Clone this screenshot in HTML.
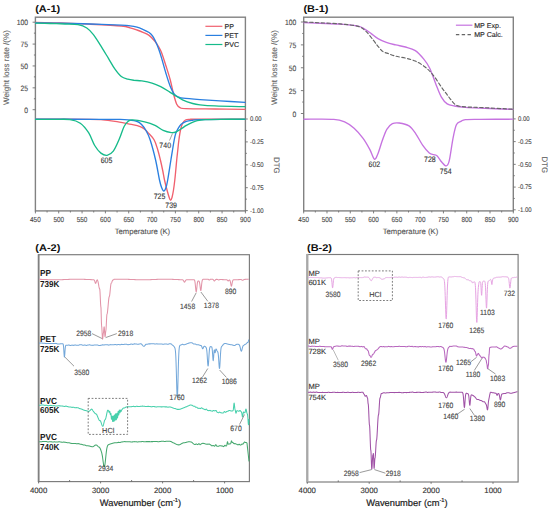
<!DOCTYPE html>
<html><head><meta charset="utf-8"><style>
html,body{margin:0;padding:0;background:#fff;width:550px;height:510px;overflow:hidden}
svg{display:block}
text{font-family:"Liberation Sans",sans-serif;text-rendering:geometricPrecision}
</style></head><body>
<svg width="550" height="510" viewBox="0 0 550 510">
<rect width="550" height="510" fill="#fff"/>
<text x="0" y="0" font-size="9.73" fill="#111" text-anchor="start" font-weight="bold"  transform="translate(35.2 12.2) scale(1.13 1)">(A-1)</text>
<rect x="35.4" y="17.2" width="210" height="193.7" fill="none" stroke="#828282" stroke-width="1.4"/>
<line x1="35.4" y1="210.9" x2="35.4" y2="213.4" stroke="#707070" stroke-width="0.9"/>
<text x="0" y="0" font-size="7.27" fill="#4a4a4a" text-anchor="middle" font-weight="normal" stroke="#4a4a4a" stroke-width="0.12"  transform="translate(35.4 221.6) scale(0.88 1)">450</text>
<line x1="47.07" y1="210.9" x2="47.07" y2="212.5" stroke="#707070" stroke-width="0.9"/>
<line x1="58.73" y1="210.9" x2="58.73" y2="213.4" stroke="#707070" stroke-width="0.9"/>
<text x="0" y="0" font-size="7.27" fill="#4a4a4a" text-anchor="middle" font-weight="normal" stroke="#4a4a4a" stroke-width="0.12"  transform="translate(58.73 221.6) scale(0.88 1)">500</text>
<line x1="70.4" y1="210.9" x2="70.4" y2="212.5" stroke="#707070" stroke-width="0.9"/>
<line x1="82.07" y1="210.9" x2="82.07" y2="213.4" stroke="#707070" stroke-width="0.9"/>
<text x="0" y="0" font-size="7.27" fill="#4a4a4a" text-anchor="middle" font-weight="normal" stroke="#4a4a4a" stroke-width="0.12"  transform="translate(82.07 221.6) scale(0.88 1)">550</text>
<line x1="93.73" y1="210.9" x2="93.73" y2="212.5" stroke="#707070" stroke-width="0.9"/>
<line x1="105.4" y1="210.9" x2="105.4" y2="213.4" stroke="#707070" stroke-width="0.9"/>
<text x="0" y="0" font-size="7.27" fill="#4a4a4a" text-anchor="middle" font-weight="normal" stroke="#4a4a4a" stroke-width="0.12"  transform="translate(105.4 221.6) scale(0.88 1)">600</text>
<line x1="117.07" y1="210.9" x2="117.07" y2="212.5" stroke="#707070" stroke-width="0.9"/>
<line x1="128.73" y1="210.9" x2="128.73" y2="213.4" stroke="#707070" stroke-width="0.9"/>
<text x="0" y="0" font-size="7.27" fill="#4a4a4a" text-anchor="middle" font-weight="normal" stroke="#4a4a4a" stroke-width="0.12"  transform="translate(128.73 221.6) scale(0.88 1)">650</text>
<line x1="140.4" y1="210.9" x2="140.4" y2="212.5" stroke="#707070" stroke-width="0.9"/>
<line x1="152.07" y1="210.9" x2="152.07" y2="213.4" stroke="#707070" stroke-width="0.9"/>
<text x="0" y="0" font-size="7.27" fill="#4a4a4a" text-anchor="middle" font-weight="normal" stroke="#4a4a4a" stroke-width="0.12"  transform="translate(152.07 221.6) scale(0.88 1)">700</text>
<line x1="163.73" y1="210.9" x2="163.73" y2="212.5" stroke="#707070" stroke-width="0.9"/>
<line x1="175.4" y1="210.9" x2="175.4" y2="213.4" stroke="#707070" stroke-width="0.9"/>
<text x="0" y="0" font-size="7.27" fill="#4a4a4a" text-anchor="middle" font-weight="normal" stroke="#4a4a4a" stroke-width="0.12"  transform="translate(175.4 221.6) scale(0.88 1)">750</text>
<line x1="187.07" y1="210.9" x2="187.07" y2="212.5" stroke="#707070" stroke-width="0.9"/>
<line x1="198.73" y1="210.9" x2="198.73" y2="213.4" stroke="#707070" stroke-width="0.9"/>
<text x="0" y="0" font-size="7.27" fill="#4a4a4a" text-anchor="middle" font-weight="normal" stroke="#4a4a4a" stroke-width="0.12"  transform="translate(198.73 221.6) scale(0.88 1)">800</text>
<line x1="210.4" y1="210.9" x2="210.4" y2="212.5" stroke="#707070" stroke-width="0.9"/>
<line x1="222.07" y1="210.9" x2="222.07" y2="213.4" stroke="#707070" stroke-width="0.9"/>
<text x="0" y="0" font-size="7.27" fill="#4a4a4a" text-anchor="middle" font-weight="normal" stroke="#4a4a4a" stroke-width="0.12"  transform="translate(222.07 221.6) scale(0.88 1)">850</text>
<line x1="233.73" y1="210.9" x2="233.73" y2="212.5" stroke="#707070" stroke-width="0.9"/>
<line x1="245.4" y1="210.9" x2="245.4" y2="213.4" stroke="#707070" stroke-width="0.9"/>
<text x="0" y="0" font-size="7.27" fill="#4a4a4a" text-anchor="middle" font-weight="normal" stroke="#4a4a4a" stroke-width="0.12"  transform="translate(245.4 221.6) scale(0.88 1)">900</text>
<line x1="32.6" y1="22.2" x2="35.4" y2="22.2" stroke="#707070" stroke-width="0.9"/>
<text x="0" y="0" font-size="7.73" fill="#4a4a4a" text-anchor="end" font-weight="normal" stroke="#4a4a4a" stroke-width="0.12"  transform="translate(28.1 25.3) scale(0.88 1)">100</text>
<line x1="33.9" y1="33.14" x2="35.4" y2="33.14" stroke="#707070" stroke-width="0.9"/>
<line x1="32.6" y1="44.08" x2="35.4" y2="44.08" stroke="#707070" stroke-width="0.9"/>
<text x="0" y="0" font-size="7.73" fill="#4a4a4a" text-anchor="end" font-weight="normal" stroke="#4a4a4a" stroke-width="0.12"  transform="translate(28.1 47.18) scale(0.88 1)">75</text>
<line x1="33.9" y1="55.01" x2="35.4" y2="55.01" stroke="#707070" stroke-width="0.9"/>
<line x1="32.6" y1="65.95" x2="35.4" y2="65.95" stroke="#707070" stroke-width="0.9"/>
<text x="0" y="0" font-size="7.73" fill="#4a4a4a" text-anchor="end" font-weight="normal" stroke="#4a4a4a" stroke-width="0.12"  transform="translate(28.1 69.05) scale(0.88 1)">50</text>
<line x1="33.9" y1="76.89" x2="35.4" y2="76.89" stroke="#707070" stroke-width="0.9"/>
<line x1="32.6" y1="87.83" x2="35.4" y2="87.83" stroke="#707070" stroke-width="0.9"/>
<text x="0" y="0" font-size="7.73" fill="#4a4a4a" text-anchor="end" font-weight="normal" stroke="#4a4a4a" stroke-width="0.12"  transform="translate(28.1 90.92) scale(0.88 1)">25</text>
<line x1="33.9" y1="98.76" x2="35.4" y2="98.76" stroke="#707070" stroke-width="0.9"/>
<line x1="32.6" y1="109.7" x2="35.4" y2="109.7" stroke="#707070" stroke-width="0.9"/>
<text x="0" y="0" font-size="7.73" fill="#4a4a4a" text-anchor="end" font-weight="normal" stroke="#4a4a4a" stroke-width="0.12"  transform="translate(28.1 112.8) scale(0.88 1)">0</text>
<line x1="245.4" y1="119" x2="247.8" y2="119" stroke="#707070" stroke-width="0.9"/>
<text x="0" y="0" font-size="6.67" fill="#4a4a4a" text-anchor="start" font-weight="normal" stroke="#4a4a4a" stroke-width="0.12"  transform="translate(250 121.3) scale(0.9 1)">0.00</text>
<line x1="245.4" y1="130.45" x2="246.9" y2="130.45" stroke="#707070" stroke-width="0.9"/>
<line x1="245.4" y1="141.9" x2="247.8" y2="141.9" stroke="#707070" stroke-width="0.9"/>
<text x="0" y="0" font-size="6.67" fill="#4a4a4a" text-anchor="start" font-weight="normal" stroke="#4a4a4a" stroke-width="0.12"  transform="translate(250 144.2) scale(0.9 1)">-0.25</text>
<line x1="245.4" y1="153.35" x2="246.9" y2="153.35" stroke="#707070" stroke-width="0.9"/>
<line x1="245.4" y1="164.8" x2="247.8" y2="164.8" stroke="#707070" stroke-width="0.9"/>
<text x="0" y="0" font-size="6.67" fill="#4a4a4a" text-anchor="start" font-weight="normal" stroke="#4a4a4a" stroke-width="0.12"  transform="translate(250 167.1) scale(0.9 1)">-0.50</text>
<line x1="245.4" y1="176.25" x2="246.9" y2="176.25" stroke="#707070" stroke-width="0.9"/>
<line x1="245.4" y1="187.7" x2="247.8" y2="187.7" stroke="#707070" stroke-width="0.9"/>
<text x="0" y="0" font-size="6.67" fill="#4a4a4a" text-anchor="start" font-weight="normal" stroke="#4a4a4a" stroke-width="0.12"  transform="translate(250 190) scale(0.9 1)">-0.75</text>
<line x1="245.4" y1="199.15" x2="246.9" y2="199.15" stroke="#707070" stroke-width="0.9"/>
<line x1="245.4" y1="210.6" x2="247.8" y2="210.6" stroke="#707070" stroke-width="0.9"/>
<text x="0" y="0" font-size="6.67" fill="#4a4a4a" text-anchor="start" font-weight="normal" stroke="#4a4a4a" stroke-width="0.12"  transform="translate(250 212.9) scale(0.9 1)">-1.00</text>
<text x="142.4" y="233.6" font-size="7.7" fill="#555" text-anchor="middle" font-weight="normal" stroke="#555" stroke-width="0.12" >Temperature (K)</text>
<text x="0" y="0" font-size="8.1" fill="#666" text-anchor="middle" font-weight="normal" stroke="#666" stroke-width="0.1" transform="translate(8.5 67.6) rotate(-90)">Weight loss rate /(%)</text>
<text x="0" y="0" font-size="7.9" fill="#666" text-anchor="middle" font-weight="normal" stroke="#666" stroke-width="0.12" transform="translate(273.9 165.3) rotate(90)">DTG</text>
<path d="M35.6 22.4 C39.67 22.5 50.93 22.7 60 23 C69.07 23.3 79.78 23.7 90 24.2 C100.22 24.7 114.63 25.4 121.3 26 C127.97 26.6 127.38 27.13 130 27.8 C132.62 28.47 134.83 29.25 137 30 C139.17 30.75 140.98 31.4 143 32.3 C145.02 33.2 147.12 33.92 149.1 35.4 C151.08 36.88 153.33 39.35 154.9 41.2 C156.47 43.05 157.38 44.58 158.5 46.5 C159.62 48.42 160.37 49.5 161.6 52.7 C162.83 55.9 164.47 61.2 165.9 65.7 C167.33 70.2 168.95 75.07 170.2 79.7 C171.45 84.33 172.32 89.42 173.4 93.5 C174.48 97.58 175.6 101.85 176.7 104.2 C177.8 106.55 178.45 106.87 180 107.6 C181.55 108.33 180.17 108.37 186 108.6 C191.83 108.83 205.17 108.88 215 109 C224.83 109.12 240 109.25 245 109.3" fill="none" stroke="#f0606e" stroke-width="1.35" stroke-linejoin="round" stroke-linecap="round" />
<path d="M35.6 22.9 C39.67 22.95 50.93 23.02 60 23.2 C69.07 23.38 79.78 23.68 90 24 C100.22 24.32 114.63 24.8 121.3 25.1 C127.97 25.4 127.38 25.45 130 25.8 C132.62 26.15 134.83 26.58 137 27.2 C139.17 27.82 140.98 28.62 143 29.5 C145.02 30.38 147.52 31.45 149.1 32.5 C150.68 33.55 151.48 34.42 152.5 35.8 C153.52 37.18 154.2 38.68 155.2 40.8 C156.2 42.92 157.43 45.62 158.5 48.5 C159.57 51.38 160.37 53.98 161.6 58.1 C162.83 62.22 164.47 68.52 165.9 73.2 C167.33 77.88 168.77 82.65 170.2 86.2 C171.63 89.75 173.03 92.67 174.5 94.5 C175.97 96.33 177.57 96.58 179 97.2 C180.43 97.82 179.6 97.8 183.1 98.2 C186.6 98.6 193.85 99.15 200 99.6 C206.15 100.05 212.5 100.43 220 100.9 C227.5 101.37 240.83 102.15 245 102.4" fill="none" stroke="#2a7fe0" stroke-width="1.35" stroke-linejoin="round" stroke-linecap="round" />
<path d="M35.6 23.2 C38 23.25 45.1 23.37 50 23.5 C54.9 23.63 60.32 23.8 65 24 C69.68 24.2 74.47 24.03 78.1 24.7 C81.73 25.37 84.28 26.38 86.8 28 C89.32 29.62 91.05 31.72 93.2 34.4 C95.35 37.08 97.18 40.15 99.7 44.1 C102.22 48.05 105.78 53.97 108.3 58.1 C110.82 62.23 112.63 65.83 114.8 68.9 C116.97 71.97 119.13 74.78 121.3 76.5 C123.47 78.22 125.68 78.57 127.8 79.2 C129.92 79.83 131.67 80.02 134 80.3 C136.33 80.58 138.8 80.43 141.8 80.9 C144.8 81.37 148.85 82.13 152 83.1 C155.15 84.07 157.78 85.25 160.7 86.7 C163.62 88.15 167.07 90.33 169.5 91.8 C171.93 93.27 173.13 94.17 175.3 95.5 C177.47 96.83 179.6 98.47 182.5 99.8 C185.4 101.13 189.78 102.67 192.7 103.5 C195.62 104.33 196.28 104.4 200 104.8 C203.72 105.2 207.5 105.58 215 105.9 C222.5 106.22 240 106.57 245 106.7" fill="none" stroke="#16bb8a" stroke-width="1.35" stroke-linejoin="round" stroke-linecap="round" />
<path d="M35.6 119.2 C44.67 119.22 78.77 119.2 90 119.3 C101.23 119.4 98.83 119.45 103 119.8 C107.17 120.15 110.8 120.73 115 121.4 C119.2 122.07 124.48 123.1 128.2 123.8 C131.92 124.5 134.73 124.83 137.3 125.6 C139.87 126.37 141.78 127.18 143.6 128.4 C145.42 129.62 146.43 130.97 148.2 132.9 C149.97 134.83 152.6 137.15 154.2 140 C155.8 142.85 156.77 146.67 157.8 150 C158.83 153.33 159.6 156.67 160.4 160 C161.2 163.33 161.92 166.67 162.6 170 C163.28 173.33 163.77 176.67 164.5 180 C165.23 183.33 166.22 187.08 167 190 C167.78 192.92 168.6 195.78 169.2 197.5 C169.8 199.22 170.13 200.3 170.6 200.3 C171.07 200.3 171.52 199.22 172 197.5 C172.48 195.78 173.03 192.92 173.5 190 C173.97 187.08 174.42 183.33 174.8 180 C175.18 176.67 175.48 173.33 175.8 170 C176.12 166.67 176.37 163.33 176.7 160 C177.03 156.67 177.43 153.33 177.8 150 C178.17 146.67 178.45 143.33 178.9 140 C179.35 136.67 179.9 132.75 180.5 130 C181.1 127.25 181.67 125.17 182.5 123.5 C183.33 121.83 184.25 120.7 185.5 120 C186.75 119.3 187.58 119.43 190 119.3 C192.42 119.17 190.83 119.22 200 119.2 C209.17 119.18 237.5 119.2 245 119.2" fill="none" stroke="#f0606e" stroke-width="1.35" stroke-linejoin="round" stroke-linecap="round" />
<path d="M35.6 119.2 C46.33 119.22 85.93 119.27 100 119.3 C114.07 119.33 115.3 119.3 120 119.4 C124.7 119.5 125.32 119.55 128.2 119.9 C131.08 120.25 135.03 120.7 137.3 121.5 C139.57 122.3 140.35 123.2 141.8 124.7 C143.25 126.2 144.6 127.95 146 130.5 C147.4 133.05 148.6 135.08 150.2 140 C151.8 144.92 154.05 153.33 155.6 160 C157.15 166.67 158.5 175.42 159.5 180 C160.5 184.58 160.88 185.67 161.6 187.5 C162.32 189.33 163.07 191 163.8 191 C164.53 191 165.35 189.33 166 187.5 C166.65 185.67 166.88 184.58 167.7 180 C168.52 175.42 169.82 166.67 170.9 160 C171.98 153.33 173.4 144.4 174.2 140 C175 135.6 175.03 135.53 175.7 133.6 C176.37 131.67 177.33 129.92 178.2 128.4 C179.07 126.88 180 125.47 180.9 124.5 C181.8 123.53 182.68 123.13 183.6 122.6 C184.52 122.07 185.03 121.67 186.4 121.3 C187.77 120.93 189.53 120.68 191.8 120.4 C194.07 120.12 191.13 119.78 200 119.6 C208.87 119.42 237.5 119.35 245 119.3" fill="none" stroke="#2a7fe0" stroke-width="1.35" stroke-linejoin="round" stroke-linecap="round" />
<path d="M35.6 119.3 C38.83 119.32 49.27 119.35 55 119.4 C60.73 119.45 65.78 118.97 70 119.6 C74.22 120.23 77.2 121.02 80.3 123.2 C83.4 125.38 86.2 128.98 88.6 132.7 C91 136.42 92.65 142.1 94.7 145.5 C96.75 148.9 98.83 151.47 100.9 153.1 C102.97 154.73 105.03 155.62 107.1 155.3 C109.17 154.98 111.25 153.95 113.3 151.2 C115.35 148.45 117.6 142.92 119.4 138.8 C121.2 134.68 122.63 129.42 124.1 126.5 C125.57 123.58 126.83 122.4 128.2 121.3 C129.57 120.2 129.55 119.8 132.3 119.9 C135.05 120 140.92 120.98 144.7 121.9 C148.48 122.82 151.92 123.98 155 125.4 C158.08 126.82 160.47 129.2 163.2 130.4 C165.93 131.6 169.27 132.33 171.4 132.6 C173.53 132.87 174.42 132.6 176 132 C177.58 131.4 179.17 130.1 180.9 129 C182.63 127.9 184.58 126.47 186.4 125.4 C188.22 124.33 189.98 123.38 191.8 122.6 C193.62 121.82 195.1 121.18 197.3 120.7 C199.5 120.22 201.22 119.93 205 119.7 C208.78 119.47 213.33 119.38 220 119.3 C226.67 119.22 240.83 119.22 245 119.2" fill="none" stroke="#16bb8a" stroke-width="1.35" stroke-linejoin="round" stroke-linecap="round" />
<line x1="205.4" y1="26.3" x2="222.4" y2="26.3" stroke="#f0606e" stroke-width="1.2"/>
<text x="224.6" y="28.8" font-size="7.1" fill="#222" text-anchor="start" font-weight="normal" stroke="#222" stroke-width="0.12" >PP</text>
<line x1="205.4" y1="35.4" x2="222.4" y2="35.4" stroke="#2a7fe0" stroke-width="1.2"/>
<text x="224.6" y="37.9" font-size="7.1" fill="#222" text-anchor="start" font-weight="normal" stroke="#222" stroke-width="0.12" >PET</text>
<line x1="205.4" y1="44.5" x2="222.4" y2="44.5" stroke="#16bb8a" stroke-width="1.2"/>
<text x="224.6" y="47" font-size="7.1" fill="#222" text-anchor="start" font-weight="normal" stroke="#222" stroke-width="0.12" >PVC</text>
<text x="0" y="0" font-size="7.95" fill="#333" text-anchor="middle" font-weight="normal" stroke="#333" stroke-width="0.12"  transform="translate(106.5 162.5) scale(0.88 1)">605</text>
<text x="0" y="0" font-size="7.95" fill="#333" text-anchor="middle" font-weight="normal" stroke="#333" stroke-width="0.12"  transform="translate(165.2 147.6) scale(0.88 1)">740</text>
<line x1="169.5" y1="140.5" x2="172.5" y2="133.5" stroke="#666" stroke-width="0.6"/>
<text x="0" y="0" font-size="7.95" fill="#333" text-anchor="middle" font-weight="normal" stroke="#333" stroke-width="0.12"  transform="translate(159.5 198.6) scale(0.88 1)">725</text>
<text x="0" y="0" font-size="7.95" fill="#333" text-anchor="middle" font-weight="normal" stroke="#333" stroke-width="0.12"  transform="translate(171.1 207.6) scale(0.88 1)">739</text>
<text x="0" y="0" font-size="9.73" fill="#111" text-anchor="start" font-weight="bold"  transform="translate(303.4 12.2) scale(1.13 1)">(B-1)</text>
<rect x="303.7" y="17.2" width="209.6" height="193.7" fill="none" stroke="#828282" stroke-width="1.4"/>
<line x1="303.7" y1="210.9" x2="303.7" y2="213.4" stroke="#707070" stroke-width="0.9"/>
<text x="0" y="0" font-size="7.27" fill="#4a4a4a" text-anchor="middle" font-weight="normal" stroke="#4a4a4a" stroke-width="0.12"  transform="translate(303.7 221.6) scale(0.88 1)">450</text>
<line x1="315.34" y1="210.9" x2="315.34" y2="212.5" stroke="#707070" stroke-width="0.9"/>
<line x1="326.99" y1="210.9" x2="326.99" y2="213.4" stroke="#707070" stroke-width="0.9"/>
<text x="0" y="0" font-size="7.27" fill="#4a4a4a" text-anchor="middle" font-weight="normal" stroke="#4a4a4a" stroke-width="0.12"  transform="translate(326.99 221.6) scale(0.88 1)">500</text>
<line x1="338.63" y1="210.9" x2="338.63" y2="212.5" stroke="#707070" stroke-width="0.9"/>
<line x1="350.28" y1="210.9" x2="350.28" y2="213.4" stroke="#707070" stroke-width="0.9"/>
<text x="0" y="0" font-size="7.27" fill="#4a4a4a" text-anchor="middle" font-weight="normal" stroke="#4a4a4a" stroke-width="0.12"  transform="translate(350.28 221.6) scale(0.88 1)">550</text>
<line x1="361.92" y1="210.9" x2="361.92" y2="212.5" stroke="#707070" stroke-width="0.9"/>
<line x1="373.57" y1="210.9" x2="373.57" y2="213.4" stroke="#707070" stroke-width="0.9"/>
<text x="0" y="0" font-size="7.27" fill="#4a4a4a" text-anchor="middle" font-weight="normal" stroke="#4a4a4a" stroke-width="0.12"  transform="translate(373.57 221.6) scale(0.88 1)">600</text>
<line x1="385.21" y1="210.9" x2="385.21" y2="212.5" stroke="#707070" stroke-width="0.9"/>
<line x1="396.86" y1="210.9" x2="396.86" y2="213.4" stroke="#707070" stroke-width="0.9"/>
<text x="0" y="0" font-size="7.27" fill="#4a4a4a" text-anchor="middle" font-weight="normal" stroke="#4a4a4a" stroke-width="0.12"  transform="translate(396.86 221.6) scale(0.88 1)">650</text>
<line x1="408.5" y1="210.9" x2="408.5" y2="212.5" stroke="#707070" stroke-width="0.9"/>
<line x1="420.14" y1="210.9" x2="420.14" y2="213.4" stroke="#707070" stroke-width="0.9"/>
<text x="0" y="0" font-size="7.27" fill="#4a4a4a" text-anchor="middle" font-weight="normal" stroke="#4a4a4a" stroke-width="0.12"  transform="translate(420.14 221.6) scale(0.88 1)">700</text>
<line x1="431.79" y1="210.9" x2="431.79" y2="212.5" stroke="#707070" stroke-width="0.9"/>
<line x1="443.43" y1="210.9" x2="443.43" y2="213.4" stroke="#707070" stroke-width="0.9"/>
<text x="0" y="0" font-size="7.27" fill="#4a4a4a" text-anchor="middle" font-weight="normal" stroke="#4a4a4a" stroke-width="0.12"  transform="translate(443.43 221.6) scale(0.88 1)">750</text>
<line x1="455.08" y1="210.9" x2="455.08" y2="212.5" stroke="#707070" stroke-width="0.9"/>
<line x1="466.72" y1="210.9" x2="466.72" y2="213.4" stroke="#707070" stroke-width="0.9"/>
<text x="0" y="0" font-size="7.27" fill="#4a4a4a" text-anchor="middle" font-weight="normal" stroke="#4a4a4a" stroke-width="0.12"  transform="translate(466.72 221.6) scale(0.88 1)">800</text>
<line x1="478.37" y1="210.9" x2="478.37" y2="212.5" stroke="#707070" stroke-width="0.9"/>
<line x1="490.01" y1="210.9" x2="490.01" y2="213.4" stroke="#707070" stroke-width="0.9"/>
<text x="0" y="0" font-size="7.27" fill="#4a4a4a" text-anchor="middle" font-weight="normal" stroke="#4a4a4a" stroke-width="0.12"  transform="translate(490.01 221.6) scale(0.88 1)">850</text>
<line x1="501.66" y1="210.9" x2="501.66" y2="212.5" stroke="#707070" stroke-width="0.9"/>
<line x1="513.3" y1="210.9" x2="513.3" y2="213.4" stroke="#707070" stroke-width="0.9"/>
<text x="0" y="0" font-size="7.27" fill="#4a4a4a" text-anchor="middle" font-weight="normal" stroke="#4a4a4a" stroke-width="0.12"  transform="translate(513.3 221.6) scale(0.88 1)">900</text>
<line x1="300.9" y1="22" x2="303.7" y2="22" stroke="#707070" stroke-width="0.9"/>
<text x="0" y="0" font-size="7.73" fill="#4a4a4a" text-anchor="end" font-weight="normal" stroke="#4a4a4a" stroke-width="0.12"  transform="translate(296.4 25.1) scale(0.88 1)">100</text>
<line x1="302.2" y1="33.44" x2="303.7" y2="33.44" stroke="#707070" stroke-width="0.9"/>
<line x1="300.9" y1="44.88" x2="303.7" y2="44.88" stroke="#707070" stroke-width="0.9"/>
<text x="0" y="0" font-size="7.73" fill="#4a4a4a" text-anchor="end" font-weight="normal" stroke="#4a4a4a" stroke-width="0.12"  transform="translate(296.4 47.98) scale(0.88 1)">75</text>
<line x1="302.2" y1="56.31" x2="303.7" y2="56.31" stroke="#707070" stroke-width="0.9"/>
<line x1="300.9" y1="67.75" x2="303.7" y2="67.75" stroke="#707070" stroke-width="0.9"/>
<text x="0" y="0" font-size="7.73" fill="#4a4a4a" text-anchor="end" font-weight="normal" stroke="#4a4a4a" stroke-width="0.12"  transform="translate(296.4 70.85) scale(0.88 1)">50</text>
<line x1="302.2" y1="79.19" x2="303.7" y2="79.19" stroke="#707070" stroke-width="0.9"/>
<line x1="300.9" y1="90.62" x2="303.7" y2="90.62" stroke="#707070" stroke-width="0.9"/>
<text x="0" y="0" font-size="7.73" fill="#4a4a4a" text-anchor="end" font-weight="normal" stroke="#4a4a4a" stroke-width="0.12"  transform="translate(296.4 93.72) scale(0.88 1)">25</text>
<line x1="302.2" y1="102.06" x2="303.7" y2="102.06" stroke="#707070" stroke-width="0.9"/>
<line x1="300.9" y1="113.5" x2="303.7" y2="113.5" stroke="#707070" stroke-width="0.9"/>
<text x="0" y="0" font-size="7.73" fill="#4a4a4a" text-anchor="end" font-weight="normal" stroke="#4a4a4a" stroke-width="0.12"  transform="translate(296.4 116.6) scale(0.88 1)">0</text>
<line x1="513.3" y1="118.9" x2="515.7" y2="118.9" stroke="#707070" stroke-width="0.9"/>
<text x="0" y="0" font-size="6.67" fill="#4a4a4a" text-anchor="start" font-weight="normal" stroke="#4a4a4a" stroke-width="0.12"  transform="translate(517.9 121.2) scale(0.9 1)">0.00</text>
<line x1="513.3" y1="130.26" x2="514.8" y2="130.26" stroke="#707070" stroke-width="0.9"/>
<line x1="513.3" y1="141.62" x2="515.7" y2="141.62" stroke="#707070" stroke-width="0.9"/>
<text x="0" y="0" font-size="6.67" fill="#4a4a4a" text-anchor="start" font-weight="normal" stroke="#4a4a4a" stroke-width="0.12"  transform="translate(517.9 143.93) scale(0.9 1)">-0.25</text>
<line x1="513.3" y1="152.99" x2="514.8" y2="152.99" stroke="#707070" stroke-width="0.9"/>
<line x1="513.3" y1="164.35" x2="515.7" y2="164.35" stroke="#707070" stroke-width="0.9"/>
<text x="0" y="0" font-size="6.67" fill="#4a4a4a" text-anchor="start" font-weight="normal" stroke="#4a4a4a" stroke-width="0.12"  transform="translate(517.9 166.65) scale(0.9 1)">-0.50</text>
<line x1="513.3" y1="175.71" x2="514.8" y2="175.71" stroke="#707070" stroke-width="0.9"/>
<line x1="513.3" y1="187.08" x2="515.7" y2="187.08" stroke="#707070" stroke-width="0.9"/>
<text x="0" y="0" font-size="6.67" fill="#4a4a4a" text-anchor="start" font-weight="normal" stroke="#4a4a4a" stroke-width="0.12"  transform="translate(517.9 189.38) scale(0.9 1)">-0.75</text>
<line x1="513.3" y1="198.44" x2="514.8" y2="198.44" stroke="#707070" stroke-width="0.9"/>
<line x1="513.3" y1="209.8" x2="515.7" y2="209.8" stroke="#707070" stroke-width="0.9"/>
<text x="0" y="0" font-size="6.67" fill="#4a4a4a" text-anchor="start" font-weight="normal" stroke="#4a4a4a" stroke-width="0.12"  transform="translate(517.9 212.1) scale(0.9 1)">-1.00</text>
<text x="410.5" y="233.6" font-size="7.7" fill="#555" text-anchor="middle" font-weight="normal" stroke="#555" stroke-width="0.12" >Temperature (K)</text>
<text x="0" y="0" font-size="8.1" fill="#666" text-anchor="middle" font-weight="normal" stroke="#666" stroke-width="0.1" transform="translate(276.8 67.6) rotate(-90)">Weight loss rate /(%)</text>
<text x="0" y="0" font-size="7.9" fill="#666" text-anchor="middle" font-weight="normal" stroke="#666" stroke-width="0.12" transform="translate(541.8 164.85) rotate(90)">DTG</text>
<path d="M303.9 22.6 C306.58 22.72 313.98 23.03 320 23.3 C326.02 23.57 333.63 23.72 340 24.2 C346.37 24.68 354.03 25.33 358.2 26.2 C362.37 27.07 362.83 28.17 365 29.4 C367.17 30.63 369.03 32.07 371.2 33.6 C373.37 35.13 375.48 37.13 378 38.6 C380.52 40.07 383.35 41.35 386.3 42.4 C389.25 43.45 392.5 44.13 395.7 44.9 C398.9 45.67 402.23 46.05 405.5 47 C408.77 47.95 412.28 48.62 415.3 50.6 C418.32 52.58 421.22 56 423.6 58.9 C425.98 61.8 427.6 63.92 429.6 68 C431.6 72.08 433.63 78.53 435.6 83.4 C437.57 88.27 439.47 93.78 441.4 97.2 C443.33 100.62 445.02 102.43 447.2 103.9 C449.38 105.37 451.47 105.43 454.5 106 C457.53 106.57 461.15 106.95 465.4 107.3 C469.65 107.65 472.1 107.75 480 108.1 C487.9 108.45 507.33 109.18 512.8 109.4" fill="none" stroke="#c673e0" stroke-width="1.35" stroke-linejoin="round" stroke-linecap="round" />
<path d="M303.9 21.9 C306.58 22.05 313.98 22.47 320 22.8 C326.02 23.13 333.63 23.3 340 23.9 C346.37 24.5 353.87 25.15 358.2 26.4 C362.53 27.65 363.48 29.1 366 31.4 C368.52 33.7 371.3 37.7 373.3 40.2 C375.3 42.7 376.38 44.5 378 46.4 C379.62 48.3 381.37 50.43 383 51.6 C384.63 52.77 385.68 52.63 387.8 53.4 C389.92 54.17 392.75 55.42 395.7 56.2 C398.65 56.98 402.23 57.28 405.5 58.1 C408.77 58.92 412.03 59.62 415.3 61.1 C418.57 62.58 422.17 64.72 425.1 67 C428.03 69.28 430.13 71.38 432.9 74.8 C435.67 78.22 439.52 84.43 441.7 87.5 C443.88 90.57 444.62 91.35 446 93.2 C447.38 95.05 448.5 96.73 450 98.6 C451.5 100.47 453.33 103.12 455 104.4 C456.67 105.68 458 105.87 460 106.3 C462 106.73 463.67 106.8 467 107 C470.33 107.2 472.37 107.13 480 107.5 C487.63 107.87 507.33 108.92 512.8 109.2" fill="none" stroke="#666" stroke-width="1.15" stroke-linejoin="round" stroke-linecap="round" stroke-dasharray="3.4 2.4"/>
<path d="M303.9 119.2 C308.88 119.22 326.93 118.82 333.8 119.3 C340.67 119.78 341.72 120.62 345.1 122.1 C348.48 123.58 351.1 125.5 354.1 128.2 C357.1 130.9 360.47 134.73 363.1 138.3 C365.73 141.87 368.02 146.13 369.9 149.6 C371.78 153.07 373.08 158.35 374.4 159.1 C375.72 159.85 376.48 157.18 377.8 154.1 C379.12 151.02 380.8 144.73 382.3 140.6 C383.8 136.47 385.12 132.12 386.8 129.3 C388.48 126.48 390.33 124.75 392.4 123.7 C394.47 122.65 396.43 122.63 399.2 123 C401.97 123.37 406.23 124.1 409 125.9 C411.77 127.7 413.53 130.6 415.8 133.8 C418.07 137 420.35 141.9 422.6 145.1 C424.85 148.3 427.43 151.42 429.3 153 C431.17 154.58 432.48 154.12 433.8 154.6 C435.12 155.08 435.88 154.67 437.2 155.9 C438.52 157.13 440.2 160.33 441.7 162 C443.2 163.67 444.95 166.08 446.2 165.9 C447.45 165.72 448.07 165.5 449.2 160.9 C450.33 156.3 451.8 144.32 453 138.3 C454.2 132.28 455.08 127.62 456.4 124.8 C457.72 121.98 459.4 122.27 460.9 121.4 C462.4 120.53 462.22 119.95 465.4 119.6 C468.58 119.25 472.1 119.37 480 119.3 C487.9 119.23 507.33 119.22 512.8 119.2" fill="none" stroke="#c673e0" stroke-width="1.35" stroke-linejoin="round" stroke-linecap="round" />
<line x1="455.9" y1="25.2" x2="472.4" y2="25.2" stroke="#c673e0" stroke-width="1.2"/>
<text x="474.2" y="27.7" font-size="7.1" fill="#222" text-anchor="start" font-weight="normal" stroke="#222" stroke-width="0.12" >MP Exp.</text>
<line x1="455.9" y1="34.6" x2="472.4" y2="34.6" stroke="#666" stroke-width="1.15" stroke-dasharray="3.4 2.4"/>
<text x="474.2" y="37.1" font-size="7.1" fill="#222" text-anchor="start" font-weight="normal" stroke="#222" stroke-width="0.12" >MP Calc.</text>
<text x="0" y="0" font-size="7.95" fill="#333" text-anchor="middle" font-weight="normal" stroke="#333" stroke-width="0.12"  transform="translate(374.4 167.2) scale(0.88 1)">602</text>
<text x="0" y="0" font-size="7.95" fill="#333" text-anchor="middle" font-weight="normal" stroke="#333" stroke-width="0.12"  transform="translate(429.9 162.3) scale(0.88 1)">728</text>
<text x="0" y="0" font-size="7.95" fill="#333" text-anchor="middle" font-weight="normal" stroke="#333" stroke-width="0.12"  transform="translate(445.7 173.5) scale(0.88 1)">754</text>

<text x="0" y="0" font-size="9.73" fill="#111" text-anchor="start" font-weight="bold"  transform="translate(35.3 251) scale(1.13 1)">(A-2)</text>
<rect x="38.6" y="254.7" width="210.8" height="226.9" fill="none" stroke="#7a7a7a" stroke-width="1.15"/>
<line x1="38.6" y1="254.2" x2="38.6" y2="482.1" stroke="#808080" stroke-width="1.75"/>
<line x1="38.6" y1="481.6" x2="38.6" y2="483.4" stroke="#6a6a6a" stroke-width="0.9"/>
<text x="38.6" y="492.8" font-size="7.8" fill="#333" text-anchor="middle" font-weight="normal" stroke="#333" stroke-width="0.12" >4000</text>
<line x1="69.6" y1="481.6" x2="69.6" y2="480" stroke="#6a6a6a" stroke-width="0.9"/>
<line x1="100.6" y1="481.6" x2="100.6" y2="483.4" stroke="#6a6a6a" stroke-width="0.9"/>
<text x="100.6" y="492.8" font-size="7.8" fill="#333" text-anchor="middle" font-weight="normal" stroke="#333" stroke-width="0.12" >3000</text>
<line x1="131.6" y1="481.6" x2="131.6" y2="480" stroke="#6a6a6a" stroke-width="0.9"/>
<line x1="162.6" y1="481.6" x2="162.6" y2="483.4" stroke="#6a6a6a" stroke-width="0.9"/>
<text x="162.6" y="492.8" font-size="7.8" fill="#333" text-anchor="middle" font-weight="normal" stroke="#333" stroke-width="0.12" >2000</text>
<line x1="193.6" y1="481.6" x2="193.6" y2="480" stroke="#6a6a6a" stroke-width="0.9"/>
<line x1="224.6" y1="481.6" x2="224.6" y2="483.4" stroke="#6a6a6a" stroke-width="0.9"/>
<text x="224.6" y="492.8" font-size="7.8" fill="#333" text-anchor="middle" font-weight="normal" stroke="#333" stroke-width="0.12" >1000</text>
<text x="140.5" y="505.8" font-size="9.3" fill="#222" stroke="#222" stroke-width="0.2" text-anchor="middle">Wavenumber (cm<tspan font-size="5.8" dy="-3.4">-1</tspan><tspan dy="3.4">)</tspan></text>
<path d="M39.2 279.31 L39.4 279.32 L39.6 279.32 L39.8 279.33 L40 279.34 L40.2 279.35 L40.4 279.35 L40.6 279.36 L40.8 279.37 L41 279.38 L41.2 279.38 L41.4 279.39 L41.6 279.4 L41.8 279.41 L42 279.42 L42.2 279.42 L42.4 279.43 L42.6 279.44 L42.8 279.45 L43 279.46 L43.2 279.47 L43.4 279.48 L43.6 279.48 L43.8 279.49 L44 279.5 L44.2 279.51 L44.4 279.52 L44.6 279.53 L44.8 279.53 L45 279.54 L45.2 279.55 L45.4 279.56 L45.6 279.57 L45.8 279.58 L46 279.59 L46.2 279.59 L46.4 279.6 L46.6 279.61 L46.8 279.62 L47 279.63 L47.2 279.63 L47.4 279.64 L47.6 279.65 L47.8 279.66 L48 279.66 L48.2 279.67 L48.4 279.68 L48.6 279.68 L48.8 279.69 L49 279.7 L49.2 279.7 L49.4 279.71 L49.6 279.72 L49.8 279.72 L50 279.73 L50.2 279.73 L50.4 279.74 L50.6 279.74 L50.8 279.75 L51 279.75 L51.2 279.76 L51.4 279.76 L51.6 279.77 L51.8 279.77 L52 279.77 L52.2 279.78 L52.4 279.78 L52.6 279.78 L52.8 279.79 L53 279.79 L53.2 279.79 L53.4 279.79 L53.6 279.79 L53.8 279.8 L54 279.8 L54.2 279.8 L54.4 279.8 L54.6 279.8 L54.8 279.8 L55 279.8 L55.2 279.8 L55.4 279.8 L55.6 279.8 L55.8 279.8 L56 279.8 L56.2 279.8 L56.4 279.79 L56.6 279.79 L56.8 279.79 L57 279.79 L57.2 279.79 L57.4 279.78 L57.6 279.78 L57.8 279.78 L58 279.77 L58.2 279.77 L58.4 279.76 L58.6 279.76 L58.8 279.76 L59 279.75 L59.2 279.75 L59.4 279.74 L59.6 279.74 L59.8 279.73 L60 279.73 L60.2 279.72 L60.4 279.71 L60.6 279.71 L60.8 279.7 L61 279.7 L61.2 279.69 L61.4 279.68 L61.6 279.68 L61.8 279.67 L62 279.66 L62.2 279.65 L62.4 279.65 L62.6 279.64 L62.8 279.63 L63 279.62 L63.2 279.62 L63.4 279.61 L63.6 279.6 L63.8 279.59 L64 279.58 L64.2 279.58 L64.4 279.57 L64.6 279.56 L64.8 279.55 L65 279.54 L65.2 279.53 L65.4 279.52 L65.6 279.52 L65.8 279.51 L66 279.5 L66.2 279.49 L66.4 279.48 L66.6 279.47 L66.8 279.46 L67 279.46 L67.2 279.45 L67.4 279.44 L67.6 279.43 L67.8 279.42 L68 279.41 L68.2 279.41 L68.4 279.4 L68.6 279.39 L68.8 279.38 L69 279.37 L69.2 279.37 L69.4 279.36 L69.6 279.35 L69.8 279.34 L70 279.34 L70.2 279.33 L70.4 279.32 L70.6 279.32 L70.8 279.31 L71 279.3 L71.2 279.3 L71.4 279.29 L71.6 279.28 L71.8 279.28 L72 279.27 L72.2 279.27 L72.4 279.26 L72.6 279.26 L72.8 279.25 L73 279.25 L73.2 279.24 L73.4 279.24 L73.6 279.23 L73.8 279.23 L74 279.23 L74.2 279.22 L74.4 279.22 L74.6 279.22 L74.8 279.21 L75 279.21 L75.2 279.21 L75.4 279.21 L75.6 279.21 L75.8 279.2 L76 279.2 L76.2 279.2 L76.4 279.2 L76.6 279.2 L76.8 279.2 L77 279.2 L77.2 279.2 L77.4 279.2 L77.6 279.2 L77.8 279.2 L78 279.2 L78.2 279.2 L78.4 279.21 L78.6 279.21 L78.8 279.21 L79 279.21 L79.2 279.22 L79.4 279.22 L79.6 279.22 L79.8 279.22 L80 279.23 L80.2 279.23 L80.4 279.24 L80.6 279.24 L80.8 279.24 L81 279.25 L81.2 279.25 L81.4 279.26 L81.6 279.26 L81.8 279.27 L82 279.27 L82.2 279.28 L82.4 279.29 L82.6 279.29 L82.8 279.3 L83 279.3 L83.2 279.31 L83.4 279.32 L83.6 279.32 L83.8 279.33 L84 279.34 L84.2 279.35 L84.4 279.35 L84.6 279.36 L84.8 279.37 L85 279.38 L85.2 279.38 L85.4 279.39 L85.6 279.4 L85.8 279.41 L86 279.42 L86.2 279.43 L86.4 279.43 L86.6 279.44 L86.8 279.45 L87 279.46 L87.2 279.47 L87.4 279.48 L87.6 279.48 L87.8 279.49 L88 279.5 L88.2 279.51 L88.4 279.52 L88.6 279.53 L88.8 279.54 L89 279.54 L89.2 279.55 L89.4 279.56 L89.6 279.57 L89.8 279.58 L90 279.59 L90.2 279.59 L90.4 279.6 L90.6 279.61 L90.8 279.62 L91 279.63 L91.2 279.63 L91.4 279.64 L91.6 279.65 L91.8 279.66 L92 279.66 L92.2 279.67 L92.4 279.68 L92.6 279.68 L92.8 279.69 L93 279.7 L93.2 279.71 L93.4 279.72 L93.6 279.74 L93.8 279.79 L94 279.88 L94.2 280.05 L94.4 280.35 L94.6 280.79 L94.8 281.38 L95 282.06 L95.2 282.71 L95.4 283.19 L95.6 283.37 L95.8 283.2 L96 282.73 L96.2 282.09 L96.4 281.41 L96.6 280.83 L96.8 280.39 L97 280.11 L97.2 279.94 L97.4 279.86 L97.6 280.45 L97.8 280.84 L98 281.53 L98.2 282.46 L98.4 283.54 L98.6 284.7 L98.8 285.86 L99 286.94 L99.2 287.87 L99.4 288.56 L99.6 288.95 L99.8 289.35 L100 291.78 L100.2 295.7 L100.4 300.1 L100.6 304.02 L100.8 306.45 L101 307.86 L101.2 314.32 L101.4 322.11 L101.6 325.9 L101.8 327.27 L102 330.55 L102.2 334.45 L102.4 337.73 L102.6 339.1 L102.8 338.15 L103 336.05 L103.2 333.95 L103.4 333 L103.6 331.73 L103.8 329.12 L104 326.95 L104.2 326.89 L104.4 328.82 L104.6 331.75 L104.8 334.68 L105 336.61 L105.2 336.57 L105.4 334.58 L105.6 332.17 L105.8 331 L106 329.74 L106.2 326.59 L106.4 322.5 L106.6 318.41 L106.8 315.26 L107 314 L107.2 313.63 L107.4 312.6 L107.6 311.05 L107.8 309.12 L108 306.95 L108.2 304.68 L108.4 302.44 L108.6 300.38 L108.8 298.62 L109 297.32 L109.2 296.6 L109.4 296.39 L109.6 295.61 L109.8 294.22 L110 292.41 L110.2 290.37 L110.4 288.29 L110.6 286.34 L110.8 284.72 L111 283.61 L111.2 283.2 L111.4 283.08 L111.6 282.75 L111.8 282.29 L112 281.74 L112.2 281.18 L112.4 280.67 L112.6 280.26 L112.8 280.03 L113 279.99 L113.2 279.93 L113.4 279.83 L113.6 279.72 L113.8 279.63 L114 279.34 L114.2 279.33 L114.4 279.32 L114.6 279.32 L114.8 279.31 L115 279.3 L115.2 279.3 L115.4 279.29 L115.6 279.28 L115.8 279.28 L116 279.27 L116.2 279.27 L116.4 279.26 L116.6 279.26 L116.8 279.25 L117 279.25 L117.2 279.24 L117.4 279.24 L117.6 279.23 L117.8 279.23 L118 279.23 L118.2 279.22 L118.4 279.22 L118.6 279.22 L118.8 279.21 L119 279.21 L119.2 279.21 L119.4 279.21 L119.6 279.21 L119.8 279.2 L120 279.2 L120.2 279.2 L120.4 279.2 L120.6 279.2 L120.8 279.2 L121 279.2 L121.2 279.2 L121.4 279.2 L121.6 279.2 L121.8 279.2 L122 279.2 L122.2 279.2 L122.4 279.21 L122.6 279.21 L122.8 279.21 L123 279.21 L123.2 279.22 L123.4 279.22 L123.6 279.22 L123.8 279.22 L124 279.23 L124.2 279.23 L124.4 279.24 L124.6 279.24 L124.8 279.24 L125 279.25 L125.2 279.25 L125.4 279.26 L125.6 279.26 L125.8 279.27 L126 279.27 L126.2 279.28 L126.4 279.29 L126.6 279.29 L126.8 279.3 L127 279.31 L127.2 279.31 L127.4 279.32 L127.6 279.33 L127.8 279.33 L128 279.34 L128.2 279.35 L128.4 279.35 L128.6 279.36 L128.8 279.37 L129 279.38 L129.2 279.39 L129.4 279.39 L129.6 279.4 L129.8 279.41 L130 279.42 L130.2 279.43 L130.4 279.43 L130.6 279.44 L130.8 279.45 L131 279.46 L131.2 279.47 L131.4 279.48 L131.6 279.49 L131.8 279.49 L132 279.5 L132.2 279.51 L132.4 279.52 L132.6 279.53 L132.8 279.54 L133 279.54 L133.2 279.55 L133.4 279.56 L133.6 279.57 L133.8 279.58 L134 279.59 L134.2 279.59 L134.4 279.6 L134.6 279.61 L134.8 279.62 L135 279.63 L135.2 279.63 L135.4 279.64 L135.6 279.65 L135.8 279.66 L136 279.66 L136.2 279.67 L136.4 279.68 L136.6 279.69 L136.8 279.69 L137 279.7 L137.2 279.7 L137.4 279.71 L137.6 279.72 L137.8 279.72 L138 279.73 L138.2 279.73 L138.4 279.74 L138.6 279.74 L138.8 279.75 L139 279.75 L139.2 279.76 L139.4 279.76 L139.6 279.77 L139.8 279.77 L140 279.77 L140.2 279.78 L140.4 279.78 L140.6 279.78 L140.8 279.79 L141 279.79 L141.2 279.79 L141.4 279.79 L141.6 279.79 L141.8 279.8 L142 279.8 L142.2 279.8 L142.4 279.8 L142.6 279.8 L142.8 279.8 L143 279.8 L143.2 279.8 L143.4 279.8 L143.6 279.8 L143.8 279.8 L144 279.8 L144.2 279.8 L144.4 279.79 L144.6 279.79 L144.8 279.79 L145 279.79 L145.2 279.78 L145.4 279.78 L145.6 279.78 L145.8 279.78 L146 279.77 L146.2 279.77 L146.4 279.76 L146.6 279.76 L146.8 279.76 L147 279.75 L147.2 279.75 L147.4 279.74 L147.6 279.74 L147.8 279.73 L148 279.73 L148.2 279.72 L148.4 279.71 L148.6 279.71 L148.8 279.7 L149 279.69 L149.2 279.69 L149.4 279.68 L149.6 279.67 L149.8 279.67 L150 279.66 L150.2 279.65 L150.4 279.65 L150.6 279.64 L150.8 279.63 L151 279.62 L151.2 279.61 L151.4 279.61 L151.6 279.6 L151.8 279.59 L152 279.58 L152.2 279.57 L152.4 279.57 L152.6 279.56 L152.8 279.55 L153 279.54 L153.2 279.53 L153.4 279.52 L153.6 279.51 L153.8 279.51 L154 279.5 L154.2 279.49 L154.4 279.48 L154.6 279.47 L154.8 279.46 L155 279.45 L155.2 279.45 L155.4 279.44 L155.6 279.43 L155.8 279.42 L156 279.41 L156.2 279.4 L156.4 279.4 L156.6 279.39 L156.8 279.38 L157 279.37 L157.2 279.37 L157.4 279.36 L157.6 279.35 L157.8 279.34 L158 279.34 L158.2 279.33 L158.4 279.32 L158.6 279.31 L158.8 279.31 L159 279.3 L159.2 279.3 L159.4 279.29 L159.6 279.28 L159.8 279.28 L160 279.27 L160.2 279.27 L160.4 279.26 L160.6 279.26 L160.8 279.25 L161 279.25 L161.2 279.24 L161.4 279.24 L161.6 279.23 L161.8 279.23 L162 279.23 L162.2 279.22 L162.4 279.22 L162.6 279.22 L162.8 279.21 L163 279.21 L163.2 279.21 L163.4 279.21 L163.6 279.21 L163.8 279.2 L164 279.2 L164.2 279.2 L164.4 279.2 L164.6 279.2 L164.8 279.2 L165 279.2 L165.2 279.2 L165.4 279.2 L165.6 279.2 L165.8 279.2 L166 279.2 L166.2 279.2 L166.4 279.21 L166.6 279.21 L166.8 279.21 L167 279.21 L167.2 279.22 L167.4 279.22 L167.6 279.22 L167.8 279.22 L168 279.23 L168.2 279.23 L168.4 279.24 L168.6 279.24 L168.8 279.24 L169 279.25 L169.2 279.25 L169.4 279.26 L169.6 279.26 L169.8 279.27 L170 279.28 L170.2 279.28 L170.4 279.29 L170.6 279.29 L170.8 279.3 L171 279.31 L171.2 279.31 L171.4 279.32 L171.6 279.33 L171.8 279.33 L172 279.34 L172.2 279.35 L172.4 279.36 L172.6 279.36 L172.8 279.37 L173 279.38 L173.2 279.39 L173.4 279.39 L173.6 279.4 L173.8 279.41 L174 279.42 L174.2 279.43 L174.4 279.43 L174.6 279.44 L174.8 279.45 L175 279.46 L175.2 279.47 L175.4 279.48 L175.6 279.49 L175.8 279.49 L176 279.5 L176.2 279.51 L176.4 279.52 L176.6 279.53 L176.8 279.54 L177 279.55 L177.2 279.55 L177.4 279.56 L177.6 279.57 L177.8 279.58 L178 279.59 L178.2 279.6 L178.4 279.6 L178.6 279.61 L178.8 279.62 L179 279.63 L179.2 279.64 L179.4 279.64 L179.6 279.65 L179.8 279.66 L180 279.66 L180.2 279.67 L180.4 279.68 L180.6 279.69 L180.8 279.69 L181 279.7 L181.2 279.71 L181.4 279.71 L181.6 279.72 L181.8 279.72 L182 279.73 L182.2 279.75 L182.4 279.77 L182.6 279.81 L182.8 279.88 L183 280.01 L183.2 280.2 L183.4 280.48 L183.6 280.83 L183.8 281.24 L184 281.64 L184.2 281.97 L184.4 282.16 L184.6 282.16 L184.8 281.98 L185 281.66 L185.2 281.26 L185.4 280.86 L185.6 280.51 L185.8 280.24 L186 280.05 L186.2 279.93 L186.4 279.86 L186.6 279.83 L186.8 279.81 L187 279.8 L187.2 279.8 L187.4 279.8 L187.6 279.8 L187.8 279.8 L188 279.8 L188.2 279.8 L188.4 279.79 L188.6 279.79 L188.8 279.79 L189 279.79 L189.2 279.78 L189.4 279.78 L189.6 279.78 L189.8 279.78 L190 279.77 L190.2 279.77 L190.4 279.76 L190.6 279.76 L190.8 279.76 L191 279.75 L191.2 279.75 L191.4 279.74 L191.6 279.74 L191.8 279.73 L192 279.72 L192.2 279.72 L192.4 279.71 L192.6 279.71 L192.8 279.7 L193 279.69 L193.2 279.69 L193.4 279.68 L193.6 279.68 L193.8 279.69 L194 279.72 L194.2 279.8 L194.4 279.99 L194.6 280.36 L194.8 281.02 L195 282.1 L195.2 283.63 L195.4 285.59 L195.6 287.77 L195.8 289.8 L196 291.27 L196.2 291.85 L196.4 291.4 L196.6 290.05 L196.8 288.15 L197 286.11 L197.2 284.28 L197.4 282.87 L197.6 281.93 L197.8 281.38 L198 281.11 L198.2 281.01 L198.4 280.99 L198.6 281.03 L198.8 281.1 L199 281.23 L199.2 281.51 L199.4 282.02 L199.6 282.86 L199.8 284.09 L200 285.67 L200.2 287.44 L200.4 289.06 L200.6 290.2 L200.8 290.53 L201 289.96 L201.2 288.6 L201.4 286.75 L201.6 284.78 L201.8 283 L202 281.6 L202.2 280.62 L202.4 280 L202.6 279.65 L202.8 279.46 L203 279.37 L203.2 279.32 L203.4 279.3 L203.6 279.29 L203.8 279.28 L204 279.27 L204.2 279.27 L204.4 279.26 L204.6 279.26 L204.8 279.25 L205 279.25 L205.2 279.24 L205.4 279.24 L205.6 279.23 L205.8 279.23 L206 279.23 L206.2 279.22 L206.4 279.22 L206.6 279.22 L206.8 279.21 L207 279.21 L207.2 279.21 L207.4 279.21 L207.6 279.21 L207.8 279.23 L208 279.26 L208.2 279.32 L208.4 279.43 L208.6 279.57 L208.8 279.74 L209 279.9 L209.2 279.99 L209.4 279.99 L209.6 279.9 L209.8 279.74 L210 279.58 L210.2 279.43 L210.4 279.33 L210.6 279.27 L210.8 279.23 L211 279.22 L211.2 279.22 L211.4 279.22 L211.6 279.22 L211.8 279.23 L212 279.23 L212.2 279.24 L212.4 279.25 L212.6 279.27 L212.8 279.32 L213 279.41 L213.2 279.56 L213.4 279.78 L213.6 280.08 L213.8 280.42 L214 280.75 L214.2 280.99 L214.4 281.09 L214.6 281.01 L214.8 280.78 L215 280.46 L215.2 280.13 L215.4 279.84 L215.6 279.63 L215.8 279.49 L216 279.42 L216.2 279.38 L216.4 279.37 L216.6 279.37 L216.8 279.37 L217 279.38 L217.2 279.39 L217.4 279.41 L217.6 279.45 L217.8 279.53 L218 279.64 L218.2 279.79 L218.4 279.94 L218.6 280.03 L218.8 280.04 L219 279.96 L219.2 279.83 L219.4 279.7 L219.6 279.6 L219.8 279.55 L220 279.52 L220.2 279.52 L220.4 279.52 L220.6 279.53 L220.8 279.54 L221 279.55 L221.2 279.55 L221.4 279.56 L221.6 279.57 L221.8 279.58 L222 279.59 L222.2 279.6 L222.4 279.6 L222.6 279.61 L222.8 279.62 L223 279.63 L223.2 279.64 L223.4 279.64 L223.6 279.65 L223.8 279.66 L224 279.67 L224.2 279.67 L224.4 279.68 L224.6 279.69 L224.8 279.69 L225 279.7 L225.2 279.71 L225.4 279.71 L225.6 279.72 L225.8 279.72 L226 279.73 L226.2 279.74 L226.4 279.75 L226.6 279.77 L226.8 279.81 L227 279.88 L227.2 280.01 L227.4 280.2 L227.6 280.45 L227.8 280.71 L228 280.9 L228.2 280.98 L228.4 280.91 L228.6 280.72 L228.8 280.47 L229 280.24 L229.2 280.07 L229.4 279.99 L229.6 280.02 L229.8 280.19 L230 280.52 L230.2 281.08 L230.4 281.88 L230.6 282.9 L230.8 284.03 L231 285.08 L231.2 285.83 L231.4 286.1 L231.6 285.83 L231.8 285.07 L232 284.02 L232.2 282.89 L232.4 281.87 L232.6 281.07 L232.8 280.51 L233 280.16 L233.2 279.96 L233.4 279.86 L233.6 279.81 L233.8 279.79 L234 279.77 L234.2 279.77 L234.4 279.76 L234.6 279.76 L234.8 279.75 L235 279.75 L235.2 279.75 L235.4 279.74 L235.6 279.74 L235.8 279.73 L236 279.72 L236.2 279.72 L236.4 279.71 L236.6 279.71 L236.8 279.7 L237 279.69 L237.2 279.69 L237.4 279.68 L237.6 279.67 L237.8 279.67 L238 279.66 L238.2 279.65 L238.4 279.64 L238.6 279.64 L238.8 279.63 L239 279.62 L239.2 279.61 L239.4 279.61 L239.6 279.6 L239.8 279.59 L240 279.58 L240.2 279.57 L240.4 279.57 L240.6 279.57 L240.8 279.57 L241 279.58 L241.2 279.61 L241.4 279.67 L241.6 279.75 L241.8 279.86 L242 279.99 L242.2 280.11 L242.4 280.21 L242.6 280.26 L242.8 280.25 L243 280.18 L243.2 280.07 L243.4 279.93 L243.6 279.78 L243.8 279.66 L244 279.56 L244.2 279.49 L244.4 279.44 L244.6 279.41 L244.8 279.39 L245 279.38 L245.2 279.37 L245.4 279.36 L245.6 279.35 L245.8 279.34 L246 279.33 L246.2 279.33 L246.4 279.32 L246.6 279.31 L246.8 279.31 L247 279.3 L247.2 279.29 L247.4 279.29 L247.6 279.28 L247.8 279.28 L248 279.27 L248.2 279.27 L248.4 279.26 L248.6 279.25 L248.8 279.25" fill="none" stroke="#e294a8" stroke-width="1.05" stroke-linejoin="round" />
<text x="0" y="0" font-size="8.92" fill="#1a1a1a" text-anchor="start" font-weight="bold"  transform="translate(40 276.4) scale(0.93 1)">PP</text>
<text x="0" y="0" font-size="8.71" fill="#1a1a1a" text-anchor="start" font-weight="bold"  transform="translate(40 286.5) scale(0.93 1)">739K</text>
<text x="0" y="0" font-size="7.73" fill="#444" text-anchor="middle" font-weight="normal" stroke="#444" stroke-width="0.12"  transform="translate(83.7 335.8) scale(0.88 1)">2958</text>
<line x1="92" y1="333.6" x2="102.2" y2="338.6" stroke="#555" stroke-width="0.6"/>
<text x="0" y="0" font-size="7.73" fill="#444" text-anchor="middle" font-weight="normal" stroke="#444" stroke-width="0.12"  transform="translate(125.6 335.8) scale(0.88 1)">2918</text>
<line x1="105.6" y1="337.6" x2="116.8" y2="333.6" stroke="#555" stroke-width="0.6"/>
<text x="0" y="0" font-size="7.73" fill="#444" text-anchor="middle" font-weight="normal" stroke="#444" stroke-width="0.12"  transform="translate(187.6 309) scale(0.88 1)">1458</text>
<line x1="196.2" y1="292.8" x2="191.6" y2="301.5" stroke="#555" stroke-width="0.6"/>
<text x="0" y="0" font-size="7.73" fill="#444" text-anchor="middle" font-weight="normal" stroke="#444" stroke-width="0.12"  transform="translate(211.4 308.2) scale(0.88 1)">1378</text>
<line x1="200.9" y1="292" x2="207.8" y2="301.3" stroke="#555" stroke-width="0.6"/>
<text x="0" y="0" font-size="7.73" fill="#444" text-anchor="middle" font-weight="normal" stroke="#444" stroke-width="0.12"  transform="translate(230.6 293.6) scale(0.88 1)">890</text>
<path d="M39.2 343.1 L39.4 343.11 L39.6 343.11 L39.8 343.12 L40 343.12 L40.2 343.11 L40.4 343.1 L40.6 343.08 L40.8 343.05 L41 343.02 L41.2 343 L41.4 342.98 L41.6 342.98 L41.8 342.99 L42 343.03 L42.2 343.08 L42.4 343.14 L42.6 343.2 L42.8 343.25 L43 343.28 L43.2 343.3 L43.4 343.3 L43.6 343.3 L43.8 343.3 L44 343.3 L44.2 343.3 L44.4 343.3 L44.6 343.3 L44.8 343.3 L45 343.32 L45.2 343.35 L45.4 343.4 L45.6 343.45 L45.8 343.51 L46 343.56 L46.2 343.59 L46.4 343.61 L46.6 343.6 L46.8 343.58 L47 343.54 L47.2 343.51 L47.4 343.47 L47.6 343.43 L47.8 343.41 L48 343.41 L48.2 343.41 L48.4 343.43 L48.6 343.44 L48.8 343.46 L49 343.48 L49.2 343.5 L49.4 343.51 L49.6 343.52 L49.8 343.52 L50 343.51 L50.2 343.5 L50.4 343.49 L50.6 343.47 L50.8 343.46 L51 343.45 L51.2 343.45 L51.4 343.46 L51.6 343.48 L51.8 343.5 L52 343.52 L52.2 343.55 L52.4 343.57 L52.6 343.59 L52.8 343.6 L53 343.59 L53.2 343.58 L53.4 343.56 L53.6 343.54 L53.8 343.52 L54 343.5 L54.2 343.48 L54.4 343.48 L54.6 343.48 L54.8 343.47 L55 343.45 L55.2 343.43 L55.4 343.41 L55.6 343.4 L55.8 343.38 L56 343.38 L56.2 343.41 L56.4 343.47 L56.6 343.55 L56.8 343.65 L57 343.74 L57.2 343.82 L57.4 343.88 L57.6 343.91 L57.8 343.91 L58 343.91 L58.2 343.92 L58.4 343.92 L58.6 343.92 L58.8 343.92 L59 343.92 L59.2 343.93 L59.4 343.92 L59.6 343.91 L59.8 343.9 L60 343.88 L60.2 343.86 L60.4 343.85 L60.6 343.83 L60.8 343.83 L61 343.83 L61.2 343.82 L61.4 343.8 L61.6 343.79 L61.8 343.77 L62 343.76 L62.2 343.75 L62.4 343.75 L62.6 343.75 L62.8 343.77 L63 343.89 L63.2 344.31 L63.4 345.31 L63.6 347.17 L63.8 349.94 L64 353.17 L64.2 355.9 L64.4 357.07 L64.6 356.24 L64.8 353.84 L65 350.9 L65.2 348.37 L65.4 346.69 L65.6 345.8 L65.8 345.42 L66 345.29 L66.2 345.24 L66.4 345.23 L66.6 345.24 L66.8 345.24 L67 345.24 L67.2 345.24 L67.4 345.23 L67.6 345.21 L67.8 345.18 L68 345.15 L68.2 345.11 L68.4 345.08 L68.6 345.06 L68.8 345.04 L69 345.06 L69.2 345.11 L69.4 345.18 L69.6 345.26 L69.8 345.34 L70 345.41 L70.2 345.45 L70.4 345.46 L70.6 345.44 L70.8 345.41 L71 345.35 L71.2 345.3 L71.4 345.24 L71.6 345.19 L71.8 345.15 L72 345.13 L72.2 345.13 L72.4 345.16 L72.6 345.2 L72.8 345.25 L73 345.29 L73.2 345.33 L73.4 345.36 L73.6 345.36 L73.8 345.34 L74 345.3 L74.2 345.24 L74.4 345.17 L74.6 345.1 L74.8 345.04 L75 345 L75.2 344.98 L75.4 344.99 L75.6 345.02 L75.8 345.08 L76 345.15 L76.2 345.22 L76.4 345.28 L76.6 345.32 L76.8 345.33 L77 345.33 L77.2 345.31 L77.4 345.3 L77.6 345.28 L77.8 345.27 L78 345.26 L78.2 345.25 L78.4 345.24 L78.6 345.22 L78.8 345.15 L79 345.06 L79.2 344.95 L79.4 344.84 L79.6 344.75 L79.8 344.68 L80 344.66 L80.2 344.66 L80.4 344.68 L80.6 344.71 L80.8 344.73 L81 344.76 L81.2 344.79 L81.4 344.81 L81.6 344.81 L81.8 344.84 L82 344.89 L82.2 344.97 L82.4 345.07 L82.6 345.16 L82.8 345.24 L83 345.3 L83.2 345.32 L83.4 345.31 L83.6 345.28 L83.8 345.23 L84 345.18 L84.2 345.12 L84.4 345.08 L84.6 345.04 L84.8 345.03 L85 345.05 L85.2 345.09 L85.4 345.15 L85.6 345.22 L85.8 345.29 L86 345.35 L86.2 345.39 L86.4 345.41 L86.6 345.4 L86.8 345.35 L87 345.29 L87.2 345.22 L87.4 345.15 L87.6 345.09 L87.8 345.04 L88 345.03 L88.2 345.02 L88.4 345 L88.6 344.97 L88.8 344.93 L89 344.89 L89.2 344.85 L89.4 344.83 L89.6 344.82 L89.8 344.84 L90 344.89 L90.2 344.96 L90.4 345.03 L90.6 345.11 L90.8 345.17 L91 345.22 L91.2 345.24 L91.4 345.24 L91.6 345.26 L91.8 345.28 L92 345.3 L92.2 345.32 L92.4 345.34 L92.6 345.35 L92.8 345.36 L93 345.35 L93.2 345.31 L93.4 345.26 L93.6 345.19 L93.8 345.13 L94 345.07 L94.2 345.04 L94.4 345.02 L94.6 345.02 L94.8 345.01 L95 344.99 L95.2 344.96 L95.4 344.94 L95.6 344.92 L95.8 344.91 L96 344.91 L96.2 344.91 L96.4 344.93 L96.6 344.96 L96.8 344.99 L97 345.03 L97.2 345.06 L97.4 345.07 L97.6 345.08 L97.8 345.1 L98 345.15 L98.2 345.22 L98.4 345.3 L98.6 345.38 L98.8 345.45 L99 345.5 L99.2 345.52 L99.4 345.51 L99.6 345.49 L99.8 345.47 L100 345.44 L100.2 345.41 L100.4 345.38 L100.6 345.36 L100.8 345.35 L101 345.33 L101.2 345.28 L101.4 345.2 L101.6 345.11 L101.8 345.03 L102 344.95 L102.2 344.89 L102.4 344.87 L102.6 344.87 L102.8 344.87 L103 344.88 L103.2 344.89 L103.4 344.9 L103.6 344.91 L103.8 344.92 L104 344.91 L104.2 344.9 L104.4 344.89 L104.6 344.86 L104.8 344.84 L105 344.81 L105.2 344.79 L105.4 344.77 L105.6 344.76 L105.8 344.75 L106 344.74 L106.2 344.73 L106.4 344.72 L106.6 344.7 L106.8 344.69 L107 344.68 L107.2 344.67 L107.4 344.69 L107.6 344.74 L107.8 344.81 L108 344.9 L108.2 344.99 L108.4 345.06 L108.6 345.11 L108.8 345.13 L109 345.1 L109.2 345.05 L109.4 344.97 L109.6 344.88 L109.8 344.79 L110 344.72 L110.2 344.66 L110.4 344.64 L110.6 344.64 L110.8 344.66 L111 344.7 L111.2 344.74 L111.4 344.78 L111.6 344.82 L111.8 344.84 L112 344.85 L112.2 344.84 L112.4 344.82 L112.6 344.81 L112.8 344.79 L113 344.77 L113.2 344.75 L113.4 344.73 L113.6 344.73 L113.8 344.71 L114 344.69 L114.2 344.65 L114.4 344.62 L114.6 344.58 L114.8 344.55 L115 344.52 L115.2 344.51 L115.4 344.52 L115.6 344.56 L115.8 344.62 L116 344.69 L116.2 344.75 L116.4 344.81 L116.6 344.85 L116.8 344.87 L117 344.85 L117.2 344.8 L117.4 344.73 L117.6 344.65 L117.8 344.57 L118 344.51 L118.2 344.46 L118.4 344.44 L118.6 344.46 L118.8 344.49 L119 344.55 L119.2 344.61 L119.4 344.68 L119.6 344.73 L119.8 344.77 L120 344.78 L120.2 344.76 L120.4 344.72 L120.6 344.65 L120.8 344.58 L121 344.51 L121.2 344.44 L121.4 344.39 L121.6 344.37 L121.8 344.37 L122 344.39 L122.2 344.42 L122.4 344.45 L122.6 344.48 L122.8 344.51 L123 344.53 L123.2 344.53 L123.4 344.51 L123.6 344.49 L123.8 344.46 L124 344.42 L124.2 344.38 L124.4 344.35 L124.6 344.33 L124.8 344.31 L125 344.3 L125.2 344.3 L125.4 344.3 L125.6 344.29 L125.8 344.29 L126 344.29 L126.2 344.28 L126.4 344.27 L126.6 344.28 L126.8 344.33 L127 344.4 L127.2 344.48 L127.4 344.56 L127.6 344.62 L127.8 344.67 L128 344.68 L128.2 344.66 L128.4 344.64 L128.6 344.61 L128.8 344.58 L129 344.55 L129.2 344.52 L129.4 344.49 L129.6 344.48 L129.8 344.45 L130 344.4 L130.2 344.34 L130.4 344.26 L130.6 344.19 L130.8 344.12 L131 344.08 L131.2 344.05 L131.4 344.06 L131.6 344.1 L131.8 344.15 L132 344.22 L132.2 344.28 L132.4 344.34 L132.6 344.38 L132.8 344.39 L133 344.36 L133.2 344.3 L133.4 344.21 L133.6 344.12 L133.8 344.03 L134 343.94 L134.2 343.88 L134.4 343.86 L134.6 343.86 L134.8 343.87 L135 343.88 L135.2 343.9 L135.4 343.92 L135.6 343.93 L135.8 343.94 L136 343.95 L136.2 343.96 L136.4 343.99 L136.6 344.04 L136.8 344.09 L137 344.15 L137.2 344.2 L137.4 344.24 L137.6 344.25 L137.8 344.24 L138 344.22 L138.2 344.2 L138.4 344.17 L138.6 344.15 L138.8 344.12 L139 344.11 L139.2 344.1 L139.4 344.08 L139.6 344.04 L139.8 343.98 L140 343.91 L140.2 343.84 L140.4 343.79 L140.6 343.75 L140.8 343.75 L141 343.79 L141.2 343.89 L141.4 344.04 L141.6 344.22 L141.8 344.44 L142 344.67 L142.2 344.91 L142.4 345.14 L142.6 345.37 L142.8 345.58 L143 345.77 L143.2 345.95 L143.4 346.1 L143.6 346.21 L143.8 346.28 L144 346.3 L144.2 346.26 L144.4 346.13 L144.6 345.94 L144.8 345.7 L145 345.42 L145.2 345.14 L145.4 344.88 L145.6 344.63 L145.8 344.44 L146 344.31 L146.2 344.24 L146.4 344.2 L146.6 344.2 L146.8 344.21 L147 344.22 L147.2 344.22 L147.4 344.19 L147.6 344.15 L147.8 344.1 L148 344.04 L148.2 343.98 L148.4 343.93 L148.6 343.89 L148.8 343.88 L149 343.88 L149.2 343.88 L149.4 343.87 L149.6 343.87 L149.8 343.86 L150 343.86 L150.2 343.86 L150.4 343.86 L150.6 343.85 L150.8 343.83 L151 343.81 L151.2 343.78 L151.4 343.75 L151.6 343.73 L151.8 343.71 L152 343.7 L152.2 343.7 L152.4 343.7 L152.6 343.71 L152.8 343.71 L153 343.71 L153.2 343.71 L153.4 343.71 L153.6 343.71 L153.8 343.73 L154 343.77 L154.2 343.82 L154.4 343.89 L154.6 343.95 L154.8 344 L155 344.04 L155.2 344.06 L155.4 344.05 L155.6 344.02 L155.8 343.98 L156 343.94 L156.2 343.9 L156.4 343.86 L156.6 343.83 L156.8 343.82 L157 343.83 L157.2 343.86 L157.4 343.9 L157.6 343.95 L157.8 343.99 L158 344.03 L158.2 344.06 L158.4 344.07 L158.6 344.06 L158.8 344.05 L159 344.02 L159.2 343.99 L159.4 343.96 L159.6 343.94 L159.8 343.92 L160 343.91 L160.2 343.91 L160.4 343.92 L160.6 343.93 L160.8 343.94 L161 343.95 L161.2 343.96 L161.4 343.96 L161.6 343.97 L161.8 343.98 L162 344.02 L162.2 344.08 L162.4 344.14 L162.6 344.21 L162.8 344.27 L163 344.31 L163.2 344.32 L163.4 344.31 L163.6 344.27 L163.8 344.22 L164 344.16 L164.2 344.09 L164.4 344.04 L164.6 344 L164.8 343.99 L165 343.99 L165.2 344 L165.4 344.01 L165.6 344.02 L165.8 344.03 L166 344.04 L166.2 344.05 L166.4 344.05 L166.6 344.06 L166.8 344.08 L167 344.12 L167.2 344.15 L167.4 344.19 L167.6 344.22 L167.8 344.25 L168 344.26 L168.2 344.24 L168.4 344.18 L168.6 344.11 L168.8 344.02 L169 343.93 L169.2 343.85 L169.4 343.8 L169.6 343.78 L169.8 343.78 L170 343.78 L170.2 343.78 L170.4 343.8 L170.6 343.83 L170.8 343.87 L171 343.92 L171.2 343.99 L171.4 344.09 L171.6 344.23 L171.8 344.4 L172 344.6 L172.2 344.81 L172.4 345.01 L172.6 345.2 L172.8 345.36 L173 345.51 L173.2 345.68 L173.4 345.86 L173.6 346.05 L173.8 346.27 L174 346.51 L174.2 346.78 L174.4 347.08 L174.6 347.42 L174.8 347.84 L175 348.42 L175.2 349.31 L175.4 350.72 L175.6 352.93 L175.8 356.24 L176 360.88 L176.2 366.9 L176.4 374 L176.6 381.57 L176.8 388.65 L177 394.13 L177.2 397.03 L177.4 396.77 L177.6 393.37 L177.8 387.44 L178 379.98 L178.2 372.11 L178.4 364.79 L178.6 358.65 L178.8 353.92 L179 350.57 L179.2 348.33 L179.4 346.93 L179.6 346.11 L179.8 345.64 L180 345.38 L180.2 345.23 L180.4 345.14 L180.6 345.07 L180.8 345.02 L181 344.95 L181.2 344.85 L181.4 344.74 L181.6 344.62 L181.8 344.51 L182 344.41 L182.2 344.34 L182.4 344.3 L182.6 344.32 L182.8 344.37 L183 344.46 L183.2 344.55 L183.4 344.64 L183.6 344.71 L183.8 344.75 L184 344.75 L184.2 344.72 L184.4 344.68 L184.6 344.64 L184.8 344.59 L185 344.53 L185.2 344.47 L185.4 344.42 L185.6 344.36 L185.8 344.3 L186 344.21 L186.2 344.12 L186.4 344.03 L186.6 343.93 L186.8 343.84 L187 343.75 L187.2 343.68 L187.4 343.62 L187.6 343.55 L187.8 343.47 L188 343.39 L188.2 343.31 L188.4 343.24 L188.6 343.18 L188.8 343.13 L189 343.08 L189.2 343.02 L189.4 342.95 L189.6 342.88 L189.8 342.82 L190 342.77 L190.2 342.74 L190.4 342.72 L190.6 342.72 L190.8 342.73 L191 342.74 L191.2 342.75 L191.4 342.76 L191.6 342.79 L191.8 342.82 L192 342.86 L192.2 342.93 L192.4 343.05 L192.6 343.2 L192.8 343.37 L193 343.55 L193.2 343.71 L193.4 343.85 L193.6 343.94 L193.8 343.98 L194 343.99 L194.2 343.97 L194.4 343.95 L194.6 343.93 L194.8 343.91 L195 343.92 L195.2 343.97 L195.4 344.05 L195.6 344.16 L195.8 344.28 L196 344.4 L196.2 344.52 L196.4 344.63 L196.6 344.73 L196.8 344.8 L197 344.84 L197.2 344.85 L197.4 344.84 L197.6 344.83 L197.8 344.81 L198 344.79 L198.2 344.78 L198.4 344.79 L198.6 344.83 L198.8 344.88 L199 344.95 L199.2 345.03 L199.4 345.11 L199.6 345.2 L199.8 345.28 L200 345.34 L200.2 345.38 L200.4 345.42 L200.6 345.46 L200.8 345.51 L201 345.57 L201.2 345.68 L201.4 345.86 L201.6 346.16 L201.8 346.6 L202 347.17 L202.2 347.81 L202.4 348.39 L202.6 348.75 L202.8 348.79 L203 348.51 L203.2 348.03 L203.4 347.49 L203.6 347.02 L203.8 346.68 L204 346.48 L204.2 346.37 L204.4 346.31 L204.6 346.29 L204.8 346.33 L205 346.42 L205.2 346.56 L205.4 346.73 L205.6 346.91 L205.8 347.11 L206 347.33 L206.2 347.66 L206.4 348.23 L206.6 349.18 L206.8 350.66 L207 352.79 L207.2 355.55 L207.4 358.72 L207.6 361.87 L207.8 364.44 L208 365.88 L208.2 365.87 L208.4 364.38 L208.6 361.74 L208.8 358.49 L209 355.22 L209.2 352.36 L209.4 350.13 L209.6 348.58 L209.8 347.59 L210 347.05 L210.2 346.78 L210.4 346.67 L210.6 346.63 L210.8 346.64 L211 346.65 L211.2 346.66 L211.4 346.69 L211.6 346.82 L211.8 347.14 L212 347.83 L212.2 349.14 L212.4 351.26 L212.6 354.13 L212.8 357.24 L213 359.72 L213.2 360.7 L213.4 359.82 L213.6 357.46 L213.8 354.51 L214 351.91 L214.2 350.28 L214.4 349.88 L214.6 350.54 L214.8 351.72 L215 352.65 L215.2 352.68 L215.4 351.78 L215.6 350.5 L215.8 349.47 L216 348.96 L216.2 348.95 L216.4 349.26 L216.6 349.71 L216.8 350.2 L217 350.67 L217.2 351.07 L217.4 351.38 L217.6 351.66 L217.8 352.02 L218 352.67 L218.2 353.82 L218.4 355.66 L218.6 358.22 L218.8 361.29 L219 364.42 L219.2 366.99 L219.4 368.38 L219.6 368.17 L219.8 366.38 L220 363.34 L220.2 359.66 L220.4 355.96 L220.6 352.74 L220.8 350.26 L221 348.54 L221.2 347.48 L221.4 346.87 L221.6 346.49 L221.8 346.24 L222 346.02 L222.2 345.81 L222.4 345.57 L222.6 345.32 L222.8 345.07 L223 344.83 L223.2 344.6 L223.4 344.37 L223.6 344.17 L223.8 343.99 L224 343.84 L224.2 343.72 L224.4 343.63 L224.6 343.58 L224.8 343.54 L225 343.5 L225.2 343.48 L225.4 343.47 L225.6 343.49 L225.8 343.53 L226 343.57 L226.2 343.63 L226.4 343.68 L226.6 343.74 L226.8 343.8 L227 343.86 L227.2 343.91 L227.4 343.96 L227.6 344.02 L227.8 344.09 L228 344.15 L228.2 344.22 L228.4 344.28 L228.6 344.32 L228.8 344.36 L229 344.38 L229.2 344.42 L229.4 344.45 L229.6 344.48 L229.8 344.51 L230 344.55 L230.2 344.6 L230.4 344.64 L230.6 344.67 L230.8 344.68 L231 344.69 L231.2 344.7 L231.4 344.7 L231.6 344.72 L231.8 344.76 L232 344.81 L232.2 344.88 L232.4 344.97 L232.6 345.05 L232.8 345.14 L233 345.22 L233.2 345.29 L233.4 345.35 L233.6 345.38 L233.8 345.41 L234 345.46 L234.2 345.5 L234.4 345.51 L234.6 345.49 L234.8 345.44 L235 345.35 L235.2 345.22 L235.4 345.07 L235.6 344.92 L235.8 344.78 L236 344.65 L236.2 344.54 L236.4 344.44 L236.6 344.38 L236.8 344.34 L237 344.33 L237.2 344.31 L237.4 344.29 L237.6 344.27 L237.8 344.26 L238 344.26 L238.2 344.28 L238.4 344.32 L238.6 344.4 L238.8 344.49 L239 344.63 L239.2 344.82 L239.4 345.1 L239.6 345.48 L239.8 346 L240 346.67 L240.2 347.47 L240.4 348.36 L240.6 349.27 L240.8 350.09 L241 350.74 L241.2 351.11 L241.4 351.16 L241.6 350.89 L241.8 350.34 L242 349.58 L242.2 348.73 L242.4 347.88 L242.6 347.13 L242.8 346.51 L243 346.04 L243.2 345.73 L243.4 345.52 L243.6 345.38 L243.8 345.25 L244 345.11 L244.2 344.96 L244.4 344.8 L244.6 344.65 L244.8 344.5 L245 344.37 L245.2 344.27 L245.4 344.2 L245.6 344.17 L245.8 344.12 L246 343.97 L246.2 343.76 L246.4 343.5 L246.6 343.24 L246.8 343.01 L247 342.82 L247.2 342.68 L247.4 342.58 L247.6 342.54 L247.8 342.56 L248 342.37 L248.2 341.83 L248.4 341.11 L248.6 340.39 L248.8 339.83 L249 339.59" fill="none" stroke="#74a8da" stroke-width="1.05" stroke-linejoin="round" />
<text x="0" y="0" font-size="8.92" fill="#1a1a1a" text-anchor="start" font-weight="bold"  transform="translate(40 342.3) scale(0.93 1)">PET</text>
<text x="0" y="0" font-size="8.71" fill="#1a1a1a" text-anchor="start" font-weight="bold"  transform="translate(40 352) scale(0.93 1)">725K</text>
<text x="0" y="0" font-size="7.73" fill="#444" text-anchor="middle" font-weight="normal" stroke="#444" stroke-width="0.12"  transform="translate(81.8 375.4) scale(0.88 1)">3580</text>
<line x1="64.8" y1="357" x2="74" y2="366.2" stroke="#555" stroke-width="0.6"/>
<text x="0" y="0" font-size="7.73" fill="#444" text-anchor="middle" font-weight="normal" stroke="#444" stroke-width="0.12"  transform="translate(177 400.4) scale(0.88 1)">1760</text>
<text x="0" y="0" font-size="7.73" fill="#444" text-anchor="middle" font-weight="normal" stroke="#444" stroke-width="0.12"  transform="translate(199.5 383.2) scale(0.88 1)">1262</text>
<line x1="207.8" y1="368.5" x2="202.5" y2="377" stroke="#555" stroke-width="0.6"/>
<text x="0" y="0" font-size="7.73" fill="#444" text-anchor="middle" font-weight="normal" stroke="#444" stroke-width="0.12"  transform="translate(229.2 384.3) scale(0.88 1)">1086</text>
<line x1="219.6" y1="370" x2="226.4" y2="377.4" stroke="#555" stroke-width="0.6"/>
<path d="M39.2 405.37 L39.32 405.36 L39.44 405.34 L39.56 405.32 L39.68 405.29 L39.8 405.27 L39.92 405.24 L40.04 405.22 L40.16 405.2 L40.28 405.18 L40.4 405.18 L40.52 405.17 L40.64 405.17 L40.76 405.16 L40.88 405.14 L41 405.13 L41.12 405.1 L41.24 405.08 L41.36 405.06 L41.48 405.03 L41.6 405.02 L41.72 405 L41.84 404.99 L41.96 404.99 L42.08 404.99 L42.2 404.99 L42.32 405 L42.44 405.01 L42.56 405.02 L42.68 405.03 L42.8 405.04 L42.92 405.05 L43.04 405.06 L43.16 405.07 L43.28 405.07 L43.4 405.08 L43.52 405.09 L43.64 405.1 L43.76 405.11 L43.88 405.14 L44 405.17 L44.12 405.2 L44.24 405.24 L44.36 405.27 L44.48 405.3 L44.6 405.34 L44.72 405.36 L44.84 405.38 L44.96 405.39 L45.08 405.4 L45.2 405.39 L45.32 405.38 L45.44 405.37 L45.56 405.35 L45.68 405.33 L45.8 405.31 L45.92 405.29 L46.04 405.27 L46.16 405.26 L46.28 405.25 L46.4 405.24 L46.52 405.25 L46.64 405.26 L46.76 405.29 L46.88 405.32 L47 405.37 L47.12 405.42 L47.24 405.47 L47.36 405.52 L47.48 405.57 L47.6 405.62 L47.72 405.65 L47.84 405.68 L47.96 405.7 L48.08 405.7 L48.2 405.7 L48.32 405.69 L48.44 405.68 L48.56 405.66 L48.68 405.64 L48.8 405.62 L48.92 405.6 L49.04 405.58 L49.16 405.56 L49.28 405.55 L49.4 405.55 L49.52 405.55 L49.64 405.55 L49.76 405.54 L49.88 405.53 L50 405.51 L50.12 405.49 L50.24 405.47 L50.36 405.44 L50.48 405.42 L50.6 405.4 L50.72 405.39 L50.84 405.38 L50.96 405.38 L51.08 405.39 L51.2 405.4 L51.32 405.43 L51.44 405.46 L51.56 405.49 L51.68 405.53 L51.8 405.56 L51.92 405.6 L52.04 405.64 L52.16 405.67 L52.28 405.69 L52.4 405.71 L52.52 405.72 L52.64 405.72 L52.76 405.71 L52.88 405.7 L53 405.69 L53.12 405.67 L53.24 405.66 L53.36 405.64 L53.48 405.63 L53.6 405.61 L53.72 405.6 L53.84 405.6 L53.96 405.59 L54.08 405.6 L54.2 405.62 L54.32 405.65 L54.44 405.68 L54.56 405.72 L54.68 405.77 L54.8 405.81 L54.92 405.86 L55.04 405.9 L55.16 405.93 L55.28 405.96 L55.4 405.98 L55.52 405.99 L55.64 405.99 L55.76 405.99 L55.88 406 L56 406 L56.12 406 L56.24 406 L56.36 406 L56.48 406 L56.6 406.01 L56.72 406.01 L56.84 406.01 L56.96 406.01 L57.08 406.01 L57.2 406 L57.32 405.99 L57.44 405.97 L57.56 405.95 L57.68 405.92 L57.8 405.9 L57.92 405.87 L58.04 405.85 L58.16 405.83 L58.28 405.81 L58.4 405.8 L58.52 405.8 L58.64 405.8 L58.76 405.81 L58.88 405.82 L59 405.82 L59.12 405.83 L59.24 405.84 L59.36 405.85 L59.48 405.86 L59.6 405.87 L59.72 405.88 L59.84 405.88 L59.96 405.89 L60.08 405.89 L60.2 405.89 L60.32 405.89 L60.44 405.9 L60.56 405.9 L60.68 405.91 L60.8 405.92 L60.92 405.93 L61.04 405.93 L61.16 405.94 L61.28 405.95 L61.4 405.96 L61.52 405.97 L61.64 405.98 L61.76 405.99 L61.88 406 L62 406.02 L62.12 406.03 L62.24 406.05 L62.36 406.07 L62.48 406.09 L62.6 406.11 L62.72 406.12 L62.84 406.14 L62.96 406.16 L63.08 406.17 L63.2 406.19 L63.32 406.21 L63.44 406.23 L63.56 406.26 L63.68 406.28 L63.8 406.31 L63.92 406.34 L64.04 406.37 L64.16 406.39 L64.28 406.42 L64.4 406.44 L64.52 406.46 L64.64 406.46 L64.76 406.45 L64.88 406.42 L65 406.38 L65.12 406.33 L65.24 406.28 L65.36 406.24 L65.48 406.19 L65.6 406.15 L65.72 406.12 L65.84 406.11 L65.96 406.11 L66.08 406.13 L66.2 406.16 L66.32 406.19 L66.44 406.23 L66.56 406.27 L66.68 406.31 L66.8 406.36 L66.92 406.4 L67.04 406.44 L67.16 406.48 L67.28 406.52 L67.4 406.55 L67.52 406.57 L67.64 406.59 L67.76 406.62 L67.88 406.65 L68 406.69 L68.12 406.73 L68.24 406.76 L68.36 406.8 L68.48 406.84 L68.6 406.87 L68.72 406.9 L68.84 406.93 L68.96 406.96 L69.08 406.97 L69.2 406.99 L69.32 406.99 L69.44 407 L69.56 407 L69.68 406.99 L69.8 406.99 L69.92 406.99 L70.04 406.99 L70.16 406.99 L70.28 406.99 L70.4 407 L70.52 407.02 L70.64 407.04 L70.76 407.07 L70.88 407.1 L71 407.13 L71.12 407.16 L71.24 407.2 L71.36 407.23 L71.48 407.27 L71.6 407.3 L71.72 407.33 L71.84 407.35 L71.96 407.37 L72.08 407.38 L72.2 407.38 L72.32 407.37 L72.44 407.36 L72.56 407.34 L72.68 407.32 L72.8 407.29 L72.92 407.26 L73.04 407.24 L73.16 407.22 L73.28 407.21 L73.4 407.2 L73.52 407.21 L73.64 407.23 L73.76 407.26 L73.88 407.3 L74 407.36 L74.12 407.41 L74.24 407.47 L74.36 407.53 L74.48 407.59 L74.6 407.64 L74.72 407.68 L74.84 407.71 L74.96 407.73 L75.08 407.73 L75.2 407.72 L75.32 407.71 L75.44 407.7 L75.56 407.68 L75.68 407.66 L75.8 407.65 L75.92 407.63 L76.04 407.62 L76.16 407.62 L76.28 407.62 L76.4 407.63 L76.52 407.64 L76.64 407.66 L76.76 407.67 L76.88 407.67 L77 407.67 L77.12 407.67 L77.24 407.66 L77.36 407.66 L77.48 407.66 L77.6 407.67 L77.72 407.68 L77.84 407.69 L77.96 407.72 L78.08 407.76 L78.2 407.8 L78.32 407.86 L78.44 407.93 L78.56 408 L78.68 408.08 L78.8 408.16 L78.92 408.23 L79.04 408.31 L79.16 408.38 L79.28 408.45 L79.4 408.5 L79.52 408.55 L79.64 408.59 L79.76 408.62 L79.88 408.65 L80 408.68 L80.12 408.7 L80.24 408.72 L80.36 408.74 L80.48 408.76 L80.6 408.79 L80.72 408.82 L80.84 408.85 L80.96 408.9 L81.08 408.94 L81.2 408.99 L81.32 409.03 L81.44 409.08 L81.56 409.12 L81.68 409.16 L81.8 409.2 L81.92 409.24 L82.04 409.28 L82.16 409.32 L82.28 409.37 L82.4 409.41 L82.52 409.46 L82.64 409.51 L82.76 409.57 L82.88 409.63 L83 409.7 L83.12 409.76 L83.24 409.83 L83.36 409.9 L83.48 409.96 L83.6 410.03 L83.72 410.09 L83.84 410.14 L83.96 410.19 L84.08 410.23 L84.2 410.27 L84.32 410.3 L84.44 410.32 L84.56 410.34 L84.68 410.36 L84.8 410.37 L84.92 410.39 L85.04 410.4 L85.16 410.42 L85.28 410.44 L85.4 410.47 L85.52 410.5 L85.64 410.53 L85.76 410.57 L85.88 410.6 L86 410.64 L86.12 410.67 L86.24 410.71 L86.36 410.74 L86.48 410.77 L86.6 410.8 L86.72 410.83 L86.84 410.85 L86.96 410.88 L87.08 410.9 L87.2 410.94 L87.32 410.98 L87.44 411.03 L87.56 411.09 L87.68 411.15 L87.8 411.21 L87.92 411.26 L88.04 411.31 L88.16 411.36 L88.28 411.39 L88.4 411.41 L88.52 411.42 L88.64 411.42 L88.76 411.4 L88.88 411.36 L89 411.31 L89.12 411.25 L89.24 411.17 L89.36 411.09 L89.48 410.99 L89.6 410.9 L89.72 410.79 L89.84 410.69 L89.96 410.58 L90.08 410.48 L90.2 410.36 L90.32 410.22 L90.44 410.08 L90.56 409.94 L90.68 409.8 L90.8 409.66 L90.92 409.53 L91.04 409.41 L91.16 409.31 L91.28 409.22 L91.4 409.16 L91.52 409.13 L91.64 409.12 L91.76 409.15 L91.88 409.21 L92 409.31 L92.12 409.43 L92.24 409.58 L92.36 409.74 L92.48 409.93 L92.6 410.12 L92.72 410.32 L92.84 410.51 L92.96 410.71 L93.08 410.9 L93.2 411.08 L93.32 411.25 L93.44 411.41 L93.56 411.57 L93.68 411.73 L93.8 411.88 L93.92 412.03 L94.04 412.18 L94.16 412.33 L94.28 412.49 L94.4 412.64 L94.52 412.8 L94.64 412.95 L94.76 413.1 L94.88 413.23 L95 413.35 L95.12 413.45 L95.24 413.55 L95.36 413.64 L95.48 413.72 L95.6 413.79 L95.72 413.84 L95.84 413.87 L95.96 413.89 L96.08 413.9 L96.2 413.95 L96.32 414.05 L96.44 414.18 L96.56 414.35 L96.68 414.55 L96.8 414.78 L96.92 415.02 L97.04 415.29 L97.16 415.56 L97.28 415.85 L97.4 416.14 L97.52 416.43 L97.64 416.72 L97.76 417.01 L97.88 417.3 L98 417.59 L98.12 417.88 L98.24 418.16 L98.36 418.44 L98.48 418.71 L98.6 418.97 L98.72 419.23 L98.84 419.48 L98.96 419.71 L99.08 419.93 L99.2 420.13 L99.32 420.29 L99.44 420.43 L99.56 420.53 L99.68 420.61 L99.8 420.65 L99.92 420.66 L100.04 420.64 L100.16 420.66 L100.28 420.74 L100.4 420.88 L100.52 421.08 L100.64 421.32 L100.76 421.6 L100.88 421.9 L101 422.24 L101.12 422.59 L101.24 422.96 L101.36 423.33 L101.48 423.7 L101.6 424.07 L101.72 424.43 L101.84 424.78 L101.96 425.1 L102.08 425.39 L102.2 425.65 L102.32 425.87 L102.44 426.05 L102.56 426.18 L102.68 426.26 L102.8 426.27 L102.92 426.21 L103.04 426.04 L103.16 425.79 L103.28 425.47 L103.4 425.09 L103.52 424.66 L103.64 424.19 L103.76 423.68 L103.88 423.16 L104 422.64 L104.12 422.12 L104.24 421.62 L104.36 421.16 L104.48 420.74 L104.6 420.38 L104.72 420.09 L104.84 419.88 L104.96 419.77 L105.08 419.73 L105.2 419.62 L105.32 419.44 L105.44 419.19 L105.56 418.89 L105.68 418.53 L105.8 418.12 L105.92 417.67 L106.04 417.17 L106.16 416.65 L106.28 416.1 L106.4 415.52 L106.52 414.93 L106.64 414.32 L106.76 413.72 L106.88 413.12 L107 412.55 L107.12 412.01 L107.24 411.53 L107.36 411.1 L107.48 410.74 L107.6 410.46 L107.72 410.28 L107.84 410.21 L107.96 410.21 L108.08 410.28 L108.2 410.4 L108.32 410.56 L108.44 410.75 L108.56 410.92 L108.68 411.12 L108.8 411.44 L108.92 411.82 L109.04 412.16 L109.16 412.32 L109.28 412.23 L109.4 411.91 L109.52 411.49 L109.64 411.26 L109.76 411.4 L109.88 411.95 L110 412.8 L110.12 413.69 L110.24 414.35 L110.36 414.59 L110.48 414.37 L110.6 413.87 L110.72 413.41 L110.84 413.34 L110.96 413.89 L111.08 415.04 L111.2 416.56 L111.32 418.01 L111.44 418.97 L111.56 419.17 L111.68 418.61 L111.8 417.58 L111.92 416.6 L112.04 416.13 L112.16 416.49 L112.28 417.65 L112.4 419.25 L112.52 420.73 L112.64 421.52 L112.76 421.34 L112.88 420.22 L113 418.55 L113.12 416.96 L113.24 416.04 L113.36 416.17 L113.48 417.3 L113.6 419.01 L113.72 420.64 L113.84 421.53 L113.96 421.31 L114.08 419.99 L114.2 418.02 L114.32 416.12 L114.44 414.94 L114.56 414.91 L114.68 415.99 L114.8 417.73 L114.92 419.41 L115.04 420.35 L115.16 420.14 L115.28 418.81 L115.4 416.82 L115.52 414.91 L115.64 413.77 L115.76 413.8 L115.88 414.98 L116 416.86 L116.12 418.7 L116.24 419.79 L116.36 419.73 L116.48 418.55 L116.6 416.68 L116.72 414.8 L116.84 413.59 L116.96 413.42 L117.08 414.29 L117.2 415.77 L117.32 417.22 L117.44 418.03 L117.56 417.82 L117.68 416.62 L117.8 414.82 L117.92 413.02 L118.04 411.81 L118.16 411.52 L118.28 412.13 L118.4 413.28 L118.52 414.44 L118.64 415.07 L118.76 414.9 L118.88 413.95 L119 412.54 L119.12 411.15 L119.24 410.22 L119.36 410.01 L119.48 410.48 L119.6 411.35 L119.72 412.24 L119.84 412.78 L119.96 412.78 L120.08 412.27 L120.2 411.47 L120.32 410.68 L120.44 410.19 L120.56 410.11 L120.68 410.39 L120.8 410.86 L120.92 411.26 L121.04 411.44 L121.16 411.31 L121.28 410.97 L121.4 410.53 L121.52 410.17 L121.64 409.94 L121.76 409.83 L121.88 409.78 L122 409.67 L122.12 409.5 L122.24 409.32 L122.36 409.15 L122.48 408.98 L122.6 408.81 L122.72 408.66 L122.84 408.52 L122.96 408.4 L123.08 408.29 L123.2 408.2 L123.32 408.13 L123.44 408.07 L123.56 408.03 L123.68 408 L123.8 407.99 L123.92 407.99 L124.04 408 L124.16 408.01 L124.28 408 L124.4 407.97 L124.52 407.92 L124.64 407.87 L124.76 407.8 L124.88 407.73 L125 407.66 L125.12 407.58 L125.24 407.51 L125.36 407.43 L125.48 407.35 L125.6 407.28 L125.72 407.21 L125.84 407.15 L125.96 407.1 L126.08 407.05 L126.2 407.01 L126.32 406.97 L126.44 406.94 L126.56 406.92 L126.68 406.9 L126.8 406.88 L126.92 406.86 L127.04 406.84 L127.16 406.83 L127.28 406.81 L127.4 406.8 L127.52 406.8 L127.64 406.8 L127.76 406.79 L127.88 406.79 L128 406.78 L128.12 406.78 L128.24 406.77 L128.36 406.77 L128.48 406.76 L128.6 406.76 L128.72 406.75 L128.84 406.75 L128.96 406.74 L129.08 406.74 L129.2 406.74 L129.32 406.75 L129.44 406.76 L129.56 406.77 L129.68 406.78 L129.8 406.79 L129.92 406.8 L130.04 406.82 L130.16 406.83 L130.28 406.83 L130.4 406.83 L130.52 406.83 L130.64 406.82 L130.76 406.81 L130.88 406.79 L131 406.77 L131.12 406.74 L131.24 406.72 L131.36 406.69 L131.48 406.66 L131.6 406.64 L131.72 406.62 L131.84 406.61 L131.96 406.59 L132.08 406.59 L132.2 406.57 L132.32 406.56 L132.44 406.53 L132.56 406.51 L132.68 406.48 L132.8 406.45 L132.92 406.42 L133.04 406.4 L133.16 406.37 L133.28 406.36 L133.4 406.34 L133.52 406.33 L133.64 406.34 L133.76 406.35 L133.88 406.38 L134 406.42 L134.12 406.45 L134.24 406.5 L134.36 406.54 L134.48 406.58 L134.6 406.61 L134.72 406.64 L134.84 406.66 L134.96 406.67 L135.08 406.66 L135.2 406.65 L135.32 406.62 L135.44 406.59 L135.56 406.55 L135.68 406.52 L135.8 406.48 L135.92 406.44 L136.04 406.4 L136.16 406.37 L136.28 406.35 L136.4 406.33 L136.52 406.32 L136.64 406.32 L136.76 406.33 L136.88 406.33 L137 406.34 L137.12 406.35 L137.24 406.37 L137.36 406.38 L137.48 406.39 L137.6 406.4 L137.72 406.41 L137.84 406.41 L137.96 406.42 L138.08 406.42 L138.2 406.42 L138.32 406.43 L138.44 406.44 L138.56 406.46 L138.68 406.48 L138.8 406.5 L138.92 406.52 L139.04 406.54 L139.16 406.55 L139.28 406.56 L139.4 406.57 L139.52 406.57 L139.64 406.56 L139.76 406.54 L139.88 406.51 L140 406.48 L140.12 406.43 L140.24 406.39 L140.36 406.35 L140.48 406.31 L140.6 406.27 L140.72 406.24 L140.84 406.22 L140.96 406.21 L141.08 406.2 L141.2 406.2 L141.32 406.2 L141.44 406.19 L141.56 406.18 L141.68 406.17 L141.8 406.16 L141.92 406.15 L142.04 406.14 L142.16 406.13 L142.28 406.13 L142.4 406.13 L142.52 406.13 L142.64 406.13 L142.76 406.13 L142.88 406.14 L143 406.15 L143.12 406.15 L143.24 406.16 L143.36 406.17 L143.48 406.18 L143.6 406.19 L143.72 406.19 L143.84 406.2 L143.96 406.2 L144.08 406.21 L144.2 406.22 L144.32 406.24 L144.44 406.27 L144.56 406.3 L144.68 406.33 L144.8 406.37 L144.92 406.4 L145.04 406.44 L145.16 406.46 L145.28 406.49 L145.4 406.5 L145.52 406.51 L145.64 406.51 L145.76 406.5 L145.88 406.49 L146 406.48 L146.12 406.47 L146.24 406.45 L146.36 406.44 L146.48 406.43 L146.6 406.42 L146.72 406.41 L146.84 406.4 L146.96 406.4 L147.08 406.4 L147.2 406.4 L147.32 406.4 L147.44 406.4 L147.56 406.39 L147.68 406.39 L147.8 406.38 L147.92 406.38 L148.04 406.37 L148.16 406.37 L148.28 406.37 L148.4 406.37 L148.52 406.37 L148.64 406.38 L148.76 406.39 L148.88 406.4 L149 406.41 L149.12 406.43 L149.24 406.45 L149.36 406.46 L149.48 406.48 L149.6 406.5 L149.72 406.51 L149.84 406.52 L149.96 406.53 L150.08 406.53 L150.2 406.55 L150.32 406.57 L150.44 406.6 L150.56 406.63 L150.68 406.67 L150.8 406.71 L150.92 406.74 L151.04 406.78 L151.16 406.81 L151.28 406.83 L151.4 406.85 L151.52 406.85 L151.64 406.85 L151.76 406.83 L151.88 406.8 L152 406.76 L152.12 406.72 L152.24 406.68 L152.36 406.63 L152.48 406.59 L152.6 406.55 L152.72 406.52 L152.84 406.5 L152.96 406.49 L153.08 406.5 L153.2 406.5 L153.32 406.51 L153.44 406.53 L153.56 406.54 L153.68 406.55 L153.8 406.57 L153.92 406.58 L154.04 406.6 L154.16 406.61 L154.28 406.62 L154.4 406.63 L154.52 406.63 L154.64 406.64 L154.76 406.66 L154.88 406.69 L155 406.72 L155.12 406.75 L155.24 406.79 L155.36 406.83 L155.48 406.86 L155.6 406.9 L155.72 406.92 L155.84 406.94 L155.96 406.96 L156.08 406.96 L156.2 406.96 L156.32 406.95 L156.44 406.94 L156.56 406.92 L156.68 406.91 L156.8 406.89 L156.92 406.88 L157.04 406.86 L157.16 406.85 L157.28 406.84 L157.4 406.84 L157.52 406.84 L157.64 406.84 L157.76 406.83 L157.88 406.82 L158 406.8 L158.12 406.78 L158.24 406.76 L158.36 406.74 L158.48 406.72 L158.6 406.7 L158.72 406.69 L158.84 406.68 L158.96 406.68 L159.08 406.68 L159.2 406.69 L159.32 406.7 L159.44 406.72 L159.56 406.73 L159.68 406.75 L159.8 406.77 L159.92 406.79 L160.04 406.8 L160.16 406.82 L160.28 406.83 L160.4 406.84 L160.52 406.84 L160.64 406.85 L160.76 406.85 L160.88 406.85 L161 406.86 L161.12 406.86 L161.24 406.86 L161.36 406.87 L161.48 406.87 L161.6 406.87 L161.72 406.88 L161.84 406.88 L161.96 406.88 L162.08 406.88 L162.2 406.88 L162.32 406.87 L162.44 406.85 L162.56 406.83 L162.68 406.81 L162.8 406.79 L162.92 406.77 L163.04 406.75 L163.16 406.73 L163.28 406.72 L163.4 406.71 L163.52 406.71 L163.64 406.72 L163.76 406.73 L163.88 406.74 L164 406.76 L164.12 406.78 L164.24 406.8 L164.36 406.82 L164.48 406.83 L164.6 406.85 L164.72 406.86 L164.84 406.87 L164.96 406.88 L165.08 406.88 L165.2 406.88 L165.32 406.88 L165.44 406.88 L165.56 406.88 L165.68 406.87 L165.8 406.87 L165.92 406.87 L166.04 406.86 L166.16 406.86 L166.28 406.86 L166.4 406.86 L166.52 406.86 L166.64 406.87 L166.76 406.89 L166.88 406.91 L167 406.94 L167.12 406.98 L167.24 407.02 L167.36 407.05 L167.48 407.09 L167.6 407.12 L167.72 407.15 L167.84 407.16 L167.96 407.17 L168.08 407.17 L168.2 407.16 L168.32 407.14 L168.44 407.12 L168.56 407.09 L168.68 407.06 L168.8 407.02 L168.92 406.99 L169.04 406.96 L169.16 406.93 L169.28 406.91 L169.4 406.9 L169.52 406.89 L169.64 406.9 L169.76 406.91 L169.88 406.93 L170 406.95 L170.12 406.97 L170.24 407 L170.36 407.03 L170.48 407.06 L170.6 407.09 L170.72 407.13 L170.84 407.15 L170.96 407.18 L171.08 407.2 L171.2 407.23 L171.32 407.27 L171.44 407.32 L171.56 407.37 L171.68 407.42 L171.8 407.48 L171.92 407.53 L172.04 407.59 L172.16 407.64 L172.28 407.7 L172.4 407.75 L172.52 407.79 L172.64 407.83 L172.76 407.88 L172.88 407.92 L173 407.96 L173.12 408.01 L173.24 408.05 L173.36 408.1 L173.48 408.14 L173.6 408.19 L173.72 408.24 L173.84 408.29 L173.96 408.34 L174.08 408.38 L174.2 408.42 L174.32 408.45 L174.44 408.47 L174.56 408.49 L174.68 408.5 L174.8 408.52 L174.92 408.53 L175.04 408.54 L175.16 408.56 L175.28 408.59 L175.4 408.62 L175.52 408.67 L175.64 408.72 L175.76 408.77 L175.88 408.83 L176 408.89 L176.12 408.95 L176.24 409.01 L176.36 409.06 L176.48 409.12 L176.6 409.17 L176.72 409.22 L176.84 409.26 L176.96 409.3 L177.08 409.33 L177.2 409.36 L177.32 409.37 L177.44 409.38 L177.56 409.39 L177.68 409.39 L177.8 409.39 L177.92 409.39 L178.04 409.39 L178.16 409.39 L178.28 409.39 L178.4 409.39 L178.52 409.39 L178.64 409.39 L178.76 409.4 L178.88 409.4 L179 409.39 L179.12 409.39 L179.24 409.38 L179.36 409.36 L179.48 409.35 L179.6 409.33 L179.72 409.3 L179.84 409.27 L179.96 409.24 L180.08 409.21 L180.2 409.17 L180.32 409.13 L180.44 409.09 L180.56 409.05 L180.68 409.01 L180.8 408.97 L180.92 408.92 L181.04 408.87 L181.16 408.83 L181.28 408.77 L181.4 408.72 L181.52 408.66 L181.64 408.61 L181.76 408.56 L181.88 408.51 L182 408.47 L182.12 408.43 L182.24 408.39 L182.36 408.35 L182.48 408.31 L182.6 408.27 L182.72 408.22 L182.84 408.17 L182.96 408.12 L183.08 408.06 L183.2 408 L183.32 407.95 L183.44 407.9 L183.56 407.85 L183.68 407.81 L183.8 407.77 L183.92 407.73 L184.04 407.69 L184.16 407.65 L184.28 407.61 L184.4 407.57 L184.52 407.53 L184.64 407.48 L184.76 407.42 L184.88 407.36 L185 407.29 L185.12 407.22 L185.24 407.15 L185.36 407.08 L185.48 407.02 L185.6 406.96 L185.72 406.92 L185.84 406.89 L185.96 406.88 L186.08 406.87 L186.2 406.85 L186.32 406.83 L186.44 406.79 L186.56 406.74 L186.68 406.68 L186.8 406.62 L186.92 406.55 L187.04 406.48 L187.16 406.41 L187.28 406.34 L187.4 406.27 L187.52 406.2 L187.64 406.14 L187.76 406.08 L187.88 406.03 L188 405.98 L188.12 405.94 L188.24 405.9 L188.36 405.86 L188.48 405.82 L188.6 405.78 L188.72 405.73 L188.84 405.68 L188.96 405.63 L189.08 405.57 L189.2 405.5 L189.32 405.43 L189.44 405.37 L189.56 405.3 L189.68 405.24 L189.8 405.18 L189.92 405.13 L190.04 405.09 L190.16 405.07 L190.28 405.05 L190.4 405.04 L190.52 405.04 L190.64 405.05 L190.76 405.06 L190.88 405.07 L191 405.08 L191.12 405.1 L191.24 405.11 L191.36 405.13 L191.48 405.15 L191.6 405.17 L191.72 405.19 L191.84 405.22 L191.96 405.25 L192.08 405.28 L192.2 405.33 L192.32 405.39 L192.44 405.47 L192.56 405.55 L192.68 405.64 L192.8 405.73 L192.92 405.82 L193.04 405.91 L193.16 406 L193.28 406.07 L193.4 406.13 L193.52 406.18 L193.64 406.22 L193.76 406.24 L193.88 406.26 L194 406.26 L194.12 406.27 L194.24 406.27 L194.36 406.27 L194.48 406.27 L194.6 406.28 L194.72 406.3 L194.84 406.32 L194.96 406.36 L195.08 406.65 L195.2 406.82 L195.32 406.97 L195.44 407.09 L195.56 407.18 L195.68 407.23 L195.8 407.25 L195.92 407.26 L196.04 407.25 L196.16 407.24 L196.28 407.22 L196.4 407.21 L196.52 407.2 L196.64 407.21 L196.76 407.24 L196.88 407.29 L197 407.37 L197.12 407.49 L197.24 407.62 L197.36 407.76 L197.48 407.91 L197.6 408.04 L197.72 408.17 L197.84 408.26 L197.96 408.33 L198.08 408.36 L198.2 408.37 L198.32 408.36 L198.44 408.35 L198.56 408.32 L198.68 408.3 L198.8 408.27 L198.92 408.25 L199.04 408.24 L199.16 408.24 L199.28 408.26 L199.4 408.29 L199.52 408.33 L199.64 408.38 L199.76 408.43 L199.88 408.47 L200 408.52 L200.12 408.55 L200.24 408.58 L200.36 408.6 L200.48 408.6 L200.6 408.55 L200.72 408.47 L200.84 408.36 L200.96 408.24 L201.08 408.12 L201.2 408.01 L201.32 407.92 L201.44 407.85 L201.56 407.83 L201.68 407.85 L201.8 407.91 L201.92 407.99 L202.04 408.09 L202.16 408.2 L202.28 408.32 L202.4 408.42 L202.52 408.52 L202.64 408.6 L202.76 408.66 L202.88 408.69 L203 408.73 L203.12 408.78 L203.24 408.84 L203.36 408.9 L203.48 408.96 L203.6 409.02 L203.72 409.07 L203.84 409.12 L203.96 409.17 L204.08 409.21 L204.2 409.25 L204.32 409.3 L204.44 409.36 L204.56 409.43 L204.68 409.49 L204.8 409.55 L204.92 409.61 L205.04 409.66 L205.16 409.7 L205.28 409.73 L205.4 409.71 L205.52 409.64 L205.64 409.56 L205.76 409.45 L205.88 409.34 L206 409.24 L206.12 409.16 L206.24 409.11 L206.36 409.1 L206.48 409.14 L206.6 409.24 L206.72 409.37 L206.84 409.53 L206.96 409.7 L207.08 409.88 L207.2 410.05 L207.32 410.2 L207.44 410.31 L207.56 410.38 L207.68 410.41 L207.8 410.44 L207.92 410.47 L208.04 410.5 L208.16 410.53 L208.28 410.56 L208.4 410.59 L208.52 410.61 L208.64 410.64 L208.76 410.66 L208.88 410.67 L209 410.66 L209.12 410.63 L209.24 410.6 L209.36 410.55 L209.48 410.51 L209.6 410.46 L209.72 410.42 L209.84 410.39 L209.96 410.38 L210.08 410.38 L210.2 410.42 L210.32 410.48 L210.44 410.56 L210.56 410.65 L210.68 410.74 L210.8 410.83 L210.92 410.91 L211.04 410.97 L211.16 411.01 L211.28 411.02 L211.4 411.04 L211.52 411.05 L211.64 411.06 L211.76 411.07 L211.88 411.08 L212 411.09 L212.12 411.11 L212.24 411.12 L212.36 411.14 L212.48 411.15 L212.6 411.12 L212.72 411.06 L212.84 410.97 L212.96 410.87 L213.08 410.76 L213.2 410.67 L213.32 410.59 L213.44 410.54 L213.56 410.53 L213.68 410.55 L213.8 410.58 L213.92 410.62 L214.04 410.65 L214.16 410.68 L214.28 410.72 L214.4 410.75 L214.52 410.79 L214.64 410.82 L214.76 410.86 L214.88 410.88 L215 410.87 L215.12 410.83 L215.24 410.77 L215.36 410.7 L215.48 410.63 L215.6 410.56 L215.72 410.51 L215.84 410.48 L215.96 410.48 L216.08 410.53 L216.2 410.65 L216.32 410.82 L216.44 411.03 L216.56 411.26 L216.68 411.5 L216.8 411.72 L216.92 411.92 L217.04 412.08 L217.16 412.17 L217.28 412.22 L217.4 412.26 L217.52 412.32 L217.64 412.38 L217.76 412.44 L217.88 412.5 L218 412.57 L218.12 412.62 L218.24 412.67 L218.36 412.72 L218.48 412.74 L218.6 412.71 L218.72 412.65 L218.84 412.56 L218.96 412.46 L219.08 412.35 L219.2 412.25 L219.32 412.16 L219.44 412.11 L219.56 412.09 L219.68 412.12 L219.8 412.17 L219.92 412.24 L220.04 412.32 L220.16 412.4 L220.28 412.49 L220.4 412.57 L220.52 412.64 L220.64 412.7 L220.76 412.74 L220.88 412.76 L221 412.78 L221.12 412.8 L221.24 412.82 L221.36 412.84 L221.48 412.86 L221.6 412.88 L221.72 412.9 L221.84 412.91 L221.96 412.92 L222.08 412.93 L222.2 412.93 L222.32 412.94 L222.44 412.94 L222.56 412.95 L222.68 412.95 L222.8 412.95 L222.92 412.95 L223.04 412.94 L223.16 412.93 L223.28 412.9 L223.4 412.81 L223.52 412.68 L223.64 412.51 L223.76 412.33 L223.88 412.13 L224 411.95 L224.12 411.78 L224.24 411.65 L224.36 411.56 L224.48 411.54 L224.6 411.57 L224.72 411.66 L224.84 411.78 L224.96 411.91 L225.08 412.05 L225.2 412.18 L225.32 412.28 L225.44 412.34 L225.56 412.35 L225.68 412.3 L225.8 412.23 L225.92 412.14 L226.04 412.04 L226.16 411.94 L226.28 411.83 L226.4 411.72 L226.52 411.63 L226.64 411.54 L226.76 411.48 L226.88 411.43 L227 411.39 L227.12 411.36 L227.24 411.34 L227.36 411.32 L227.48 411.3 L227.6 411.28 L227.72 411.26 L227.84 411.23 L227.96 411.2 L228.08 411.16 L228.2 411.09 L228.32 411.01 L228.44 410.91 L228.56 410.81 L228.68 410.71 L228.8 410.61 L228.92 410.52 L229.04 410.46 L229.16 410.41 L229.28 410.4 L229.4 410.41 L229.52 410.44 L229.64 410.48 L229.76 410.53 L229.88 410.59 L230 410.64 L230.12 410.69 L230.24 410.73 L230.36 410.75 L230.48 410.75 L230.6 410.78 L230.72 410.81 L230.84 410.85 L230.96 410.9 L231.08 410.94 L231.2 410.99 L231.32 411.03 L231.44 411.06 L231.56 411.08 L231.68 411.08 L231.8 411.07 L231.92 411.05 L232.04 411.02 L232.16 410.99 L232.28 410.95 L232.4 410.92 L232.52 410.88 L232.64 410.85 L232.76 410.81 L232.88 410.75 L233 410.62 L233.12 410.36 L233.24 409.92 L233.36 409.23 L233.48 408.26 L233.6 407.05 L233.72 405.72 L233.84 404.47 L233.96 403.54 L234.08 403.11 L234.2 403.25 L234.32 403.9 L234.44 404.93 L234.56 406.1 L234.68 407.22 L234.8 408.15 L234.92 408.87 L235.04 409.42 L235.16 409.89 L235.28 410.37 L235.4 410.89 L235.52 411.44 L235.64 412.02 L235.76 412.53 L235.88 412.91 L236 413.08 L236.12 413 L236.24 412.7 L236.36 412.26 L236.48 411.77 L236.6 411.33 L236.72 411 L236.84 410.8 L236.96 410.69 L237.08 410.67 L237.2 410.7 L237.32 410.74 L237.44 410.78 L237.56 410.81 L237.68 410.82 L237.8 410.85 L237.92 410.9 L238.04 410.96 L238.16 411.03 L238.28 411.09 L238.4 411.16 L238.52 411.21 L238.64 411.25 L238.76 411.28 L238.88 411.27 L239 411.22 L239.12 411.14 L239.24 411.03 L239.36 410.91 L239.48 410.78 L239.6 410.66 L239.72 410.56 L239.84 410.48 L239.96 410.44 L240.08 410.45 L240.2 410.52 L240.32 410.63 L240.44 410.77 L240.56 410.94 L240.68 411.12 L240.8 411.29 L240.92 411.46 L241.04 411.6 L241.16 411.72 L241.28 411.82 L241.4 411.96 L241.52 412.18 L241.64 412.5 L241.76 412.96 L241.88 413.58 L242 414.34 L242.12 415.17 L242.24 415.96 L242.36 416.56 L242.48 416.86 L242.6 416.75 L242.72 416.26 L242.84 415.51 L242.96 414.65 L243.08 413.81 L243.2 413.1 L243.32 412.56 L243.44 412.21 L243.56 412.03 L243.68 411.98 L243.8 412.03 L243.92 412.13 L244.04 412.27 L244.16 412.42 L244.28 412.56 L244.4 412.69 L244.52 412.78 L244.64 412.81 L244.76 412.78 L244.88 412.66 L245 412.45 L245.12 412.13 L245.24 411.71 L245.36 411.19 L245.48 410.62 L245.6 410.04 L245.72 409.53 L245.84 409.18 L245.96 409.06 L246.08 409.18 L246.2 409.52 L246.32 410.03 L246.44 410.64 L246.56 411.28 L246.68 411.88 L246.8 412.42 L246.92 412.86 L247.04 413.22 L247.16 413.54 L247.28 413.85 L247.4 414.21 L247.52 414.71 L247.64 415.43 L247.76 416.45 L247.88 417.82 L248 419.48 L248.12 421.27 L248.24 422.94 L248.36 424.19 L248.48 424.76 L248.6 424.56 L248.72 423.64 L248.84 422.22 L248.96 420.59 L249.08 419.02" fill="none" stroke="#48d0ac" stroke-width="1.05" stroke-linejoin="round" />
<text x="0" y="0" font-size="8.92" fill="#1a1a1a" text-anchor="start" font-weight="bold"  transform="translate(40 403.5) scale(0.93 1)">PVC</text>
<text x="0" y="0" font-size="8.71" fill="#1a1a1a" text-anchor="start" font-weight="bold"  transform="translate(40 413.2) scale(0.93 1)">605K</text>
<rect x="88.2" y="398.4" width="39.4" height="36" fill="none" stroke="#666" stroke-width="0.85" stroke-dasharray="1.8 1.6"/>
<text x="108.2" y="432.8" font-size="7.3" fill="#444" text-anchor="middle" font-weight="normal" stroke="#444" stroke-width="0.12" >HCl</text>
<text x="0" y="0" font-size="7.73" fill="#444" text-anchor="middle" font-weight="normal" stroke="#444" stroke-width="0.12"  transform="translate(236 431) scale(0.88 1)">670</text>
<line x1="244.5" y1="414.5" x2="239.5" y2="424.5" stroke="#555" stroke-width="0.6"/>
<path d="M39.2 441.84 L39.4 441.84 L39.6 441.84 L39.8 441.84 L40 441.84 L40.2 441.83 L40.4 441.81 L40.6 441.78 L40.8 441.75 L41 441.72 L41.2 441.69 L41.4 441.68 L41.6 441.67 L41.8 441.66 L42 441.63 L42.2 441.59 L42.4 441.54 L42.6 441.49 L42.8 441.45 L43 441.42 L43.2 441.41 L43.4 441.41 L43.6 441.42 L43.8 441.42 L44 441.42 L44.2 441.42 L44.4 441.42 L44.6 441.42 L44.8 441.42 L45 441.43 L45.2 441.44 L45.4 441.46 L45.6 441.47 L45.8 441.49 L46 441.51 L46.2 441.52 L46.4 441.53 L46.6 441.55 L46.8 441.6 L47 441.67 L47.2 441.75 L47.4 441.83 L47.6 441.9 L47.8 441.95 L48 441.97 L48.2 441.97 L48.4 441.94 L48.6 441.89 L48.8 441.84 L49 441.79 L49.2 441.74 L49.4 441.71 L49.6 441.7 L49.8 441.71 L50 441.72 L50.2 441.73 L50.4 441.74 L50.6 441.75 L50.8 441.76 L51 441.77 L51.2 441.78 L51.4 441.8 L51.6 441.83 L51.8 441.88 L52 441.93 L52.2 441.99 L52.4 442.04 L52.6 442.07 L52.8 442.09 L53 442.08 L53.2 442.05 L53.4 442.01 L53.6 441.96 L53.8 441.91 L54 441.87 L54.2 441.84 L54.4 441.84 L54.6 441.85 L54.8 441.86 L55 441.89 L55.2 441.91 L55.4 441.94 L55.6 441.96 L55.8 441.98 L56 441.99 L56.2 441.99 L56.4 441.98 L56.6 441.98 L56.8 441.97 L57 441.96 L57.2 441.96 L57.4 441.95 L57.6 441.95 L57.8 441.95 L58 441.93 L58.2 441.9 L58.4 441.87 L58.6 441.84 L58.8 441.81 L59 441.79 L59.2 441.78 L59.4 441.79 L59.6 441.82 L59.8 441.86 L60 441.91 L60.2 441.96 L60.4 442 L60.6 442.04 L60.8 442.05 L61 442.07 L61.2 442.09 L61.4 442.12 L61.6 442.15 L61.8 442.19 L62 442.22 L62.2 442.25 L62.4 442.27 L62.6 442.28 L62.8 442.26 L63 442.22 L63.2 442.18 L63.4 442.13 L63.6 442.1 L63.8 442.08 L64 442.09 L64.2 442.12 L64.4 442.14 L64.6 442.18 L64.8 442.21 L65 442.24 L65.2 442.27 L65.4 442.3 L65.6 442.33 L65.8 442.37 L66 442.4 L66.2 442.45 L66.4 442.5 L66.6 442.54 L66.8 442.59 L67 442.63 L67.2 442.66 L67.4 442.68 L67.6 442.69 L67.8 442.69 L68 442.69 L68.2 442.68 L68.4 442.68 L68.6 442.69 L68.8 442.71 L69 442.75 L69.2 442.81 L69.4 442.87 L69.6 442.94 L69.8 443.01 L70 443.07 L70.2 443.13 L70.4 443.16 L70.6 443.19 L70.8 443.24 L71 443.29 L71.2 443.34 L71.4 443.39 L71.6 443.44 L71.8 443.48 L72 443.5 L72.2 443.52 L72.4 443.53 L72.6 443.53 L72.8 443.53 L73 443.53 L73.2 443.53 L73.4 443.53 L73.6 443.54 L73.8 443.55 L74 443.55 L74.2 443.55 L74.4 443.54 L74.6 443.53 L74.8 443.53 L75 443.52 L75.2 443.52 L75.4 443.53 L75.6 443.55 L75.8 443.59 L76 443.62 L76.2 443.67 L76.4 443.71 L76.6 443.74 L76.8 443.76 L77 443.77 L77.2 443.75 L77.4 443.71 L77.6 443.67 L77.8 443.64 L78 443.61 L78.2 443.6 L78.4 443.61 L78.6 443.65 L78.8 443.71 L79 443.78 L79.2 443.85 L79.4 443.93 L79.6 444 L79.8 444.06 L80 444.11 L80.2 444.15 L80.4 444.18 L80.6 444.21 L80.8 444.23 L81 444.26 L81.2 444.29 L81.4 444.33 L81.6 444.37 L81.8 444.42 L82 444.48 L82.2 444.55 L82.4 444.62 L82.6 444.69 L82.8 444.76 L83 444.82 L83.2 444.87 L83.4 444.91 L83.6 444.94 L83.8 444.95 L84 444.95 L84.2 444.96 L84.4 444.97 L84.6 444.99 L84.8 445.03 L85 445.1 L85.2 445.18 L85.4 445.29 L85.6 445.4 L85.8 445.51 L86 445.61 L86.2 445.69 L86.4 445.75 L86.6 445.78 L86.8 445.79 L87 445.78 L87.2 445.76 L87.4 445.74 L87.6 445.73 L87.8 445.74 L88 445.76 L88.2 445.8 L88.4 445.84 L88.6 445.89 L88.8 445.93 L89 445.97 L89.2 446.01 L89.4 446.05 L89.6 446.08 L89.8 446.12 L90 446.18 L90.2 446.26 L90.4 446.34 L90.6 446.43 L90.8 446.5 L91 446.55 L91.2 446.59 L91.4 446.6 L91.6 446.63 L91.8 446.65 L92 446.67 L92.2 446.69 L92.4 446.71 L92.6 446.72 L92.8 446.72 L93 446.7 L93.2 446.62 L93.4 446.5 L93.6 446.36 L93.8 446.2 L94 446.03 L94.2 445.87 L94.4 445.72 L94.6 445.58 L94.8 445.44 L95 445.31 L95.2 445.2 L95.4 445.1 L95.6 445.02 L95.8 444.97 L96 444.96 L96.2 444.98 L96.4 445.04 L96.6 445.14 L96.8 445.27 L97 445.42 L97.2 445.59 L97.4 445.78 L97.6 445.98 L97.8 446.18 L98 446.37 L98.2 446.55 L98.4 446.72 L98.6 446.86 L98.8 446.98 L99 447.08 L99.2 447.19 L99.4 447.34 L99.6 447.55 L99.8 447.82 L100 448.16 L100.2 448.56 L100.4 449.01 L100.6 449.51 L100.8 450.04 L101 450.6 L101.2 451.18 L101.4 451.79 L101.6 452.45 L101.8 453.2 L102 454.05 L102.2 455.05 L102.4 456.21 L102.6 457.52 L102.8 458.96 L103 460.48 L103.2 462.02 L103.4 463.49 L103.6 464.8 L103.8 465.86 L104 466.58 L104.2 466.92 L104.4 466.83 L104.6 466.3 L104.8 465.36 L105 464.05 L105.2 462.44 L105.4 460.63 L105.6 458.69 L105.8 456.73 L106 454.81 L106.2 453 L106.4 451.37 L106.6 449.93 L106.8 448.7 L107 447.68 L107.2 446.85 L107.4 446.21 L107.6 445.72 L107.8 445.36 L108 445.1 L108.2 444.91 L108.4 444.76 L108.6 444.64 L108.8 444.53 L109 444.43 L109.2 444.35 L109.4 444.28 L109.6 444.22 L109.8 444.16 L110 444.11 L110.2 444.05 L110.4 443.98 L110.6 443.92 L110.8 443.85 L111 443.79 L111.2 443.72 L111.4 443.66 L111.6 443.6 L111.8 443.54 L112 443.49 L112.2 443.43 L112.4 443.36 L112.6 443.29 L112.8 443.22 L113 443.15 L113.2 443.08 L113.4 443.03 L113.6 442.99 L113.8 442.95 L114 442.91 L114.2 442.88 L114.4 442.84 L114.6 442.81 L114.8 442.78 L115 442.75 L115.2 442.74 L115.4 442.73 L115.6 442.73 L115.8 442.74 L116 442.74 L116.2 442.75 L116.4 442.75 L116.6 442.74 L116.8 442.73 L117 442.71 L117.2 442.67 L117.4 442.62 L117.6 442.56 L117.8 442.5 L118 442.44 L118.2 442.39 L118.4 442.36 L118.6 442.35 L118.8 442.36 L119 442.39 L119.2 442.42 L119.4 442.45 L119.6 442.48 L119.8 442.49 L120 442.47 L120.2 442.43 L120.4 442.38 L120.6 442.31 L120.8 442.25 L121 442.18 L121.2 442.12 L121.4 442.06 L121.6 442.02 L121.8 441.99 L122 441.96 L122.2 441.94 L122.4 441.91 L122.6 441.88 L122.8 441.85 L123 441.83 L123.2 441.81 L123.4 441.78 L123.6 441.75 L123.8 441.72 L124 441.68 L124.2 441.65 L124.4 441.62 L124.6 441.6 L124.8 441.59 L125 441.6 L125.2 441.62 L125.4 441.65 L125.6 441.68 L125.8 441.72 L126 441.74 L126.2 441.77 L126.4 441.77 L126.6 441.78 L126.8 441.78 L127 441.79 L127.2 441.81 L127.4 441.82 L127.6 441.83 L127.8 441.84 L128 441.84 L128.2 441.83 L128.4 441.82 L128.6 441.81 L128.8 441.79 L129 441.77 L129.2 441.75 L129.4 441.74 L129.6 441.74 L129.8 441.75 L130 441.77 L130.2 441.81 L130.4 441.85 L130.6 441.9 L130.8 441.93 L131 441.96 L131.2 441.97 L131.4 441.96 L131.6 441.95 L131.8 441.94 L132 441.92 L132.2 441.9 L132.4 441.88 L132.6 441.87 L132.8 441.86 L133 441.85 L133.2 441.83 L133.4 441.79 L133.6 441.75 L133.8 441.71 L134 441.67 L134.2 441.65 L134.4 441.64 L134.6 441.64 L134.8 441.66 L135 441.68 L135.2 441.7 L135.4 441.73 L135.6 441.75 L135.8 441.76 L136 441.77 L136.2 441.77 L136.4 441.79 L136.6 441.82 L136.8 441.86 L137 441.89 L137.2 441.92 L137.4 441.94 L137.6 441.95 L137.8 441.94 L138 441.91 L138.2 441.88 L138.4 441.84 L138.6 441.81 L138.8 441.77 L139 441.75 L139.2 441.74 L139.4 441.74 L139.6 441.74 L139.8 441.75 L140 441.75 L140.2 441.76 L140.4 441.76 L140.6 441.77 L140.8 441.77 L141 441.75 L141.2 441.72 L141.4 441.68 L141.6 441.62 L141.8 441.57 L142 441.53 L142.2 441.49 L142.4 441.48 L142.6 441.49 L142.8 441.51 L143 441.54 L143.2 441.58 L143.4 441.62 L143.6 441.65 L143.8 441.67 L144 441.68 L144.2 441.68 L144.4 441.67 L144.6 441.67 L144.8 441.66 L145 441.66 L145.2 441.66 L145.4 441.65 L145.6 441.65 L145.8 441.65 L146 441.64 L146.2 441.63 L146.4 441.63 L146.6 441.62 L146.8 441.61 L147 441.61 L147.2 441.6 L147.4 441.6 L147.6 441.6 L147.8 441.6 L148 441.6 L148.2 441.6 L148.4 441.6 L148.6 441.6 L148.8 441.6 L149 441.6 L149.2 441.61 L149.4 441.62 L149.6 441.63 L149.8 441.64 L150 441.65 L150.2 441.66 L150.4 441.66 L150.6 441.66 L150.8 441.66 L151 441.65 L151.2 441.64 L151.4 441.64 L151.6 441.63 L151.8 441.63 L152 441.62 L152.2 441.62 L152.4 441.62 L152.6 441.61 L152.8 441.61 L153 441.6 L153.2 441.59 L153.4 441.59 L153.6 441.59 L153.8 441.58 L154 441.56 L154.2 441.53 L154.4 441.5 L154.6 441.47 L154.8 441.44 L155 441.42 L155.2 441.41 L155.4 441.41 L155.6 441.43 L155.8 441.45 L156 441.47 L156.2 441.49 L156.4 441.51 L156.6 441.53 L156.8 441.53 L157 441.54 L157.2 441.57 L157.4 441.61 L157.6 441.66 L157.8 441.71 L158 441.75 L158.2 441.77 L158.4 441.78 L158.6 441.77 L158.8 441.74 L159 441.69 L159.2 441.64 L159.4 441.59 L159.6 441.54 L159.8 441.51 L160 441.5 L160.2 441.49 L160.4 441.46 L160.6 441.43 L160.8 441.4 L161 441.36 L161.2 441.33 L161.4 441.3 L161.6 441.3 L161.8 441.29 L162 441.29 L162.2 441.29 L162.4 441.28 L162.6 441.28 L162.8 441.27 L163 441.27 L163.2 441.27 L163.4 441.28 L163.6 441.31 L163.8 441.35 L164 441.4 L164.2 441.45 L164.4 441.49 L164.6 441.52 L164.8 441.53 L165 441.52 L165.2 441.49 L165.4 441.45 L165.6 441.4 L165.8 441.36 L166 441.32 L166.2 441.29 L166.4 441.28 L166.6 441.28 L166.8 441.28 L167 441.29 L167.2 441.29 L167.4 441.29 L167.6 441.3 L167.8 441.3 L168 441.3 L168.2 441.3 L168.4 441.3 L168.6 441.3 L168.8 441.3 L169 441.3 L169.2 441.3 L169.4 441.3 L169.6 441.3 L169.8 441.31 L170 441.33 L170.2 441.36 L170.4 441.41 L170.6 441.47 L170.8 441.53 L171 441.59 L171.2 441.65 L171.4 441.72 L171.6 441.82 L171.8 441.94 L172 442.07 L172.2 442.2 L172.4 442.34 L172.6 442.46 L172.8 442.58 L173 442.67 L173.2 442.75 L173.4 442.82 L173.6 442.88 L173.8 442.95 L174 443.03 L174.2 443.12 L174.4 443.22 L174.6 443.34 L174.8 443.45 L175 443.57 L175.2 443.68 L175.4 443.79 L175.6 443.89 L175.8 444 L176 444.1 L176.2 444.2 L176.4 444.29 L176.6 444.38 L176.8 444.46 L177 444.53 L177.2 444.6 L177.4 444.66 L177.6 444.72 L177.8 444.77 L178 444.81 L178.2 444.85 L178.4 444.87 L178.6 444.89 L178.8 444.89 L179 444.88 L179.2 444.84 L179.4 444.79 L179.6 444.72 L179.8 444.64 L180 444.54 L180.2 444.43 L180.4 444.32 L180.6 444.2 L180.8 444.08 L181 443.96 L181.2 443.84 L181.4 443.74 L181.6 443.63 L181.8 443.53 L182 443.43 L182.2 443.32 L182.4 443.22 L182.6 443.11 L182.8 443.03 L183 442.96 L183.2 442.9 L183.4 442.85 L183.6 442.82 L183.8 442.8 L184 442.8 L184.2 442.79 L184.4 442.77 L184.6 442.74 L184.8 442.7 L185 442.66 L185.2 442.61 L185.4 442.57 L185.6 442.52 L185.8 442.48 L186 442.42 L186.2 442.35 L186.4 442.28 L186.6 442.2 L186.8 442.13 L187 442.07 L187.2 442.01 L187.4 441.97 L187.6 441.93 L187.8 441.9 L188 441.88 L188.2 441.85 L188.4 441.83 L188.6 441.81 L188.8 441.78 L189 441.75 L189.2 441.74 L189.4 441.74 L189.6 441.75 L189.8 441.77 L190 441.78 L190.2 441.81 L190.4 441.86 L190.6 441.9 L190.8 441.94 L191 441.99 L191.2 442.04 L191.4 442.1 L191.6 442.19 L191.8 442.3 L192 442.45 L192.2 442.62 L192.4 442.8 L192.6 442.98 L192.8 443.16 L193 443.33 L193.2 443.51 L193.4 443.67 L193.6 443.81 L193.8 443.96 L194 444.1 L194.2 444.23 L194.4 444.35 L194.6 444.45 L194.8 444.52 L195 444.55 L195.2 444.51 L195.4 444.42 L195.6 444.29 L195.8 444.16 L196 444.04 L196.2 443.97 L196.4 443.96 L196.6 444.04 L196.8 444.18 L197 444.33 L197.2 444.48 L197.4 444.59 L197.6 444.62 L197.8 444.56 L198 444.4 L198.2 444.2 L198.4 443.99 L198.6 443.81 L198.8 443.69 L199 443.68 L199.2 443.79 L199.4 444 L199.6 444.24 L199.8 444.46 L200 444.63 L200.2 444.68 L200.4 444.61 L200.6 444.45 L200.8 444.24 L201 444.03 L201.2 443.84 L201.4 443.72 L201.6 443.68 L201.8 443.63 L202 443.55 L202.2 443.46 L202.4 443.38 L202.6 443.31 L202.8 443.28 L203 443.29 L203.2 443.32 L203.4 443.37 L203.6 443.42 L203.8 443.47 L204 443.49 L204.2 443.5 L204.4 443.55 L204.6 443.63 L204.8 443.73 L205 443.83 L205.2 443.9 L205.4 443.94 L205.6 443.96 L205.8 444 L206 444.05 L206.2 444.1 L206.4 444.15 L206.6 444.19 L206.8 444.22 L207 444.21 L207.2 444.19 L207.4 444.16 L207.6 444.13 L207.8 444.13 L208 444.15 L208.2 444.16 L208.4 444.15 L208.6 444.11 L208.8 444.08 L209 444.05 L209.2 444.05 L209.4 444.1 L209.6 444.2 L209.8 444.35 L210 444.5 L210.2 444.65 L210.4 444.78 L210.6 444.86 L210.8 444.95 L211 445.11 L211.2 445.31 L211.4 445.53 L211.6 445.71 L211.8 445.84 L212 445.88 L212.2 445.84 L212.4 445.75 L212.6 445.63 L212.8 445.52 L213 445.44 L213.2 445.43 L213.4 445.5 L213.6 445.62 L213.8 445.78 L214 445.95 L214.2 446.09 L214.4 446.18 L214.6 446.17 L214.8 446.01 L215 445.72 L215.2 445.39 L215.4 445.08 L215.6 444.84 L215.8 444.76 L216 444.86 L216.2 445.11 L216.4 445.46 L216.6 445.81 L216.8 446.12 L217 446.32 L217.2 446.35 L217.4 446.34 L217.6 446.32 L217.8 446.29 L218 446.27 L218.2 446.25 L218.4 446.26 L218.6 446.23 L218.8 446.16 L219 446.05 L219.2 445.94 L219.4 445.85 L219.6 445.8 L219.8 445.81 L220 445.82 L220.2 445.82 L220.4 445.83 L220.6 445.84 L220.8 445.85 L221 445.86 L221.2 445.88 L221.4 445.89 L221.6 445.91 L221.8 445.93 L222 445.95 L222.2 445.96 L222.4 445.99 L222.6 446.07 L222.8 446.19 L223 446.34 L223.2 446.48 L223.4 446.58 L223.6 446.63 L223.8 446.55 L224 446.34 L224.2 446.05 L224.4 445.75 L224.6 445.49 L224.8 445.33 L225 445.32 L225.2 445.42 L225.4 445.58 L225.6 445.76 L225.8 445.91 L226 446 L226.2 445.99 L226.4 445.88 L226.6 445.66 L226.8 445.17 L227 444.24 L227.2 442.94 L227.4 441.89 L227.6 441.76 L227.8 442.52 L228 443.47 L228.2 444.05 L228.4 444.2 L228.6 444.11 L228.8 443.98 L229 443.9 L229.2 443.89 L229.4 443.92 L229.6 443.95 L229.8 443.97 L230 443.94 L230.2 443.85 L230.4 443.74 L230.6 443.57 L230.8 443.24 L231 442.6 L231.2 441.72 L231.4 441.01 L231.6 440.92 L231.8 441.39 L232 442 L232.2 442.34 L232.4 442.42 L232.6 442.39 L232.8 442.43 L233 442.58 L233.2 442.8 L233.4 443.06 L233.6 443.31 L233.8 443.52 L234 443.63 L234.2 443.66 L234.4 443.66 L234.6 443.64 L234.8 443.62 L235 443.61 L235.2 443.64 L235.4 443.7 L235.6 443.78 L235.8 443.87 L236 443.96 L236.2 444.05 L236.4 444.13 L236.6 444.21 L236.8 444.3 L237 444.4 L237.2 444.52 L237.4 444.65 L237.6 444.76 L237.8 444.84 L238 444.89 L238.2 444.83 L238.4 444.7 L238.6 444.54 L238.8 444.37 L239 444.26 L239.2 444.23 L239.4 444.31 L239.6 444.47 L239.8 444.67 L240 444.87 L240.2 445.04 L240.4 445.11 L240.6 445.07 L240.8 444.97 L241 444.82 L241.2 444.65 L241.4 444.47 L241.6 444.29 L241.8 444.15 L242 444.07 L242.2 444.07 L242.4 444.1 L242.6 444.14 L242.8 444.15 L243 444.09 L243.2 443.94 L243.4 443.67 L243.6 443.32 L243.8 442.94 L244 442.58 L244.2 442.28 L244.4 442.1 L244.6 442.04 L244.8 442.1 L245 442.21 L245.2 442.35 L245.4 442.47 L245.6 442.54 L245.8 442.52 L246 442.5 L246.2 442.52 L246.4 442.61 L246.6 442.75 L246.8 442.93 L247 443.11 L247.2 445.05 L247.4 446.92 L247.6 448.69 L247.8 450.46 L248 452.22 L248.2 454 L248.4 455.81 L248.6 457.65 L248.8 459.53 L249 461.42" fill="none" stroke="#45a86e" stroke-width="1.05" stroke-linejoin="round" />
<text x="0" y="0" font-size="8.92" fill="#1a1a1a" text-anchor="start" font-weight="bold"  transform="translate(40 439.9) scale(0.93 1)">PVC</text>
<text x="0" y="0" font-size="8.71" fill="#1a1a1a" text-anchor="start" font-weight="bold"  transform="translate(40 449.9) scale(0.93 1)">740K</text>
<text x="0" y="0" font-size="7.73" fill="#444" text-anchor="middle" font-weight="normal" stroke="#444" stroke-width="0.12"  transform="translate(105.8 471) scale(0.88 1)">2934</text>

<text x="0" y="0" font-size="9.73" fill="#111" text-anchor="start" font-weight="bold"  transform="translate(307 250.9) scale(1.13 1)">(B-2)</text>
<rect x="307.3" y="254.5" width="210.8" height="227.5" fill="none" stroke="#7a7a7a" stroke-width="1.15"/>
<line x1="307.3" y1="254" x2="307.3" y2="482.5" stroke="#a8a8a8" stroke-width="2.3"/>
<line x1="307.3" y1="482" x2="307.3" y2="483.8" stroke="#6a6a6a" stroke-width="0.9"/>
<text x="307.3" y="492.8" font-size="7.8" fill="#333" text-anchor="middle" font-weight="normal" stroke="#333" stroke-width="0.12" >4000</text>
<line x1="338.25" y1="482" x2="338.25" y2="480.4" stroke="#6a6a6a" stroke-width="0.9"/>
<line x1="369.2" y1="482" x2="369.2" y2="483.8" stroke="#6a6a6a" stroke-width="0.9"/>
<text x="369.2" y="492.8" font-size="7.8" fill="#333" text-anchor="middle" font-weight="normal" stroke="#333" stroke-width="0.12" >3000</text>
<line x1="400.15" y1="482" x2="400.15" y2="480.4" stroke="#6a6a6a" stroke-width="0.9"/>
<line x1="431.1" y1="482" x2="431.1" y2="483.8" stroke="#6a6a6a" stroke-width="0.9"/>
<text x="431.1" y="492.8" font-size="7.8" fill="#333" text-anchor="middle" font-weight="normal" stroke="#333" stroke-width="0.12" >2000</text>
<line x1="462.05" y1="482" x2="462.05" y2="480.4" stroke="#6a6a6a" stroke-width="0.9"/>
<line x1="493" y1="482" x2="493" y2="483.8" stroke="#6a6a6a" stroke-width="0.9"/>
<text x="493" y="492.8" font-size="7.8" fill="#333" text-anchor="middle" font-weight="normal" stroke="#333" stroke-width="0.12" >1000</text>
<text x="407" y="505.8" font-size="9.3" fill="#222" stroke="#222" stroke-width="0.2" text-anchor="middle">Wavenumber (cm<tspan font-size="5.8" dy="-3.4">-1</tspan><tspan dy="3.4">)</tspan></text>
<path d="M308.1 277.28 L308.25 277.33 L308.4 277.38 L308.55 277.43 L308.7 277.46 L308.85 277.49 L309 277.5 L309.15 277.5 L309.3 277.5 L309.45 277.49 L309.6 277.48 L309.75 277.47 L309.9 277.46 L310.05 277.45 L310.2 277.45 L310.35 277.44 L310.5 277.45 L310.65 277.45 L310.8 277.46 L310.95 277.47 L311.1 277.48 L311.25 277.49 L311.4 277.5 L311.55 277.52 L311.7 277.53 L311.85 277.54 L312 277.54 L312.15 277.55 L312.3 277.55 L312.45 277.55 L312.6 277.55 L312.75 277.55 L312.9 277.54 L313.05 277.54 L313.2 277.54 L313.35 277.55 L313.5 277.55 L313.65 277.56 L313.8 277.57 L313.95 277.58 L314.1 277.58 L314.25 277.59 L314.4 277.6 L314.55 277.61 L314.7 277.62 L314.85 277.63 L315 277.63 L315.15 277.64 L315.3 277.64 L315.45 277.64 L315.6 277.63 L315.75 277.63 L315.9 277.62 L316.05 277.62 L316.2 277.62 L316.35 277.62 L316.5 277.62 L316.65 277.63 L316.8 277.63 L316.95 277.62 L317.1 277.62 L317.25 277.61 L317.4 277.61 L317.55 277.6 L317.7 277.6 L317.85 277.6 L318 277.6 L318.15 277.61 L318.3 277.63 L318.45 277.66 L318.6 277.69 L318.75 277.73 L318.9 277.76 L319.05 277.79 L319.2 277.82 L319.35 277.84 L319.5 277.85 L319.65 277.85 L319.8 277.85 L319.95 277.84 L320.1 277.84 L320.25 277.83 L320.4 277.82 L320.55 277.81 L320.7 277.8 L320.85 277.8 L321 277.8 L321.15 277.81 L321.3 277.83 L321.45 277.86 L321.6 277.89 L321.75 277.93 L321.9 277.96 L322.05 277.99 L322.2 278.02 L322.35 278.04 L322.5 278.05 L322.65 278.05 L322.8 278.06 L322.95 278.06 L323.1 278.07 L323.25 278.08 L323.4 278.09 L323.55 278.1 L323.7 278.1 L323.85 278.11 L324 278.11 L324.15 278.11 L324.3 278.1 L324.45 278.09 L324.6 278.09 L324.75 278.08 L324.9 278.07 L325.05 278.06 L325.2 278.05 L325.35 278.05 L325.5 278.04 L325.65 278.04 L325.8 278.02 L325.95 278.01 L326.1 277.99 L326.25 277.96 L326.4 277.94 L326.55 277.92 L326.7 277.9 L326.85 277.88 L327 277.88 L327.15 277.87 L327.3 277.86 L327.45 277.84 L327.6 277.82 L327.75 277.8 L327.9 277.78 L328.05 277.76 L328.2 277.74 L328.35 277.73 L328.5 277.72 L328.65 277.72 L328.8 277.72 L328.95 277.72 L329.1 277.72 L329.25 277.73 L329.4 277.73 L329.55 277.74 L329.7 277.74 L329.85 277.74 L330 277.74 L330.15 277.73 L330.3 277.73 L330.45 277.73 L330.6 277.74 L330.75 277.76 L330.9 277.79 L331.05 277.88 L331.2 278.05 L331.35 278.37 L331.5 278.91 L331.65 279.77 L331.8 280.99 L331.95 282.54 L332.1 284.27 L332.25 285.94 L332.4 287.24 L332.55 287.89 L332.7 287.76 L332.85 286.87 L333 285.41 L333.15 283.69 L333.3 282.01 L333.45 280.58 L333.6 279.5 L333.75 278.76 L333.9 278.32 L334.05 278.07 L334.2 277.95 L334.35 277.89 L334.5 277.86 L334.65 277.84 L334.8 277.79 L334.95 277.74 L335.1 277.67 L335.25 277.6 L335.4 277.53 L335.55 277.47 L335.7 277.42 L335.85 277.38 L336 277.36 L336.15 277.36 L336.3 277.38 L336.45 277.39 L336.6 277.42 L336.75 277.44 L336.9 277.47 L337.05 277.49 L337.2 277.51 L337.35 277.52 L337.5 277.53 L337.65 277.53 L337.8 277.52 L337.95 277.52 L338.1 277.52 L338.25 277.52 L338.4 277.52 L338.55 277.52 L338.7 277.52 L338.85 277.52 L339 277.52 L339.15 277.52 L339.3 277.53 L339.45 277.54 L339.6 277.55 L339.75 277.57 L339.9 277.59 L340.05 277.6 L340.2 277.61 L340.35 277.62 L340.5 277.63 L340.65 277.63 L340.8 277.64 L340.95 277.65 L341.1 277.66 L341.25 277.67 L341.4 277.69 L341.55 277.7 L341.7 277.71 L341.85 277.72 L342 277.72 L342.15 277.72 L342.3 277.72 L342.45 277.72 L342.6 277.71 L342.75 277.71 L342.9 277.7 L343.05 277.69 L343.2 277.69 L343.35 277.69 L343.5 277.69 L343.65 277.69 L343.8 277.69 L343.95 277.68 L344.1 277.67 L344.25 277.66 L344.4 277.66 L344.55 277.65 L344.7 277.64 L344.85 277.64 L345 277.64 L345.15 277.65 L345.3 277.65 L345.45 277.66 L345.6 277.68 L345.75 277.69 L345.9 277.7 L346.05 277.71 L346.2 277.72 L346.35 277.73 L346.5 277.74 L346.65 277.74 L346.8 277.74 L346.95 277.74 L347.1 277.73 L347.25 277.73 L347.4 277.72 L347.55 277.72 L347.7 277.72 L347.85 277.72 L348 277.72 L348.15 277.72 L348.3 277.73 L348.45 277.75 L348.6 277.76 L348.75 277.78 L348.9 277.79 L349.05 277.81 L349.2 277.82 L349.35 277.83 L349.5 277.83 L349.65 277.83 L349.8 277.83 L349.95 277.82 L350.1 277.81 L350.25 277.8 L350.4 277.79 L350.55 277.78 L350.7 277.77 L350.85 277.76 L351 277.76 L351.15 277.76 L351.3 277.76 L351.45 277.76 L351.6 277.76 L351.75 277.76 L351.9 277.76 L352.05 277.76 L352.2 277.75 L352.35 277.75 L352.5 277.75 L352.65 277.74 L352.8 277.73 L352.95 277.7 L353.1 277.67 L353.25 277.63 L353.4 277.6 L353.55 277.57 L353.7 277.54 L353.85 277.52 L354 277.51 L354.15 277.52 L354.3 277.54 L354.45 277.58 L354.6 277.62 L354.75 277.67 L354.9 277.71 L355.05 277.75 L355.2 277.79 L355.35 277.81 L355.5 277.82 L355.65 277.8 L355.8 277.78 L355.95 277.75 L356.1 277.71 L356.25 277.66 L356.4 277.62 L356.55 277.58 L356.7 277.54 L356.85 277.52 L357 277.51 L357.15 277.5 L357.3 277.51 L357.45 277.51 L357.6 277.52 L357.75 277.54 L357.9 277.55 L358.05 277.56 L358.2 277.57 L358.35 277.57 L358.5 277.57 L358.65 277.56 L358.8 277.57 L358.95 277.57 L359.1 277.58 L359.25 277.59 L359.4 277.6 L359.55 277.61 L359.7 277.61 L359.85 277.62 L360 277.61 L360.15 277.61 L360.3 277.61 L360.45 277.61 L360.6 277.61 L360.75 277.62 L360.9 277.62 L361.05 277.63 L361.2 277.63 L361.35 277.63 L361.5 277.62 L361.65 277.62 L361.8 277.61 L361.95 277.61 L362.1 277.6 L362.25 277.6 L362.4 277.6 L362.55 277.59 L362.7 277.59 L362.85 277.58 L363 277.58 L363.15 277.56 L363.3 277.51 L363.45 277.45 L363.6 277.38 L363.75 277.3 L363.9 277.23 L364.05 277.15 L364.2 277.09 L364.35 277.05 L364.5 277.03 L364.65 277.03 L364.8 277.04 L364.95 277.05 L365.1 277.07 L365.25 277.09 L365.4 277.11 L365.55 277.12 L365.7 277.14 L365.85 277.14 L366 277.14 L366.15 277.14 L366.3 277.14 L366.45 277.14 L366.6 277.13 L366.75 277.13 L366.9 277.13 L367.05 277.13 L367.2 277.13 L367.35 277.13 L367.5 277.14 L367.65 277.15 L367.8 277.17 L367.95 277.19 L368.1 277.23 L368.25 277.28 L368.4 277.34 L368.55 277.42 L368.7 277.52 L368.85 277.64 L369 277.79 L369.15 277.96 L369.3 278.15 L369.45 278.36 L369.6 278.6 L369.75 278.85 L369.9 279.12 L370.05 279.39 L370.2 279.66 L370.35 279.92 L370.5 280.16 L370.65 280.36 L370.8 280.53 L370.95 280.65 L371.1 280.71 L371.25 280.71 L371.4 280.65 L371.55 280.53 L371.7 280.36 L371.85 280.14 L372 279.88 L372.15 279.6 L372.3 279.29 L372.45 278.98 L372.6 278.68 L372.75 278.4 L372.9 278.14 L373.05 277.91 L373.2 277.72 L373.35 277.56 L373.5 277.44 L373.65 277.35 L373.8 277.29 L373.95 277.25 L374.1 277.23 L374.25 277.22 L374.4 277.21 L374.55 277.22 L374.7 277.22 L374.85 277.23 L375 277.23 L375.15 277.24 L375.3 277.27 L375.45 277.31 L375.6 277.36 L375.75 277.41 L375.9 277.47 L376.05 277.52 L376.2 277.56 L376.35 277.59 L376.5 277.6 L376.65 277.61 L376.8 277.6 L376.95 277.6 L377.1 277.59 L377.25 277.58 L377.4 277.57 L377.55 277.57 L377.7 277.56 L377.85 277.56 L378 277.57 L378.15 277.57 L378.3 277.57 L378.45 277.57 L378.6 277.56 L378.75 277.56 L378.9 277.57 L379.05 277.58 L379.2 277.6 L379.35 277.64 L379.5 277.7 L379.65 277.77 L379.8 277.85 L379.95 277.93 L380.1 278.03 L380.25 278.13 L380.4 278.24 L380.55 278.36 L380.7 278.48 L380.85 278.61 L381 278.73 L381.15 278.85 L381.3 278.98 L381.45 279.09 L381.6 279.19 L381.75 279.27 L381.9 279.32 L382.05 279.35 L382.2 279.36 L382.35 279.34 L382.5 279.29 L382.65 279.23 L382.8 279.17 L382.95 279.11 L383.1 279.06 L383.25 279.01 L383.4 278.97 L383.55 278.93 L383.7 278.9 L383.85 278.86 L384 278.82 L384.15 278.77 L384.3 278.7 L384.45 278.6 L384.6 278.5 L384.75 278.38 L384.9 278.25 L385.05 278.13 L385.2 278.01 L385.35 277.91 L385.5 277.82 L385.65 277.75 L385.8 277.69 L385.95 277.65 L386.1 277.61 L386.25 277.58 L386.4 277.56 L386.55 277.55 L386.7 277.54 L386.85 277.53 L387 277.52 L387.15 277.51 L387.3 277.52 L387.45 277.53 L387.6 277.55 L387.75 277.56 L387.9 277.58 L388.05 277.6 L388.2 277.61 L388.35 277.62 L388.5 277.62 L388.65 277.62 L388.8 277.61 L388.95 277.61 L389.1 277.61 L389.25 277.61 L389.4 277.61 L389.55 277.6 L389.7 277.6 L389.85 277.6 L390 277.59 L390.15 277.58 L390.3 277.56 L390.45 277.53 L390.6 277.5 L390.75 277.46 L390.9 277.42 L391.05 277.39 L391.2 277.36 L391.35 277.34 L391.5 277.33 L391.65 277.33 L391.8 277.35 L391.95 277.38 L392.1 277.43 L392.25 277.47 L392.4 277.52 L392.55 277.56 L392.7 277.59 L392.85 277.61 L393 277.61 L393.15 277.6 L393.3 277.57 L393.45 277.53 L393.6 277.48 L393.75 277.43 L393.9 277.37 L394.05 277.33 L394.2 277.28 L394.35 277.26 L394.5 277.24 L394.65 277.23 L394.8 277.23 L394.95 277.22 L395.1 277.21 L395.25 277.2 L395.4 277.19 L395.55 277.18 L395.7 277.17 L395.85 277.16 L396 277.15 L396.15 277.16 L396.3 277.18 L396.45 277.2 L396.6 277.24 L396.75 277.28 L396.9 277.32 L397.05 277.36 L397.2 277.39 L397.35 277.4 L397.5 277.41 L397.65 277.4 L397.8 277.37 L397.95 277.32 L398.1 277.27 L398.25 277.22 L398.4 277.17 L398.55 277.12 L398.7 277.08 L398.85 277.05 L399 277.04 L399.15 277.04 L399.3 277.06 L399.45 277.09 L399.6 277.12 L399.75 277.16 L399.9 277.2 L400.05 277.23 L400.2 277.26 L400.35 277.28 L400.5 277.29 L400.65 277.28 L400.8 277.27 L400.95 277.24 L401.1 277.21 L401.25 277.17 L401.4 277.14 L401.55 277.11 L401.7 277.08 L401.85 277.06 L402 277.06 L402.15 277.06 L402.3 277.08 L402.45 277.11 L402.6 277.13 L402.75 277.17 L402.9 277.2 L403.05 277.23 L403.2 277.25 L403.35 277.27 L403.5 277.28 L403.65 277.28 L403.8 277.27 L403.95 277.25 L404.1 277.24 L404.25 277.22 L404.4 277.2 L404.55 277.18 L404.7 277.16 L404.85 277.16 L405 277.16 L405.15 277.16 L405.3 277.17 L405.45 277.18 L405.6 277.19 L405.75 277.2 L405.9 277.22 L406.05 277.23 L406.2 277.24 L406.35 277.25 L406.5 277.25 L406.65 277.27 L406.8 277.29 L406.95 277.33 L407.1 277.37 L407.25 277.42 L407.4 277.47 L407.55 277.51 L407.7 277.55 L407.85 277.57 L408 277.59 L408.15 277.59 L408.3 277.57 L408.45 277.55 L408.6 277.52 L408.75 277.5 L408.9 277.47 L409.05 277.44 L409.2 277.42 L409.35 277.4 L409.5 277.4 L409.65 277.41 L409.8 277.41 L409.95 277.42 L410.1 277.42 L410.25 277.42 L410.4 277.42 L410.55 277.43 L410.7 277.43 L410.85 277.43 L411 277.44 L411.15 277.44 L411.3 277.46 L411.45 277.47 L411.6 277.49 L411.75 277.5 L411.9 277.52 L412.05 277.54 L412.2 277.55 L412.35 277.56 L412.5 277.57 L412.65 277.57 L412.8 277.56 L412.95 277.54 L413.1 277.52 L413.25 277.5 L413.4 277.48 L413.55 277.46 L413.7 277.44 L413.85 277.43 L414 277.43 L414.15 277.43 L414.3 277.42 L414.45 277.42 L414.6 277.41 L414.75 277.41 L414.9 277.4 L415.05 277.39 L415.2 277.39 L415.35 277.38 L415.5 277.38 L415.65 277.39 L415.8 277.39 L415.95 277.4 L416.1 277.42 L416.25 277.43 L416.4 277.45 L416.55 277.46 L416.7 277.47 L416.85 277.48 L417 277.48 L417.15 277.48 L417.3 277.47 L417.45 277.46 L417.6 277.45 L417.75 277.44 L417.9 277.43 L418.05 277.42 L418.2 277.41 L418.35 277.4 L418.5 277.4 L418.65 277.39 L418.8 277.39 L418.95 277.38 L419.1 277.37 L419.25 277.36 L419.4 277.35 L419.55 277.34 L419.7 277.33 L419.85 277.32 L420 277.32 L420.15 277.32 L420.3 277.35 L420.45 277.39 L420.6 277.43 L420.75 277.48 L420.9 277.54 L421.05 277.58 L421.2 277.62 L421.35 277.64 L421.5 277.65 L421.65 277.63 L421.8 277.59 L421.95 277.53 L422.1 277.46 L422.25 277.39 L422.4 277.31 L422.55 277.24 L422.7 277.19 L422.85 277.14 L423 277.13 L423.15 277.13 L423.3 277.15 L423.45 277.19 L423.6 277.24 L423.75 277.29 L423.9 277.34 L424.05 277.38 L424.2 277.42 L424.35 277.44 L424.5 277.45 L424.65 277.44 L424.8 277.44 L424.95 277.44 L425.1 277.45 L425.25 277.45 L425.4 277.45 L425.55 277.45 L425.7 277.45 L425.85 277.45 L426 277.45 L426.15 277.44 L426.3 277.42 L426.45 277.41 L426.6 277.39 L426.75 277.36 L426.9 277.34 L427.05 277.32 L427.2 277.3 L427.35 277.29 L427.5 277.28 L427.65 277.26 L427.8 277.23 L427.95 277.19 L428.1 277.14 L428.25 277.08 L428.4 277.03 L428.55 276.98 L428.7 276.94 L428.85 276.91 L429 276.89 L429.15 276.9 L429.3 276.91 L429.45 276.94 L429.6 276.97 L429.75 277 L429.9 277.03 L430.05 277.06 L430.2 277.09 L430.35 277.1 L430.5 277.11 L430.65 277.1 L430.8 277.08 L430.95 277.05 L431.1 277.01 L431.25 276.97 L431.4 276.94 L431.55 276.9 L431.7 276.87 L431.85 276.85 L432 276.84 L432.15 276.84 L432.3 276.86 L432.45 276.89 L432.6 276.92 L432.75 276.96 L432.9 277 L433.05 277.03 L433.2 277.06 L433.35 277.08 L433.5 277.08 L433.65 277.08 L433.8 277.07 L433.95 277.08 L434.1 277.08 L434.25 277.08 L434.4 277.08 L434.55 277.09 L434.7 277.09 L434.85 277.09 L435 277.09 L435.15 277.08 L435.3 277.06 L435.45 277.03 L435.6 276.99 L435.75 276.96 L435.9 276.92 L436.05 276.89 L436.2 276.86 L436.35 276.84 L436.5 276.83 L436.65 276.83 L436.8 276.82 L436.95 276.8 L437.1 276.79 L437.25 276.77 L437.4 276.75 L437.55 276.74 L437.7 276.72 L437.85 276.72 L438 276.71 L438.15 276.72 L438.3 276.74 L438.45 276.78 L438.6 276.82 L438.75 276.86 L438.9 276.9 L439.05 276.94 L439.2 276.98 L439.35 277 L439.5 277.02 L439.65 277.02 L439.8 277.01 L439.95 276.99 L440.1 276.97 L440.25 276.95 L440.4 276.93 L440.55 276.91 L440.7 276.91 L440.85 276.91 L441 276.93 L441.15 276.96 L441.3 277.01 L441.45 277.06 L441.6 277.13 L441.75 277.2 L441.9 277.29 L442.05 277.38 L442.2 277.48 L442.35 277.59 L442.5 277.7 L442.65 277.81 L442.8 277.94 L442.95 278.08 L443.1 278.22 L443.25 278.36 L443.4 278.52 L443.55 278.68 L443.7 278.86 L443.85 279.1 L444 279.41 L444.15 279.87 L444.3 280.57 L444.45 281.61 L444.6 283.1 L444.75 285.17 L444.9 287.92 L445.05 291.38 L445.2 295.51 L445.35 300.16 L445.5 305.05 L445.65 309.79 L445.8 313.94 L445.95 317.05 L446.1 318.77 L446.25 318.88 L446.4 317.35 L446.55 314.35 L446.7 310.2 L446.85 305.35 L447 300.25 L447.15 295.3 L447.3 290.82 L447.45 287 L447.6 283.93 L447.75 281.57 L447.9 279.86 L448.05 278.67 L448.2 277.88 L448.35 277.38 L448.5 277.07 L448.65 276.9 L448.8 276.83 L448.95 276.8 L449.1 276.81 L449.25 276.84 L449.4 276.88 L449.55 276.91 L449.7 276.94 L449.85 276.95 L450 276.96 L450.15 276.95 L450.3 276.94 L450.45 276.94 L450.6 276.93 L450.75 276.93 L450.9 276.93 L451.05 276.92 L451.2 276.92 L451.35 276.91 L451.5 276.91 L451.65 276.9 L451.8 276.88 L451.95 276.86 L452.1 276.84 L452.25 276.81 L452.4 276.79 L452.55 276.76 L452.7 276.74 L452.85 276.73 L453 276.72 L453.15 276.71 L453.3 276.69 L453.45 276.66 L453.6 276.63 L453.75 276.59 L453.9 276.56 L454.05 276.52 L454.2 276.49 L454.35 276.47 L454.5 276.47 L454.65 276.47 L454.8 276.47 L454.95 276.48 L455.1 276.49 L455.25 276.5 L455.4 276.51 L455.55 276.52 L455.7 276.53 L455.85 276.53 L456 276.54 L456.15 276.54 L456.3 276.55 L456.45 276.56 L456.6 276.57 L456.75 276.59 L456.9 276.6 L457.05 276.62 L457.2 276.63 L457.35 276.64 L457.5 276.64 L457.65 276.64 L457.8 276.65 L457.95 276.65 L458.1 276.66 L458.25 276.67 L458.4 276.68 L458.55 276.69 L458.7 276.69 L458.85 276.7 L459 276.7 L459.15 276.69 L459.3 276.67 L459.45 276.65 L459.6 276.62 L459.75 276.6 L459.9 276.59 L460.05 276.58 L460.2 276.58 L460.35 276.6 L460.5 276.62 L460.65 276.66 L460.8 276.72 L460.95 276.79 L461.1 276.87 L461.25 276.96 L461.4 277.05 L461.55 277.14 L461.7 277.22 L461.85 277.29 L462 277.34 L462.15 277.39 L462.3 277.44 L462.45 277.48 L462.6 277.53 L462.75 277.57 L462.9 277.62 L463.05 277.65 L463.2 277.69 L463.35 277.71 L463.5 277.74 L463.65 277.76 L463.8 277.77 L463.95 277.78 L464.1 277.79 L464.25 277.83 L464.4 277.88 L464.55 277.95 L464.7 278.03 L464.85 278.13 L465 278.24 L465.15 278.35 L465.3 278.48 L465.45 278.61 L465.6 278.74 L465.75 278.88 L465.9 279.02 L466.05 279.15 L466.2 279.29 L466.35 279.41 L466.5 279.54 L466.65 279.64 L466.8 279.71 L466.95 279.76 L467.1 279.78 L467.25 279.77 L467.4 279.75 L467.55 279.72 L467.7 279.68 L467.85 279.66 L468 279.68 L468.15 279.72 L468.3 279.79 L468.45 279.87 L468.6 279.97 L468.75 280.07 L468.9 280.18 L469.05 280.29 L469.2 280.39 L469.35 280.48 L469.5 280.56 L469.65 280.62 L469.8 280.67 L469.95 280.71 L470.1 280.73 L470.25 280.75 L470.4 280.76 L470.55 280.77 L470.7 280.78 L470.85 280.79 L471 280.81 L471.15 280.86 L471.3 280.96 L471.45 281.11 L471.6 281.32 L471.75 281.58 L471.9 281.89 L472.05 282.22 L472.2 282.54 L472.35 282.81 L472.5 282.98 L472.65 283.03 L472.8 282.99 L472.95 282.85 L473.1 282.65 L473.25 282.44 L473.4 282.23 L473.55 282.07 L473.7 281.94 L473.85 281.85 L474 281.81 L474.15 281.78 L474.3 281.77 L474.45 281.78 L474.6 281.84 L474.75 281.99 L474.9 282.31 L475.05 282.89 L475.2 283.88 L475.35 285.44 L475.5 287.74 L475.65 290.9 L475.8 294.98 L475.95 299.87 L476.1 305.31 L476.25 310.84 L476.4 315.88 L476.55 319.82 L476.7 322.12 L476.85 322.46 L477 320.81 L477.15 317.41 L477.3 312.78 L477.45 307.57 L477.6 302.44 L477.75 297.9 L477.9 294.24 L478.05 291.43 L478.2 289.29 L478.35 287.54 L478.5 286 L478.65 284.64 L478.8 283.5 L478.95 282.64 L479.1 282.08 L479.25 281.78 L479.4 281.65 L479.55 281.62 L479.7 281.63 L479.85 281.65 L480 281.67 L480.15 281.69 L480.3 281.76 L480.45 281.97 L480.6 282.46 L480.75 283.45 L480.9 285.13 L481.05 287.55 L481.2 290.46 L481.35 293.23 L481.5 295.05 L481.65 295.32 L481.8 293.93 L481.95 291.34 L482.1 288.35 L482.25 285.67 L482.4 283.69 L482.55 282.44 L482.7 281.77 L482.85 281.45 L483 281.31 L483.15 281.25 L483.3 281.21 L483.45 281.19 L483.6 281.17 L483.75 281.15 L483.9 281.13 L484.05 281.11 L484.2 281.11 L484.35 281.11 L484.5 281.14 L484.65 281.22 L484.8 281.4 L484.95 281.75 L485.1 282.41 L485.25 283.52 L485.4 285.27 L485.55 287.81 L485.7 291.18 L485.85 295.21 L486 299.54 L486.15 303.56 L486.3 306.62 L486.45 308.12 L486.6 307.78 L486.75 305.66 L486.9 302.17 L487.05 297.94 L487.2 293.64 L487.35 289.8 L487.5 286.73 L487.65 284.49 L487.8 282.99 L487.95 282.07 L488.1 281.55 L488.25 281.27 L488.4 281.13 L488.55 281.07 L488.7 281.02 L488.85 280.95 L489 280.85 L489.15 280.72 L489.3 280.58 L489.45 280.42 L489.6 280.25 L489.75 280.08 L489.9 279.92 L490.05 279.78 L490.2 279.66 L490.35 279.57 L490.5 279.53 L490.65 279.56 L490.8 279.67 L490.95 279.9 L491.1 280.34 L491.25 281.07 L491.4 282.06 L491.55 283.17 L491.7 284.12 L491.85 284.59 L492 284.4 L492.15 283.6 L492.3 282.44 L492.45 281.22 L492.6 280.19 L492.75 279.46 L492.9 279 L493.05 278.73 L493.2 278.57 L493.35 278.46 L493.5 278.37 L493.65 278.28 L493.8 278.21 L493.95 278.14 L494.1 278.09 L494.25 278.04 L494.4 277.99 L494.55 277.95 L494.7 277.92 L494.85 277.88 L495 277.85 L495.15 277.81 L495.3 277.76 L495.45 277.71 L495.6 277.65 L495.75 277.59 L495.9 277.53 L496.05 277.47 L496.2 277.41 L496.35 277.38 L496.5 277.35 L496.65 277.34 L496.8 277.33 L496.95 277.32 L497.1 277.3 L497.25 277.29 L497.4 277.27 L497.55 277.25 L497.7 277.24 L497.85 277.22 L498 277.2 L498.15 277.18 L498.3 277.18 L498.45 277.18 L498.6 277.19 L498.75 277.2 L498.9 277.21 L499.05 277.22 L499.2 277.22 L499.35 277.21 L499.5 277.2 L499.65 277.18 L499.8 277.16 L499.95 277.15 L500.1 277.14 L500.25 277.13 L500.4 277.12 L500.55 277.11 L500.7 277.1 L500.85 277.08 L501 277.07 L501.15 277.04 L501.3 277.01 L501.45 276.96 L501.6 276.91 L501.75 276.86 L501.9 276.81 L502.05 276.77 L502.2 276.73 L502.35 276.7 L502.5 276.69 L502.65 276.68 L502.8 276.68 L502.95 276.68 L503.1 276.69 L503.25 276.69 L503.4 276.7 L503.55 276.71 L503.7 276.72 L503.85 276.73 L504 276.74 L504.15 276.75 L504.3 276.75 L504.45 276.75 L504.6 276.75 L504.75 276.74 L504.9 276.74 L505.05 276.74 L505.2 276.74 L505.35 276.75 L505.5 276.76 L505.65 276.78 L505.8 276.8 L505.95 276.81 L506.1 276.83 L506.25 276.85 L506.4 276.86 L506.55 276.88 L506.7 276.9 L506.85 276.92 L507 276.94 L507.15 276.97 L507.3 277.01 L507.45 277.05 L507.6 277.11 L507.75 277.17 L507.9 277.25 L508.05 277.36 L508.2 277.5 L508.35 277.73 L508.5 278.07 L508.65 278.61 L508.8 279.39 L508.95 280.47 L509.1 281.82 L509.25 283.37 L509.4 284.98 L509.55 286.45 L509.7 287.55 L509.85 288.1 L510 288.02 L510.15 287.31 L510.3 286.11 L510.45 284.61 L510.6 283.05 L510.75 281.6 L510.9 280.38 L511.05 279.44 L511.2 278.78 L511.35 278.35 L511.5 278.09 L511.65 277.94 L511.8 277.85 L511.95 277.79 L512.1 277.75 L512.25 277.71 L512.4 277.68 L512.55 277.65 L512.7 277.62 L512.85 277.6 L513 277.6 L513.15 277.6 L513.3 277.59 L513.45 277.59 L513.6 277.58 L513.75 277.57 L513.9 277.55 L514.05 277.52 L514.2 277.49 L514.35 277.46 L514.5 277.42 L514.65 277.4 L514.8 277.39 L514.95 277.39 L515.1 277.4 L515.25 277.41 L515.4 277.43 L515.55 277.43 L515.7 277.43 L515.85 277.41 L516 277.38 L516.15 277.32 L516.3 277.27 L516.45 277.2 L516.6 277.14 L516.75 277.07 L516.9 277.01 L517.05 276.95 L517.2 276.91 L517.35 276.87 L517.5 276.86" fill="none" stroke="#e6a2e2" stroke-width="1.0" stroke-linejoin="round" />
<text x="308.4" y="275.8" font-size="7.6" fill="#333" text-anchor="start" font-weight="normal" stroke="#333" stroke-width="0.12" >MP</text>
<text x="308.4" y="284.6" font-size="7.6" fill="#333" text-anchor="start" font-weight="normal" stroke="#333" stroke-width="0.12" >601K</text>
<rect x="358.2" y="270.9" width="34.2" height="29.6" fill="none" stroke="#666" stroke-width="0.85" stroke-dasharray="1.8 1.6"/>
<text x="375.4" y="297.4" font-size="7.3" fill="#444" text-anchor="middle" font-weight="normal" stroke="#444" stroke-width="0.12" >HCl</text>
<text x="0" y="0" font-size="7.73" fill="#444" text-anchor="middle" font-weight="normal" stroke="#444" stroke-width="0.12"  transform="translate(333 297.2) scale(0.88 1)">3580</text>
<text x="0" y="0" font-size="7.73" fill="#444" text-anchor="middle" font-weight="normal" stroke="#444" stroke-width="0.12"  transform="translate(445.8 327.8) scale(0.88 1)">1760</text>
<text x="0" y="0" font-size="7.73" fill="#444" text-anchor="middle" font-weight="normal" stroke="#444" stroke-width="0.12"  transform="translate(476.8 332.6) scale(0.88 1)">1265</text>
<text x="0" y="0" font-size="7.73" fill="#444" text-anchor="middle" font-weight="normal" stroke="#444" stroke-width="0.12"  transform="translate(487.4 315.4) scale(0.88 1)">1103</text>
<text x="0" y="0" font-size="7.73" fill="#444" text-anchor="middle" font-weight="normal" stroke="#444" stroke-width="0.12"  transform="translate(509.3 295.8) scale(0.88 1)">732</text>
<path d="M308.1 345.93 L308.25 345.95 L308.4 345.98 L308.55 346.02 L308.7 346.07 L308.85 346.13 L309 346.18 L309.15 346.22 L309.3 346.24 L309.45 346.25 L309.6 346.26 L309.75 346.29 L309.9 346.32 L310.05 346.36 L310.2 346.39 L310.35 346.42 L310.5 346.45 L310.65 346.46 L310.8 346.46 L310.95 346.43 L311.1 346.39 L311.25 346.34 L311.4 346.28 L311.55 346.22 L311.7 346.17 L311.85 346.14 L312 346.13 L312.15 346.13 L312.3 346.14 L312.45 346.15 L312.6 346.16 L312.75 346.17 L312.9 346.18 L313.05 346.19 L313.2 346.19 L313.35 346.2 L313.5 346.2 L313.65 346.21 L313.8 346.21 L313.95 346.22 L314.1 346.22 L314.25 346.23 L314.4 346.23 L314.55 346.24 L314.7 346.25 L314.85 346.28 L315 346.32 L315.15 346.38 L315.3 346.43 L315.45 346.49 L315.6 346.54 L315.75 346.57 L315.9 346.59 L316.05 346.59 L316.2 346.57 L316.35 346.56 L316.5 346.53 L316.65 346.51 L316.8 346.49 L316.95 346.47 L317.1 346.46 L317.25 346.47 L317.4 346.48 L317.55 346.49 L317.7 346.51 L317.85 346.53 L318 346.55 L318.15 346.57 L318.3 346.58 L318.45 346.59 L318.6 346.59 L318.75 346.55 L318.9 346.49 L319.05 346.42 L319.2 346.34 L319.35 346.27 L319.5 346.2 L319.65 346.16 L319.8 346.15 L319.95 346.17 L320.1 346.21 L320.25 346.27 L320.4 346.35 L320.55 346.42 L320.7 346.49 L320.85 346.55 L321 346.59 L321.15 346.6 L321.3 346.59 L321.45 346.58 L321.6 346.55 L321.75 346.53 L321.9 346.51 L322.05 346.48 L322.2 346.47 L322.35 346.46 L322.5 346.46 L322.65 346.47 L322.8 346.46 L322.95 346.46 L323.1 346.46 L323.25 346.46 L323.4 346.46 L323.55 346.46 L323.7 346.46 L323.85 346.47 L324 346.5 L324.15 346.54 L324.3 346.59 L324.45 346.63 L324.6 346.67 L324.75 346.71 L324.9 346.73 L325.05 346.74 L325.2 346.74 L325.35 346.74 L325.5 346.73 L325.65 346.73 L325.8 346.72 L325.95 346.71 L326.1 346.71 L326.25 346.71 L326.4 346.71 L326.55 346.73 L326.7 346.74 L326.85 346.76 L327 346.78 L327.15 346.8 L327.3 346.82 L327.45 346.83 L327.6 346.83 L327.75 346.83 L327.9 346.82 L328.05 346.81 L328.2 346.79 L328.35 346.78 L328.5 346.76 L328.65 346.75 L328.8 346.74 L328.95 346.74 L329.1 346.75 L329.25 346.76 L329.4 346.78 L329.55 346.79 L329.7 346.81 L329.85 346.83 L330 346.84 L330.15 346.85 L330.3 346.84 L330.45 346.82 L330.6 346.79 L330.75 346.76 L330.9 346.75 L331.05 346.78 L331.2 346.87 L331.35 347.04 L331.5 347.31 L331.65 347.68 L331.8 348.11 L331.95 348.56 L332.1 348.96 L332.25 349.23 L332.4 349.33 L332.55 349.23 L332.7 348.96 L332.85 348.56 L333 348.11 L333.15 347.68 L333.3 347.32 L333.45 347.04 L333.6 346.84 L333.75 346.72 L333.9 346.64 L334.05 346.59 L334.2 346.56 L334.35 346.52 L334.5 346.47 L334.65 346.43 L334.8 346.38 L334.95 346.33 L335.1 346.29 L335.25 346.26 L335.4 346.24 L335.55 346.22 L335.7 346.18 L335.85 346.14 L336 346.1 L336.15 346.05 L336.3 346.01 L336.45 345.97 L336.6 345.95 L336.75 345.93 L336.9 345.94 L337.05 345.96 L337.2 345.99 L337.35 346.02 L337.5 346.06 L337.65 346.09 L337.8 346.11 L337.95 346.12 L338.1 346.11 L338.25 346.12 L338.4 346.13 L338.55 346.15 L338.7 346.17 L338.85 346.2 L339 346.22 L339.15 346.23 L339.3 346.23 L339.45 346.23 L339.6 346.23 L339.75 346.22 L339.9 346.22 L340.05 346.22 L340.2 346.22 L340.35 346.22 L340.5 346.22 L340.65 346.22 L340.8 346.2 L340.95 346.15 L341.1 346.08 L341.25 346 L341.4 345.93 L341.55 345.86 L341.7 345.81 L341.85 345.79 L342 345.79 L342.15 345.81 L342.3 345.83 L342.45 345.85 L342.6 345.88 L342.75 345.91 L342.9 345.94 L343.05 345.95 L343.2 345.96 L343.35 345.96 L343.5 345.96 L343.65 345.95 L343.8 345.94 L343.95 345.92 L344.1 345.91 L344.25 345.9 L344.4 345.9 L344.55 345.9 L344.7 345.91 L344.85 345.92 L345 345.94 L345.15 345.95 L345.3 345.97 L345.45 345.98 L345.6 346 L345.75 346 L345.9 346.02 L346.05 346.05 L346.2 346.1 L346.35 346.17 L346.5 346.24 L346.65 346.3 L346.8 346.36 L346.95 346.4 L347.1 346.42 L347.25 346.41 L347.4 346.39 L347.55 346.35 L347.7 346.3 L347.85 346.25 L348 346.2 L348.15 346.17 L348.3 346.14 L348.45 346.14 L348.6 346.15 L348.75 346.14 L348.9 346.14 L349.05 346.13 L349.2 346.13 L349.35 346.13 L349.5 346.12 L349.65 346.13 L349.8 346.13 L349.95 346.13 L350.1 346.14 L350.25 346.14 L350.4 346.14 L350.55 346.14 L350.7 346.14 L350.85 346.15 L351 346.15 L351.15 346.16 L351.3 346.18 L351.45 346.2 L351.6 346.22 L351.75 346.24 L351.9 346.26 L352.05 346.28 L352.2 346.29 L352.35 346.3 L352.5 346.31 L352.65 346.34 L352.8 346.36 L352.95 346.39 L353.1 346.42 L353.25 346.44 L353.4 346.47 L353.55 346.48 L353.7 346.48 L353.85 346.47 L354 346.45 L354.15 346.42 L354.3 346.39 L354.45 346.37 L354.6 346.34 L354.75 346.33 L354.9 346.32 L355.05 346.33 L355.2 346.32 L355.35 346.31 L355.5 346.3 L355.65 346.29 L355.8 346.28 L355.95 346.27 L356.1 346.26 L356.25 346.27 L356.4 346.27 L356.55 346.28 L356.7 346.28 L356.85 346.29 L357 346.3 L357.15 346.3 L357.3 346.31 L357.45 346.31 L357.6 346.32 L357.75 346.32 L357.9 346.32 L358.05 346.33 L358.2 346.34 L358.35 346.34 L358.5 346.35 L358.65 346.35 L358.8 346.35 L358.95 346.37 L359.1 346.41 L359.25 346.46 L359.4 346.53 L359.55 346.59 L359.7 346.66 L359.85 346.71 L360 346.74 L360.15 346.74 L360.3 346.72 L360.45 346.68 L360.6 346.62 L360.75 346.55 L360.9 346.49 L361.05 346.44 L361.2 346.4 L361.35 346.39 L361.5 346.41 L361.65 346.46 L361.8 346.52 L361.95 346.59 L362.1 346.67 L362.25 346.75 L362.4 346.81 L362.55 346.86 L362.7 346.89 L362.85 346.89 L363 346.87 L363.15 346.82 L363.3 346.77 L363.45 346.71 L363.6 346.65 L363.75 346.6 L363.9 346.58 L364.05 346.63 L364.2 346.74 L364.35 346.91 L364.5 347.12 L364.65 347.35 L364.8 347.6 L364.95 347.86 L365.1 348.1 L365.25 348.31 L365.4 348.49 L365.55 348.64 L365.7 348.75 L365.85 348.82 L366 348.86 L366.15 348.88 L366.3 348.88 L366.45 348.87 L366.6 348.87 L366.75 348.98 L366.9 349.16 L367.05 349.39 L367.2 349.66 L367.35 349.93 L367.5 350.19 L367.65 350.4 L367.8 350.56 L367.95 350.62 L368.1 350.67 L368.25 350.95 L368.4 351.42 L368.55 352.02 L368.7 352.71 L368.85 353.41 L369 354.09 L369.15 354.67 L369.3 355.11 L369.45 355.31 L369.6 355.31 L369.75 355.4 L369.9 355.56 L370.05 355.78 L370.2 356.05 L370.35 356.34 L370.5 356.64 L370.65 356.91 L370.8 357.13 L370.95 357.28 L371.1 357.32 L371.25 357.26 L371.4 357.08 L371.55 356.83 L371.7 356.5 L371.85 356.14 L372 355.77 L372.15 355.41 L372.3 355.09 L372.45 354.8 L372.6 354.57 L372.75 354.4 L372.9 354.31 L373.05 354.29 L373.2 354.24 L373.35 354.12 L373.5 353.97 L373.65 353.77 L373.8 353.53 L373.95 353.28 L374.1 353.01 L374.25 352.73 L374.4 352.46 L374.55 352.18 L374.7 351.9 L374.85 351.63 L375 351.38 L375.15 351.13 L375.3 350.92 L375.45 350.73 L375.6 350.57 L375.75 350.46 L375.9 350.39 L376.05 350.36 L376.2 350.31 L376.35 350.25 L376.5 350.17 L376.65 350.07 L376.8 349.95 L376.95 349.83 L377.1 349.7 L377.25 349.57 L377.4 349.45 L377.55 349.32 L377.7 349.18 L377.85 349.04 L378 348.89 L378.15 348.73 L378.3 348.56 L378.45 348.37 L378.6 348.18 L378.75 347.99 L378.9 347.8 L379.05 347.62 L379.2 347.44 L379.35 347.28 L379.5 347.14 L379.65 347.02 L379.8 346.91 L379.95 346.79 L380.1 346.69 L380.25 346.6 L380.4 346.53 L380.55 346.48 L380.7 346.45 L380.85 346.44 L381 346.44 L381.15 346.47 L381.3 346.51 L381.45 346.56 L381.6 346.61 L381.75 346.67 L381.9 346.71 L382.05 346.74 L382.2 346.75 L382.35 346.75 L382.5 346.73 L382.65 346.7 L382.8 346.67 L382.95 346.64 L383.1 346.61 L383.25 346.59 L383.4 346.57 L383.55 346.57 L383.7 346.59 L383.85 346.62 L384 346.67 L384.15 346.72 L384.3 346.77 L384.45 346.82 L384.6 346.85 L384.75 346.87 L384.9 346.87 L385.05 346.85 L385.2 346.82 L385.35 346.79 L385.5 346.76 L385.65 346.73 L385.8 346.7 L385.95 346.68 L386.1 346.67 L386.25 346.67 L386.4 346.68 L386.55 346.7 L386.7 346.72 L386.85 346.74 L387 346.76 L387.15 346.77 L387.3 346.78 L387.45 346.78 L387.6 346.75 L387.75 346.7 L387.9 346.64 L388.05 346.57 L388.2 346.5 L388.35 346.44 L388.5 346.39 L388.65 346.36 L388.8 346.36 L388.95 346.39 L389.1 346.43 L389.25 346.48 L389.4 346.54 L389.55 346.59 L389.7 346.64 L389.85 346.67 L390 346.68 L390.15 346.67 L390.3 346.67 L390.45 346.65 L390.6 346.64 L390.75 346.63 L390.9 346.61 L391.05 346.6 L391.2 346.6 L391.35 346.59 L391.5 346.6 L391.65 346.61 L391.8 346.63 L391.95 346.65 L392.1 346.67 L392.25 346.69 L392.4 346.7 L392.55 346.71 L392.7 346.71 L392.85 346.7 L393 346.7 L393.15 346.7 L393.3 346.7 L393.45 346.7 L393.6 346.7 L393.75 346.7 L393.9 346.7 L394.05 346.69 L394.2 346.67 L394.35 346.64 L394.5 346.6 L394.65 346.56 L394.8 346.53 L394.95 346.5 L395.1 346.48 L395.25 346.48 L395.4 346.47 L395.55 346.47 L395.7 346.48 L395.85 346.48 L396 346.48 L396.15 346.48 L396.3 346.48 L396.45 346.48 L396.6 346.48 L396.75 346.49 L396.9 346.5 L397.05 346.51 L397.2 346.53 L397.35 346.55 L397.5 346.56 L397.65 346.57 L397.8 346.57 L397.95 346.56 L398.1 346.53 L398.25 346.48 L398.4 346.43 L398.55 346.38 L398.7 346.33 L398.85 346.29 L399 346.27 L399.15 346.26 L399.3 346.27 L399.45 346.29 L399.6 346.31 L399.75 346.34 L399.9 346.37 L400.05 346.4 L400.2 346.42 L400.35 346.43 L400.5 346.43 L400.65 346.44 L400.8 346.46 L400.95 346.48 L401.1 346.51 L401.25 346.53 L401.4 346.56 L401.55 346.57 L401.7 346.58 L401.85 346.57 L402 346.56 L402.15 346.55 L402.3 346.53 L402.45 346.51 L402.6 346.49 L402.75 346.48 L402.9 346.47 L403.05 346.47 L403.2 346.47 L403.35 346.46 L403.5 346.46 L403.65 346.46 L403.8 346.45 L403.95 346.45 L404.1 346.45 L404.25 346.45 L404.4 346.45 L404.55 346.47 L404.7 346.49 L404.85 346.53 L405 346.56 L405.15 346.59 L405.3 346.62 L405.45 346.64 L405.6 346.65 L405.75 346.65 L405.9 346.66 L406.05 346.68 L406.2 346.69 L406.35 346.7 L406.5 346.72 L406.65 346.73 L406.8 346.74 L406.95 346.74 L407.1 346.71 L407.25 346.67 L407.4 346.6 L407.55 346.53 L407.7 346.46 L407.85 346.4 L408 346.35 L408.15 346.33 L408.3 346.33 L408.45 346.32 L408.6 346.31 L408.75 346.3 L408.9 346.28 L409.05 346.26 L409.2 346.25 L409.35 346.24 L409.5 346.24 L409.65 346.25 L409.8 346.29 L409.95 346.34 L410.1 346.39 L410.25 346.45 L410.4 346.51 L410.55 346.55 L410.7 346.58 L410.85 346.59 L411 346.57 L411.15 346.54 L411.3 346.5 L411.45 346.46 L411.6 346.41 L411.75 346.37 L411.9 346.35 L412.05 346.33 L412.2 346.34 L412.35 346.38 L412.5 346.45 L412.65 346.53 L412.8 346.62 L412.95 346.7 L413.1 346.78 L413.25 346.83 L413.4 346.85 L413.55 346.84 L413.7 346.82 L413.85 346.78 L414 346.73 L414.15 346.68 L414.3 346.64 L414.45 346.6 L414.6 346.58 L414.75 346.58 L414.9 346.59 L415.05 346.59 L415.2 346.6 L415.35 346.61 L415.5 346.62 L415.65 346.63 L415.8 346.63 L415.95 346.64 L416.1 346.65 L416.25 346.66 L416.4 346.69 L416.55 346.72 L416.7 346.75 L416.85 346.78 L417 346.81 L417.15 346.83 L417.3 346.84 L417.45 346.84 L417.6 346.85 L417.75 346.85 L417.9 346.86 L418.05 346.87 L418.2 346.88 L418.35 346.88 L418.5 346.89 L418.65 346.89 L418.8 346.87 L418.95 346.82 L419.1 346.76 L419.25 346.69 L419.4 346.61 L419.55 346.55 L419.7 346.5 L419.85 346.48 L420 346.48 L420.15 346.5 L420.3 346.53 L420.45 346.56 L420.6 346.6 L420.75 346.63 L420.9 346.66 L421.05 346.68 L421.2 346.69 L421.35 346.69 L421.5 346.67 L421.65 346.65 L421.8 346.63 L421.95 346.6 L422.1 346.58 L422.25 346.56 L422.4 346.55 L422.55 346.55 L422.7 346.56 L422.85 346.58 L423 346.61 L423.15 346.64 L423.3 346.67 L423.45 346.7 L423.6 346.72 L423.75 346.73 L423.9 346.73 L424.05 346.72 L424.2 346.69 L424.35 346.66 L424.5 346.63 L424.65 346.6 L424.8 346.57 L424.95 346.56 L425.1 346.55 L425.25 346.57 L425.4 346.61 L425.55 346.68 L425.7 346.76 L425.85 346.83 L426 346.91 L426.15 346.96 L426.3 347 L426.45 347.01 L426.6 346.99 L426.75 346.96 L426.9 346.91 L427.05 346.86 L427.2 346.81 L427.35 346.76 L427.5 346.73 L427.65 346.71 L427.8 346.71 L427.95 346.71 L428.1 346.71 L428.25 346.72 L428.4 346.72 L428.55 346.73 L428.7 346.73 L428.85 346.73 L429 346.73 L429.15 346.74 L429.3 346.77 L429.45 346.82 L429.6 346.87 L429.75 346.92 L429.9 346.97 L430.05 347.01 L430.2 347.03 L430.35 347.04 L430.5 347.03 L430.65 347.03 L430.8 347.02 L430.95 347.01 L431.1 347 L431.25 347 L431.4 346.99 L431.55 346.99 L431.7 346.98 L431.85 346.95 L432 346.91 L432.15 346.87 L432.3 346.81 L432.45 346.76 L432.6 346.72 L432.75 346.69 L432.9 346.67 L433.05 346.68 L433.2 346.68 L433.35 346.69 L433.5 346.71 L433.65 346.72 L433.8 346.73 L433.95 346.74 L434.1 346.75 L434.25 346.74 L434.4 346.75 L434.55 346.75 L434.7 346.76 L434.85 346.78 L435 346.79 L435.15 346.8 L435.3 346.81 L435.45 346.81 L435.6 346.8 L435.75 346.77 L435.9 346.73 L436.05 346.68 L436.2 346.63 L436.35 346.57 L436.5 346.53 L436.65 346.5 L436.8 346.48 L436.95 346.47 L437.1 346.47 L437.25 346.46 L437.4 346.45 L437.55 346.44 L437.7 346.43 L437.85 346.42 L438 346.41 L438.15 346.41 L438.3 346.43 L438.45 346.47 L438.6 346.53 L438.75 346.6 L438.9 346.67 L439.05 346.73 L439.2 346.78 L439.35 346.81 L439.5 346.8 L439.65 346.77 L439.8 346.71 L439.95 346.65 L440.1 346.58 L440.25 346.52 L440.4 346.47 L440.55 346.44 L440.7 346.44 L440.85 346.47 L441 346.52 L441.15 346.59 L441.3 346.67 L441.45 346.76 L441.6 346.85 L441.75 346.93 L441.9 347.01 L442.05 347.07 L442.2 347.13 L442.35 347.19 L442.5 347.27 L442.65 347.35 L442.8 347.44 L442.95 347.54 L443.1 347.66 L443.25 347.8 L443.4 347.97 L443.55 348.17 L443.7 348.44 L443.85 348.79 L444 349.24 L444.15 349.84 L444.3 350.59 L444.45 351.53 L444.6 352.65 L444.75 353.94 L444.9 355.35 L445.05 356.83 L445.2 358.29 L445.35 359.64 L445.5 360.79 L445.65 361.64 L445.8 362.12 L445.95 362.18 L446.1 361.84 L446.25 361.11 L446.4 360.07 L446.55 358.79 L446.7 357.37 L446.85 355.9 L447 354.46 L447.15 353.13 L447.3 351.93 L447.45 350.91 L447.6 350.07 L447.75 349.39 L447.9 348.86 L448.05 348.44 L448.2 348.12 L448.35 347.88 L448.5 347.68 L448.65 347.51 L448.8 347.33 L448.95 347.16 L449.1 346.98 L449.25 346.81 L449.4 346.66 L449.55 346.53 L449.7 346.42 L449.85 346.35 L450 346.32 L450.15 346.33 L450.3 346.35 L450.45 346.39 L450.6 346.44 L450.75 346.48 L450.9 346.5 L451.05 346.51 L451.2 346.48 L451.35 346.45 L451.5 346.41 L451.65 346.37 L451.8 346.33 L451.95 346.29 L452.1 346.26 L452.25 346.23 L452.4 346.22 L452.55 346.21 L452.7 346.18 L452.85 346.15 L453 346.11 L453.15 346.07 L453.3 346.03 L453.45 346 L453.6 345.98 L453.75 345.98 L453.9 345.97 L454.05 345.96 L454.2 345.95 L454.35 345.94 L454.5 345.93 L454.65 345.92 L454.8 345.91 L454.95 345.91 L455.1 345.92 L455.25 345.93 L455.4 345.93 L455.55 345.94 L455.7 345.95 L455.85 345.96 L456 345.97 L456.15 345.99 L456.3 346.01 L456.45 346.05 L456.6 346.11 L456.75 346.2 L456.9 346.3 L457.05 346.4 L457.2 346.49 L457.35 346.58 L457.5 346.64 L457.65 346.68 L457.8 346.71 L457.95 346.75 L458.1 346.78 L458.25 346.82 L458.4 346.86 L458.55 346.89 L458.7 346.93 L458.85 346.96 L459 346.99 L459.15 347 L459.3 346.99 L459.45 346.98 L459.6 346.96 L459.75 346.94 L459.9 346.93 L460.05 346.92 L460.2 346.94 L460.35 346.97 L460.5 346.98 L460.65 346.99 L460.8 347 L460.95 347.01 L461.1 347.01 L461.25 347.02 L461.4 347.03 L461.55 347.04 L461.7 347.05 L461.85 347.06 L462 347.06 L462.15 347.06 L462.3 347.06 L462.45 347.05 L462.6 347.05 L462.75 347.04 L462.9 347.05 L463.05 347.07 L463.2 347.1 L463.35 347.14 L463.5 347.18 L463.65 347.23 L463.8 347.27 L463.95 347.3 L464.1 347.32 L464.25 347.34 L464.4 347.35 L464.55 347.36 L464.7 347.36 L464.85 347.37 L465 347.38 L465.15 347.4 L465.3 347.42 L465.45 347.44 L465.6 347.46 L465.75 347.47 L465.9 347.47 L466.05 347.48 L466.2 347.48 L466.35 347.49 L466.5 347.5 L466.65 347.52 L466.8 347.56 L466.95 347.6 L467.1 347.65 L467.25 347.71 L467.4 347.77 L467.55 347.83 L467.7 347.88 L467.85 347.93 L468 347.97 L468.15 348.01 L468.3 348.08 L468.45 348.16 L468.6 348.24 L468.75 348.33 L468.9 348.41 L469.05 348.48 L469.2 348.54 L469.35 348.58 L469.5 348.58 L469.65 348.56 L469.8 348.52 L469.95 348.47 L470.1 348.43 L470.25 348.39 L470.4 348.36 L470.55 348.36 L470.7 348.39 L470.85 348.43 L471 348.48 L471.15 348.53 L471.3 348.59 L471.45 348.65 L471.6 348.69 L471.75 348.73 L471.9 348.76 L472.05 348.55 L472.2 348.57 L472.35 348.62 L472.5 348.69 L472.65 348.76 L472.8 348.84 L472.95 348.9 L473.1 348.96 L473.25 348.99 L473.4 349 L473.55 349.03 L473.7 349.17 L473.85 349.38 L474 349.66 L474.15 349.97 L474.3 350.29 L474.45 350.61 L474.6 350.91 L474.75 351.13 L474.9 351.25 L475.05 351.28 L475.2 351.46 L475.35 351.83 L475.5 352.35 L475.65 352.96 L475.8 353.62 L475.95 354.29 L476.1 354.91 L476.25 355.44 L476.4 355.83 L476.55 356.02 L476.7 355.98 L476.85 355.7 L477 355.29 L477.15 354.85 L477.3 354.47 L477.45 354.27 L477.6 354.22 L477.75 354.06 L477.9 353.82 L478.05 353.59 L478.2 353.42 L478.35 353.4 L478.5 353.52 L478.65 353.77 L478.8 354.08 L478.95 354.39 L479.1 354.63 L479.25 354.76 L479.4 354.96 L479.55 355.23 L479.7 355.5 L479.85 355.7 L480 355.78 L480.15 355.84 L480.3 356.04 L480.45 356.3 L480.6 356.57 L480.75 356.82 L480.9 356.98 L481.05 357.02 L481.2 357.13 L481.35 357.31 L481.5 357.54 L481.65 357.76 L481.8 357.94 L481.95 358.03 L482.1 358 L482.25 357.87 L482.4 357.67 L482.55 357.46 L482.7 357.27 L482.85 357.13 L483 357.09 L483.15 357.12 L483.3 357.17 L483.45 357.22 L483.6 357.27 L483.75 357.3 L483.9 357.29 L484.05 357.25 L484.2 357.3 L484.35 357.44 L484.5 357.62 L484.65 357.82 L484.8 357.99 L484.95 358.09 L485.1 358.14 L485.25 358.34 L485.4 358.64 L485.55 358.99 L485.7 359.32 L485.85 359.56 L486 359.65 L486.15 359.99 L486.3 360.83 L486.45 361.88 L486.6 362.86 L486.75 363.45 L486.9 363.78 L487.05 364.8 L487.2 366.22 L487.35 367.63 L487.5 368.6 L487.65 368.78 L487.8 368.24 L487.95 367.31 L488.1 366.29 L488.25 365.46 L488.4 365.1 L488.55 363.52 L488.7 360.07 L488.85 356.63 L489 355.08 L489.15 354.19 L489.3 352.1 L489.45 349.7 L489.6 347.92 L489.75 347.52 L489.9 347.5 L490.05 347.43 L490.2 347.34 L490.35 347.25 L490.5 347.18 L490.65 347.39 L490.8 347.32 L490.95 347.25 L491.1 347.19 L491.25 347.14 L491.4 347.11 L491.55 347.1 L491.7 347.08 L491.85 347.07 L492 347.06 L492.15 347.04 L492.3 347.03 L492.45 347.01 L492.6 347 L492.75 346.98 L492.9 346.97 L493.05 346.97 L493.2 346.98 L493.35 346.99 L493.5 347.01 L493.65 347.02 L493.8 347.02 L493.95 347.02 L494.1 347.01 L494.25 347 L494.4 347 L494.55 347 L494.7 347.01 L494.85 347.02 L495 347.03 L495.15 347.03 L495.3 347.03 L495.45 347.01 L495.6 346.97 L495.75 346.93 L495.9 346.88 L496.05 346.84 L496.2 346.81 L496.35 346.81 L496.5 346.83 L496.65 346.89 L496.8 346.97 L496.95 347.05 L497.1 347.14 L497.25 347.24 L497.4 347.34 L497.55 347.44 L497.7 347.54 L497.85 347.64 L498 347.74 L498.15 347.82 L498.3 347.9 L498.45 347.97 L498.6 348.03 L498.75 348.1 L498.9 348.16 L499.05 348.22 L499.2 348.29 L499.35 348.37 L499.5 348.47 L499.65 348.57 L499.8 348.67 L499.95 348.76 L500.1 348.84 L500.25 348.9 L500.4 348.93 L500.55 348.93 L500.7 348.92 L500.85 348.91 L501 348.89 L501.15 348.87 L501.3 348.83 L501.45 348.78 L501.6 348.72 L501.75 348.63 L501.9 348.52 L502.05 348.39 L502.2 348.25 L502.35 348.09 L502.5 347.93 L502.65 347.77 L502.8 347.61 L502.95 347.46 L503.1 347.33 L503.25 347.19 L503.4 347.04 L503.55 346.89 L503.7 346.73 L503.85 346.58 L504 346.43 L504.15 346.3 L504.3 346.2 L504.45 346.11 L504.6 346.07 L504.75 346.05 L504.9 346.05 L505.05 346.07 L505.2 346.11 L505.35 346.16 L505.5 346.2 L505.65 346.24 L505.8 346.27 L505.95 346.31 L506.1 346.35 L506.25 346.4 L506.4 346.46 L506.55 346.52 L506.7 346.59 L506.85 346.66 L507 346.75 L507.15 346.82 L507.3 346.87 L507.45 346.92 L507.6 346.95 L507.75 346.99 L507.9 347.03 L508.05 347.08 L508.2 347.14 L508.35 347.23 L508.5 347.34 L508.65 347.48 L508.8 347.63 L508.95 347.78 L509.1 347.93 L509.25 348.07 L509.4 348.18 L509.55 348.25 L509.7 348.29 L509.85 348.3 L510 348.3 L510.15 348.29 L510.3 348.26 L510.45 348.21 L510.6 348.15 L510.75 348.08 L510.9 348.01 L511.05 347.93 L511.2 347.83 L511.35 347.72 L511.5 347.6 L511.65 347.48 L511.8 347.35 L511.95 347.23 L512.1 347.12 L512.25 347.01 L512.4 346.9 L512.55 346.8 L512.7 346.7 L512.85 346.61 L513 346.53 L513.15 346.47 L513.3 346.43 L513.45 346.41 L513.6 346.4 L513.75 346.39 L513.9 346.38 L514.05 346.35 L514.2 346.33 L514.35 346.3 L514.5 346.28 L514.65 346.26 L514.8 346.25 L514.95 346.25 L515.1 346.25 L515.25 346.27 L515.4 346.29 L515.55 346.31 L515.7 346.33 L515.85 346.34 L516 346.35 L516.15 346.34 L516.3 346.32 L516.45 346.31 L516.6 346.29 L516.75 346.27 L516.9 346.26 L517.05 346.24 L517.2 346.23 L517.35 346.22 L517.5 346.22" fill="none" stroke="#b868be" stroke-width="1.05" stroke-linejoin="round" />
<text x="308.4" y="343.6" font-size="7.6" fill="#333" text-anchor="start" font-weight="normal" stroke="#333" stroke-width="0.12" >MP</text>
<text x="308.4" y="353.5" font-size="7.6" fill="#333" text-anchor="start" font-weight="normal" stroke="#333" stroke-width="0.12" >728K</text>
<text x="0" y="0" font-size="7.73" fill="#444" text-anchor="middle" font-weight="normal" stroke="#444" stroke-width="0.12"  transform="translate(340.5 366.6) scale(0.88 1)">3580</text>
<line x1="333.2" y1="349.8" x2="338.3" y2="360.3" stroke="#888" stroke-width="0.6"/>
<text x="0" y="0" font-size="7.73" fill="#444" text-anchor="middle" font-weight="normal" stroke="#444" stroke-width="0.12"  transform="translate(368.6 366) scale(0.88 1)">2962</text>
<text x="0" y="0" font-size="7.73" fill="#444" text-anchor="middle" font-weight="normal" stroke="#444" stroke-width="0.12"  transform="translate(445.8 370.8) scale(0.88 1)">1760</text>
<text x="0" y="0" font-size="7.73" fill="#444" text-anchor="middle" font-weight="normal" stroke="#444" stroke-width="0.12"  transform="translate(463.5 365.4) scale(0.88 1)">1265</text>
<line x1="470.6" y1="362" x2="476.6" y2="357.3" stroke="#555" stroke-width="0.6"/>
<text x="0" y="0" font-size="7.73" fill="#444" text-anchor="middle" font-weight="normal" stroke="#444" stroke-width="0.12"  transform="translate(473 377.2) scale(0.88 1)">1180</text>
<line x1="482" y1="358.3" x2="474.3" y2="370.5" stroke="#555" stroke-width="0.6"/>
<text x="0" y="0" font-size="7.73" fill="#444" text-anchor="middle" font-weight="normal" stroke="#444" stroke-width="0.12"  transform="translate(497.6 381) scale(0.88 1)">1083</text>
<line x1="488" y1="368.8" x2="495.5" y2="374" stroke="#555" stroke-width="0.6"/>
<path d="M308.1 392.13 L308.22 392.17 L308.34 392.22 L308.46 392.26 L308.58 392.3 L308.7 392.33 L308.82 392.36 L308.94 392.37 L309.06 392.37 L309.18 392.36 L309.3 392.35 L309.42 392.32 L309.54 392.3 L309.66 392.27 L309.78 392.23 L309.9 392.2 L310.02 392.17 L310.14 392.15 L310.26 392.13 L310.38 392.12 L310.5 392.11 L310.62 392.12 L310.74 392.13 L310.86 392.16 L310.98 392.18 L311.1 392.22 L311.22 392.25 L311.34 392.29 L311.46 392.32 L311.58 392.35 L311.7 392.38 L311.82 392.4 L311.94 392.41 L312.06 392.41 L312.18 392.4 L312.3 392.38 L312.42 392.36 L312.54 392.33 L312.66 392.29 L312.78 392.26 L312.9 392.22 L313.02 392.19 L313.14 392.16 L313.26 392.14 L313.38 392.13 L313.5 392.12 L313.62 392.13 L313.74 392.14 L313.86 392.16 L313.98 392.19 L314.1 392.22 L314.22 392.25 L314.34 392.28 L314.46 392.31 L314.58 392.34 L314.7 392.36 L314.82 392.38 L314.94 392.39 L315.06 392.39 L315.18 392.38 L315.3 392.36 L315.42 392.34 L315.54 392.3 L315.66 392.27 L315.78 392.23 L315.9 392.19 L316.02 392.16 L316.14 392.13 L316.26 392.1 L316.38 392.09 L316.5 392.08 L316.62 392.09 L316.74 392.11 L316.86 392.14 L316.98 392.17 L317.1 392.21 L317.22 392.26 L317.34 392.3 L317.46 392.34 L317.58 392.38 L317.7 392.41 L317.82 392.43 L317.94 392.45 L318.06 392.45 L318.18 392.45 L318.3 392.45 L318.42 392.46 L318.54 392.46 L318.66 392.47 L318.78 392.47 L318.9 392.48 L319.02 392.48 L319.14 392.49 L319.26 392.49 L319.38 392.5 L319.5 392.5 L319.62 392.5 L319.74 392.5 L319.86 392.49 L319.98 392.49 L320.1 392.49 L320.22 392.48 L320.34 392.48 L320.46 392.47 L320.58 392.47 L320.7 392.46 L320.82 392.46 L320.94 392.46 L321.06 392.46 L321.18 392.46 L321.3 392.46 L321.42 392.45 L321.54 392.44 L321.66 392.43 L321.78 392.42 L321.9 392.41 L322.02 392.4 L322.14 392.39 L322.26 392.39 L322.38 392.38 L322.5 392.38 L322.62 392.39 L322.74 392.39 L322.86 392.4 L322.98 392.41 L323.1 392.42 L323.22 392.44 L323.34 392.45 L323.46 392.46 L323.58 392.48 L323.7 392.49 L323.82 392.49 L323.94 392.5 L324.06 392.5 L324.18 392.5 L324.3 392.5 L324.42 392.5 L324.54 392.51 L324.66 392.51 L324.78 392.51 L324.9 392.51 L325.02 392.52 L325.14 392.52 L325.26 392.52 L325.38 392.52 L325.5 392.52 L325.62 392.52 L325.74 392.53 L325.86 392.53 L325.98 392.53 L326.1 392.54 L326.22 392.54 L326.34 392.54 L326.46 392.55 L326.58 392.55 L326.7 392.56 L326.82 392.56 L326.94 392.56 L327.06 392.56 L327.18 392.55 L327.3 392.53 L327.42 392.5 L327.54 392.46 L327.66 392.43 L327.78 392.38 L327.9 392.35 L328.02 392.31 L328.14 392.28 L328.26 392.25 L328.38 392.23 L328.5 392.23 L328.62 392.24 L328.74 392.25 L328.86 392.27 L328.98 392.3 L329.1 392.34 L329.22 392.37 L329.34 392.41 L329.46 392.44 L329.58 392.47 L329.7 392.5 L329.82 392.52 L329.94 392.53 L330.06 392.53 L330.18 392.53 L330.3 392.53 L330.42 392.53 L330.54 392.52 L330.66 392.52 L330.78 392.52 L330.9 392.51 L331.02 392.51 L331.14 392.51 L331.26 392.51 L331.38 392.51 L331.5 392.51 L331.62 392.5 L331.74 392.49 L331.86 392.48 L331.98 392.46 L332.1 392.43 L332.22 392.41 L332.34 392.38 L332.46 392.36 L332.58 392.34 L332.7 392.32 L332.82 392.31 L332.94 392.3 L333.06 392.3 L333.18 392.3 L333.3 392.29 L333.42 392.28 L333.54 392.28 L333.66 392.27 L333.78 392.26 L333.9 392.25 L334.02 392.24 L334.14 392.23 L334.26 392.22 L334.38 392.22 L334.5 392.22 L334.62 392.23 L334.74 392.24 L334.86 392.27 L334.98 392.31 L335.1 392.35 L335.22 392.39 L335.34 392.44 L335.46 392.48 L335.58 392.52 L335.7 392.55 L335.82 392.58 L335.94 392.59 L336.06 392.59 L336.18 392.58 L336.3 392.57 L336.42 392.55 L336.54 392.53 L336.66 392.51 L336.78 392.48 L336.9 392.46 L337.02 392.43 L337.14 392.41 L337.26 392.4 L337.38 392.39 L337.5 392.38 L337.62 392.38 L337.74 392.39 L337.86 392.39 L337.98 392.39 L338.1 392.39 L338.22 392.4 L338.34 392.4 L338.46 392.41 L338.58 392.41 L338.7 392.41 L338.82 392.41 L338.94 392.41 L339.06 392.42 L339.18 392.42 L339.3 392.43 L339.42 392.45 L339.54 392.47 L339.66 392.49 L339.78 392.51 L339.9 392.53 L340.02 392.55 L340.14 392.57 L340.26 392.58 L340.38 392.59 L340.5 392.59 L340.62 392.59 L340.74 392.58 L340.86 392.56 L340.98 392.54 L341.1 392.52 L341.22 392.5 L341.34 392.47 L341.46 392.45 L341.58 392.43 L341.7 392.41 L341.82 392.4 L341.94 392.39 L342.06 392.39 L342.18 392.39 L342.3 392.38 L342.42 392.37 L342.54 392.36 L342.66 392.34 L342.78 392.33 L342.9 392.32 L343.02 392.3 L343.14 392.29 L343.26 392.28 L343.38 392.28 L343.5 392.28 L343.62 392.28 L343.74 392.29 L343.86 392.31 L343.98 392.33 L344.1 392.35 L344.22 392.38 L344.34 392.4 L344.46 392.43 L344.58 392.45 L344.7 392.47 L344.82 392.48 L344.94 392.49 L345.06 392.49 L345.18 392.49 L345.3 392.48 L345.42 392.48 L345.54 392.47 L345.66 392.46 L345.78 392.45 L345.9 392.44 L346.02 392.43 L346.14 392.43 L346.26 392.42 L346.38 392.42 L346.5 392.42 L346.62 392.41 L346.74 392.41 L346.86 392.4 L346.98 392.38 L347.1 392.37 L347.22 392.36 L347.34 392.34 L347.46 392.32 L347.58 392.31 L347.7 392.3 L347.82 392.29 L347.94 392.29 L348.06 392.29 L348.18 392.29 L348.3 392.31 L348.42 392.33 L348.54 392.35 L348.66 392.37 L348.78 392.4 L348.9 392.42 L349.02 392.45 L349.14 392.47 L349.26 392.48 L349.38 392.49 L349.5 392.5 L349.62 392.5 L349.74 392.5 L349.86 392.51 L349.98 392.52 L350.1 392.53 L350.22 392.55 L350.34 392.56 L350.46 392.57 L350.58 392.58 L350.7 392.59 L350.82 392.6 L350.94 392.6 L351.06 392.6 L351.18 392.59 L351.3 392.57 L351.42 392.54 L351.54 392.5 L351.66 392.47 L351.78 392.43 L351.9 392.39 L352.02 392.35 L352.14 392.32 L352.26 392.3 L352.38 392.28 L352.5 392.27 L352.62 392.28 L352.74 392.29 L352.86 392.31 L352.98 392.34 L353.1 392.37 L353.22 392.41 L353.34 392.44 L353.46 392.47 L353.58 392.5 L353.7 392.53 L353.82 392.55 L353.94 392.56 L354.06 392.56 L354.18 392.56 L354.3 392.55 L354.42 392.55 L354.54 392.55 L354.66 392.54 L354.78 392.54 L354.9 392.54 L355.02 392.53 L355.14 392.53 L355.26 392.53 L355.38 392.53 L355.5 392.53 L355.62 392.52 L355.74 392.52 L355.86 392.51 L355.98 392.5 L356.1 392.49 L356.22 392.47 L356.34 392.46 L356.46 392.45 L356.58 392.43 L356.7 392.42 L356.82 392.42 L356.94 392.41 L357.06 392.41 L357.18 392.4 L357.3 392.39 L357.42 392.38 L357.54 392.36 L357.66 392.34 L357.78 392.32 L357.9 392.3 L358.02 392.29 L358.14 392.27 L358.26 392.26 L358.38 392.25 L358.5 392.25 L358.62 392.25 L358.74 392.26 L358.86 392.28 L358.98 392.3 L359.1 392.33 L359.22 392.36 L359.34 392.39 L359.46 392.41 L359.58 392.44 L359.7 392.46 L359.82 392.47 L359.94 392.48 L360.06 392.48 L360.18 392.47 L360.3 392.46 L360.42 392.45 L360.54 392.43 L360.66 392.4 L360.78 392.38 L360.9 392.36 L361.02 392.34 L361.14 392.32 L361.26 392.3 L361.38 392.29 L361.5 392.29 L361.62 392.29 L361.74 392.29 L361.86 392.29 L361.98 392.29 L362.1 392.29 L362.22 392.28 L362.34 392.28 L362.46 392.28 L362.58 392.28 L362.7 392.28 L362.82 392.28 L362.94 392.34 L363.06 392.47 L363.18 392.67 L363.3 392.91 L363.42 393.17 L363.54 393.44 L363.66 393.69 L363.78 393.89 L363.9 394.04 L364.02 394.11 L364.14 394.2 L364.26 394.38 L364.38 394.63 L364.5 394.9 L364.62 395.2 L364.74 395.48 L364.86 395.75 L364.98 395.97 L365.1 396.13 L365.22 396.22 L365.34 396.2 L365.46 396.13 L365.58 396.03 L365.7 395.9 L365.82 395.78 L365.94 395.66 L366.06 395.57 L366.18 395.51 L366.3 395.48 L366.42 395.54 L366.54 395.71 L366.66 395.97 L366.78 396.28 L366.9 396.63 L367.02 396.97 L367.14 397.29 L367.26 397.55 L367.38 397.73 L367.5 397.8 L367.62 398.27 L367.74 399.45 L367.86 400.98 L367.98 402.48 L368.1 403.6 L368.22 403.99 L368.34 404.7 L368.46 406.25 L368.58 408.43 L368.7 411.06 L368.82 413.93 L368.94 416.84 L369.06 419.58 L369.18 421.98 L369.3 423.84 L369.42 424.96 L369.54 425.26 L369.66 426.25 L369.78 428.19 L369.9 430.87 L370.02 434.03 L370.14 437.45 L370.26 440.89 L370.38 444.1 L370.5 446.87 L370.62 448.94 L370.74 450.07 L370.86 450.4 L370.98 451.81 L371.1 454.27 L371.22 457.4 L371.34 460.79 L371.46 464.06 L371.58 466.79 L371.7 468.6 L371.82 469.1 L371.94 468.47 L372.06 467.1 L372.18 465.19 L372.3 462.97 L372.42 460.66 L372.54 458.48 L372.66 456.66 L372.78 455.4 L372.9 454.93 L373.02 454.72 L373.14 454.24 L373.26 453.74 L373.38 453.46 L373.5 454.28 L373.62 456.97 L373.74 460.64 L373.86 464.38 L373.98 467.3 L374.1 468.48 L374.22 467.98 L374.34 466.65 L374.46 464.81 L374.58 462.73 L374.7 460.74 L374.82 459.11 L374.94 458.16 L375.06 457.94 L375.18 457.31 L375.3 456.16 L375.42 454.6 L375.54 452.73 L375.66 450.68 L375.78 448.54 L375.9 446.43 L376.02 444.45 L376.14 442.72 L376.26 441.35 L376.38 440.45 L376.5 440.13 L376.62 439.86 L376.74 439.11 L376.86 437.93 L376.98 436.41 L377.1 434.6 L377.22 432.57 L377.34 430.38 L377.46 428.12 L377.58 425.83 L377.7 423.59 L377.82 421.48 L377.94 419.54 L378.06 417.86 L378.18 416.48 L378.3 415.49 L378.42 414.93 L378.54 414.81 L378.66 414.35 L378.78 413.37 L378.9 411.98 L379.02 410.28 L379.14 408.38 L379.26 406.38 L379.38 404.38 L379.5 402.48 L379.62 400.79 L379.74 399.41 L379.86 398.46 L379.98 398.03 L380.1 397.94 L380.22 397.68 L380.34 397.3 L380.46 396.82 L380.58 396.27 L380.7 395.69 L380.82 395.11 L380.94 394.58 L381.06 394.12 L381.18 393.77 L381.3 393.57 L381.42 393.53 L381.54 393.55 L381.66 393.55 L381.78 393.54 L381.9 393.51 L382.02 393.46 L382.14 393.41 L382.26 393.35 L382.38 393.28 L382.5 393.2 L382.62 393.12 L382.74 393.05 L382.86 392.99 L382.98 392.95 L383.1 392.92 L383.22 392.89 L383.34 392.86 L383.46 392.83 L383.58 392.81 L383.7 392.78 L383.82 392.77 L383.94 392.76 L384.06 392.76 L384.18 392.77 L384.3 392.78 L384.42 392.81 L384.54 392.83 L384.66 392.86 L384.78 392.89 L384.9 392.92 L385.02 392.95 L385.14 392.98 L385.26 393 L385.38 393.01 L385.5 393.01 L385.62 393.01 L385.74 393 L385.86 392.98 L385.98 392.95 L386.1 392.92 L386.22 392.89 L386.34 392.86 L386.46 392.83 L386.58 392.81 L386.7 392.78 L386.82 392.77 L386.94 392.76 L387.06 392.76 L387.18 392.76 L387.3 392.76 L387.42 392.77 L387.54 392.78 L387.66 392.79 L387.78 392.8 L387.9 392.81 L388.02 392.82 L388.14 392.83 L388.26 392.84 L388.38 392.84 L388.5 392.84 L388.62 392.83 L388.74 392.82 L388.86 392.79 L388.98 392.76 L389.1 392.73 L389.22 392.69 L389.34 392.65 L389.46 392.61 L389.58 392.58 L389.7 392.55 L389.82 392.53 L389.94 392.51 L390.06 392.51 L390.18 392.51 L390.3 392.52 L390.42 392.52 L390.54 392.53 L390.66 392.54 L390.78 392.54 L390.9 392.55 L391.02 392.56 L391.14 392.57 L391.26 392.57 L391.38 392.57 L391.5 392.57 L391.62 392.57 L391.74 392.57 L391.86 392.57 L391.98 392.57 L392.1 392.58 L392.22 392.58 L392.34 392.58 L392.46 392.59 L392.58 392.59 L392.7 392.59 L392.82 392.59 L392.94 392.59 L393.06 392.59 L393.18 392.59 L393.3 392.59 L393.42 392.59 L393.54 392.59 L393.66 392.59 L393.78 392.59 L393.9 392.6 L394.02 392.6 L394.14 392.6 L394.26 392.6 L394.38 392.6 L394.5 392.6 L394.62 392.59 L394.74 392.59 L394.86 392.57 L394.98 392.56 L395.1 392.55 L395.22 392.54 L395.34 392.52 L395.46 392.51 L395.58 392.49 L395.7 392.48 L395.82 392.47 L395.94 392.47 L396.06 392.47 L396.18 392.47 L396.3 392.47 L396.42 392.48 L396.54 392.49 L396.66 392.5 L396.78 392.51 L396.9 392.53 L397.02 392.54 L397.14 392.55 L397.26 392.55 L397.38 392.56 L397.5 392.56 L397.62 392.55 L397.74 392.54 L397.86 392.52 L397.98 392.5 L398.1 392.48 L398.22 392.46 L398.34 392.44 L398.46 392.42 L398.58 392.4 L398.7 392.38 L398.82 392.37 L398.94 392.36 L399.06 392.35 L399.18 392.36 L399.3 392.37 L399.42 392.39 L399.54 392.41 L399.66 392.44 L399.78 392.46 L399.9 392.49 L400.02 392.51 L400.14 392.53 L400.26 392.55 L400.38 392.56 L400.5 392.56 L400.62 392.56 L400.74 392.57 L400.86 392.58 L400.98 392.59 L401.1 392.61 L401.22 392.63 L401.34 392.65 L401.46 392.67 L401.58 392.69 L401.7 392.71 L401.82 392.72 L401.94 392.72 L402.06 392.72 L402.18 392.71 L402.3 392.71 L402.42 392.7 L402.54 392.69 L402.66 392.68 L402.78 392.67 L402.9 392.66 L403.02 392.65 L403.14 392.65 L403.26 392.64 L403.38 392.63 L403.5 392.63 L403.62 392.63 L403.74 392.62 L403.86 392.6 L403.98 392.59 L404.1 392.57 L404.22 392.56 L404.34 392.54 L404.46 392.52 L404.58 392.51 L404.7 392.5 L404.82 392.49 L404.94 392.48 L405.06 392.48 L405.18 392.48 L405.3 392.49 L405.42 392.5 L405.54 392.52 L405.66 392.54 L405.78 392.55 L405.9 392.57 L406.02 392.59 L406.14 392.6 L406.26 392.62 L406.38 392.62 L406.5 392.62 L406.62 392.62 L406.74 392.61 L406.86 392.6 L406.98 392.58 L407.1 392.56 L407.22 392.55 L407.34 392.53 L407.46 392.51 L407.58 392.5 L407.7 392.48 L407.82 392.47 L407.94 392.46 L408.06 392.46 L408.18 392.46 L408.3 392.45 L408.42 392.44 L408.54 392.44 L408.66 392.43 L408.78 392.42 L408.9 392.41 L409.02 392.41 L409.14 392.4 L409.26 392.39 L409.38 392.39 L409.5 392.38 L409.62 392.38 L409.74 392.37 L409.86 392.36 L409.98 392.35 L410.1 392.34 L410.22 392.33 L410.34 392.32 L410.46 392.3 L410.58 392.29 L410.7 392.28 L410.82 392.27 L410.94 392.27 L411.06 392.27 L411.18 392.26 L411.3 392.24 L411.42 392.22 L411.54 392.2 L411.66 392.18 L411.78 392.15 L411.9 392.13 L412.02 392.11 L412.14 392.09 L412.26 392.07 L412.38 392.06 L412.5 392.06 L412.62 392.06 L412.74 392.08 L412.86 392.11 L412.98 392.15 L413.1 392.19 L413.22 392.23 L413.34 392.28 L413.46 392.33 L413.58 392.37 L413.7 392.4 L413.82 392.43 L413.94 392.44 L414.06 392.44 L414.18 392.44 L414.3 392.44 L414.42 392.43 L414.54 392.43 L414.66 392.43 L414.78 392.43 L414.9 392.43 L415.02 392.43 L415.14 392.43 L415.26 392.43 L415.38 392.42 L415.5 392.42 L415.62 392.42 L415.74 392.42 L415.86 392.41 L415.98 392.41 L416.1 392.4 L416.22 392.39 L416.34 392.39 L416.46 392.38 L416.58 392.38 L416.7 392.37 L416.82 392.37 L416.94 392.36 L417.06 392.36 L417.18 392.36 L417.3 392.36 L417.42 392.35 L417.54 392.34 L417.66 392.34 L417.78 392.33 L417.9 392.32 L418.02 392.31 L418.14 392.31 L418.26 392.3 L418.38 392.3 L418.5 392.3 L418.62 392.3 L418.74 392.3 L418.86 392.31 L418.98 392.31 L419.1 392.32 L419.22 392.32 L419.34 392.33 L419.46 392.34 L419.58 392.34 L419.7 392.35 L419.82 392.35 L419.94 392.36 L420.06 392.36 L420.18 392.36 L420.3 392.36 L420.42 392.37 L420.54 392.38 L420.66 392.39 L420.78 392.4 L420.9 392.4 L421.02 392.41 L421.14 392.42 L421.26 392.42 L421.38 392.43 L421.5 392.43 L421.62 392.43 L421.74 392.43 L421.86 392.43 L421.98 392.43 L422.1 392.43 L422.22 392.43 L422.34 392.43 L422.46 392.43 L422.58 392.43 L422.7 392.44 L422.82 392.44 L422.94 392.44 L423.06 392.44 L423.18 392.43 L423.3 392.43 L423.42 392.42 L423.54 392.41 L423.66 392.39 L423.78 392.38 L423.9 392.37 L424.02 392.36 L424.14 392.35 L424.26 392.34 L424.38 392.34 L424.5 392.33 L424.62 392.33 L424.74 392.31 L424.86 392.28 L424.98 392.24 L425.1 392.2 L425.22 392.16 L425.34 392.11 L425.46 392.07 L425.58 392.03 L425.7 392 L425.82 391.97 L425.94 391.96 L426.06 391.96 L426.18 391.98 L426.3 392.01 L426.42 392.05 L426.54 392.1 L426.66 392.15 L426.78 392.2 L426.9 392.26 L427.02 392.31 L427.14 392.36 L427.26 392.39 L427.38 392.42 L427.5 392.42 L427.62 392.42 L427.74 392.41 L427.86 392.4 L427.98 392.38 L428.1 392.36 L428.22 392.33 L428.34 392.31 L428.46 392.29 L428.58 392.27 L428.7 392.25 L428.82 392.24 L428.94 392.23 L429.06 392.23 L429.18 392.23 L429.3 392.23 L429.42 392.22 L429.54 392.22 L429.66 392.21 L429.78 392.2 L429.9 392.2 L430.02 392.19 L430.14 392.18 L430.26 392.18 L430.38 392.18 L430.5 392.18 L430.62 392.18 L430.74 392.18 L430.86 392.17 L430.98 392.17 L431.1 392.17 L431.22 392.17 L431.34 392.17 L431.46 392.17 L431.58 392.17 L431.7 392.17 L431.82 392.17 L431.94 392.17 L432.06 392.17 L432.18 392.16 L432.3 392.16 L432.42 392.15 L432.54 392.14 L432.66 392.13 L432.78 392.12 L432.9 392.11 L433.02 392.1 L433.14 392.1 L433.26 392.09 L433.38 392.09 L433.5 392.09 L433.62 392.08 L433.74 392.08 L433.86 392.07 L433.98 392.06 L434.1 392.04 L434.22 392.03 L434.34 392.02 L434.46 392 L434.58 391.99 L434.7 391.98 L434.82 391.97 L434.94 391.97 L435.06 391.97 L435.18 391.98 L435.3 392 L435.42 392.02 L435.54 392.05 L435.66 392.09 L435.78 392.12 L435.9 392.16 L436.02 392.19 L436.14 392.22 L436.26 392.24 L436.38 392.25 L436.5 392.26 L436.62 392.26 L436.74 392.26 L436.86 392.26 L436.98 392.26 L437.1 392.26 L437.22 392.26 L437.34 392.26 L437.46 392.26 L437.58 392.26 L437.7 392.26 L437.82 392.26 L437.94 392.26 L438.06 392.26 L438.18 392.25 L438.3 392.23 L438.42 392.21 L438.54 392.18 L438.66 392.15 L438.78 392.12 L438.9 392.09 L439.02 392.06 L439.14 392.03 L439.26 392.01 L439.38 392 L439.5 391.99 L439.62 392 L439.74 392.02 L439.86 392.05 L439.98 392.09 L440.1 392.14 L440.22 392.19 L440.34 392.24 L440.46 392.29 L440.58 392.33 L440.7 392.37 L440.82 392.39 L440.94 392.41 L441.06 392.41 L441.18 392.41 L441.3 392.41 L441.42 392.41 L441.54 392.41 L441.66 392.41 L441.78 392.41 L441.9 392.41 L442.02 392.41 L442.14 392.41 L442.26 392.41 L442.38 392.42 L442.5 392.42 L442.62 392.43 L442.74 392.45 L442.86 392.46 L442.98 392.48 L443.1 392.51 L443.22 392.55 L443.34 392.6 L443.46 392.66 L443.58 392.73 L443.7 392.82 L443.82 392.93 L443.94 393.06 L444.06 393.21 L444.18 393.37 L444.3 393.56 L444.42 393.77 L444.54 394 L444.66 394.26 L444.78 394.53 L444.9 394.82 L445.02 395.13 L445.14 395.45 L445.26 395.77 L445.38 396.1 L445.5 396.42 L445.62 396.72 L445.74 397 L445.86 397.24 L445.98 397.43 L446.1 397.58 L446.22 397.68 L446.34 397.73 L446.46 397.72 L446.58 397.65 L446.7 397.54 L446.82 397.37 L446.94 397.16 L447.06 396.91 L447.18 396.63 L447.3 396.33 L447.42 396.01 L447.54 395.68 L447.66 395.34 L447.78 395.01 L447.9 394.69 L448.02 394.38 L448.14 394.09 L448.26 393.82 L448.38 393.57 L448.5 393.34 L448.62 393.14 L448.74 392.96 L448.86 392.8 L448.98 392.67 L449.1 392.55 L449.22 392.45 L449.34 392.37 L449.46 392.3 L449.58 392.24 L449.7 392.2 L449.82 392.16 L449.94 392.14 L450.06 392.12 L450.18 392.11 L450.3 392.12 L450.42 392.13 L450.54 392.16 L450.66 392.19 L450.78 392.22 L450.9 392.25 L451.02 392.28 L451.14 392.3 L451.26 392.32 L451.38 392.34 L451.5 392.34 L451.62 392.34 L451.74 392.34 L451.86 392.34 L451.98 392.33 L452.1 392.33 L452.22 392.33 L452.34 392.33 L452.46 392.32 L452.58 392.32 L452.7 392.32 L452.82 392.32 L452.94 392.31 L453.06 392.31 L453.18 392.31 L453.3 392.31 L453.42 392.31 L453.54 392.31 L453.66 392.31 L453.78 392.31 L453.9 392.3 L454.02 392.3 L454.14 392.3 L454.26 392.3 L454.38 392.3 L454.5 392.3 L454.62 392.3 L454.74 392.29 L454.86 392.27 L454.98 392.25 L455.1 392.23 L455.22 392.21 L455.34 392.19 L455.46 392.17 L455.58 392.15 L455.7 392.14 L455.82 392.13 L455.94 392.12 L456.06 392.12 L456.18 392.13 L456.3 392.13 L456.42 392.13 L456.54 392.14 L456.66 392.14 L456.78 392.14 L456.9 392.15 L457.02 392.15 L457.14 392.16 L457.26 392.16 L457.38 392.17 L457.5 392.17 L457.62 392.18 L457.74 392.19 L457.86 392.2 L457.98 392.21 L458.1 392.23 L458.22 392.25 L458.34 392.26 L458.46 392.28 L458.58 392.29 L458.7 392.31 L458.82 392.32 L458.94 392.32 L459.06 392.33 L459.18 392.33 L459.3 392.32 L459.42 392.31 L459.54 392.29 L459.66 392.27 L459.78 392.25 L459.9 392.23 L460.02 392.22 L460.14 392.2 L460.26 392.19 L460.38 392.18 L460.5 392.18 L460.62 392.18 L460.74 392.18 L460.86 392.18 L460.98 392.18 L461.1 392.17 L461.22 392.17 L461.34 392.16 L461.46 392.16 L461.58 392.15 L461.7 392.16 L461.82 392.18 L461.94 392.2 L462.06 392.24 L462.18 392.3 L462.3 392.39 L462.42 392.5 L462.54 392.64 L462.66 392.84 L462.78 393.1 L462.9 393.46 L463.02 393.95 L463.14 394.6 L463.26 395.47 L463.38 396.56 L463.5 397.9 L463.62 399.44 L463.74 401.13 L463.86 402.87 L463.98 404.51 L464.1 405.92 L464.22 406.94 L464.34 407.47 L464.46 407.44 L464.58 406.84 L464.7 405.76 L464.82 404.31 L464.94 402.64 L465.06 400.9 L465.18 399.23 L465.3 397.73 L465.42 396.46 L465.54 395.45 L465.66 394.68 L465.78 394.14 L465.9 393.77 L466.02 393.53 L466.14 393.4 L466.26 393.32 L466.38 393.3 L466.5 393.29 L466.62 393.31 L466.74 393.34 L466.86 393.37 L466.98 393.41 L467.1 393.45 L467.22 393.49 L467.34 393.54 L467.46 393.58 L467.58 393.62 L467.7 393.67 L467.82 393.72 L467.94 393.77 L468.06 393.85 L468.18 393.96 L468.3 394.12 L468.42 394.37 L468.54 394.75 L468.66 395.3 L468.78 396.04 L468.9 397.02 L469.02 398.22 L469.14 399.59 L469.26 401.06 L469.38 402.5 L469.5 403.77 L469.62 404.72 L469.74 405.24 L469.86 405.26 L469.98 404.78 L470.1 403.87 L470.22 402.65 L470.34 401.27 L470.46 399.87 L470.58 398.57 L470.7 397.45 L470.82 396.56 L470.94 395.89 L471.06 395.43 L471.18 395.13 L471.3 394.97 L471.42 394.89 L471.54 394.88 L471.66 394.9 L471.78 394.94 L471.9 394.99 L472.02 395.05 L472.14 395.1 L472.26 395.16 L472.38 395.21 L472.5 395.25 L472.62 395.3 L472.74 395.34 L472.86 395.38 L472.98 395.41 L473.1 395.47 L473.22 395.54 L473.34 395.63 L473.46 395.73 L473.58 395.83 L473.7 395.94 L473.82 396.06 L473.94 396.17 L474.06 396.28 L474.18 396.39 L474.3 396.49 L474.42 396.59 L474.54 396.69 L474.66 396.79 L474.78 396.89 L474.9 396.99 L475.02 397.1 L475.14 397.22 L475.26 397.34 L475.38 397.48 L475.5 397.62 L475.62 397.78 L475.74 397.94 L475.86 398.11 L475.98 398.28 L476.1 398.45 L476.22 398.62 L476.34 398.78 L476.46 398.94 L476.58 399.08 L476.7 399.2 L476.82 399.31 L476.94 399.39 L477.06 399.45 L477.18 399.49 L477.3 399.5 L477.42 399.5 L477.54 399.47 L477.66 399.45 L477.78 399.43 L477.9 399.42 L478.02 399.41 L478.14 399.42 L478.26 399.43 L478.38 399.46 L478.5 399.49 L478.62 399.54 L478.74 399.6 L478.86 399.67 L478.98 399.75 L479.1 399.83 L479.22 399.91 L479.34 399.99 L479.46 400.07 L479.58 400.14 L479.7 400.21 L479.82 400.27 L479.94 400.31 L480.06 400.35 L480.18 400.38 L480.3 400.41 L480.42 400.43 L480.54 400.44 L480.66 400.45 L480.78 400.45 L480.9 400.46 L481.02 400.49 L481.14 400.52 L481.26 400.56 L481.38 400.62 L481.5 400.67 L481.62 400.74 L481.74 400.81 L481.86 400.89 L481.98 400.97 L482.1 401.06 L482.22 401.15 L482.34 401.24 L482.46 401.33 L482.58 401.42 L482.7 401.5 L482.82 401.59 L482.94 401.66 L483.06 401.73 L483.18 401.78 L483.3 401.81 L483.42 401.83 L483.54 401.83 L483.66 401.82 L483.78 401.8 L483.9 401.77 L484.02 401.73 L484.14 401.71 L484.26 401.73 L484.38 401.78 L484.5 401.87 L484.62 401.98 L484.74 402.13 L484.86 402.3 L484.98 402.48 L485.1 402.68 L485.22 402.89 L485.34 403.1 L485.46 403.3 L485.58 403.5 L485.7 403.7 L485.82 403.89 L485.94 404.07 L486.06 404.27 L486.18 404.49 L486.3 404.77 L486.42 405.12 L486.54 405.58 L486.66 406.13 L486.78 406.75 L486.9 407.45 L487.02 408.18 L487.14 408.88 L487.26 409.46 L487.38 409.81 L487.5 409.87 L487.62 409.57 L487.74 408.9 L487.86 407.91 L487.98 406.68 L488.1 405.33 L488.22 403.97 L488.34 402.71 L488.46 401.64 L488.58 400.8 L488.7 400.15 L488.82 399.53 L488.94 398.93 L489.06 398.34 L489.18 397.75 L489.3 397.14 L489.42 396.52 L489.54 395.9 L489.66 395.27 L489.78 394.66 L489.9 394.08 L490.02 393.54 L490.14 393.07 L490.26 392.67 L490.38 392.38 L490.5 392.2 L490.62 392.16 L490.74 392.17 L490.86 392.2 L490.98 392.23 L491.1 392.27 L491.22 392.31 L491.34 392.36 L491.46 392.41 L491.58 392.46 L491.7 392.5 L491.82 392.54 L491.94 392.58 L492.06 392.61 L492.18 392.63 L492.3 392.65 L492.42 392.66 L492.54 392.67 L492.66 392.68 L492.78 392.68 L492.9 392.69 L493.02 392.7 L493.14 392.71 L493.26 392.72 L493.38 392.74 L493.5 392.76 L493.62 392.79 L493.74 392.82 L493.86 392.86 L493.98 392.9 L494.1 392.94 L494.22 392.98 L494.34 393.02 L494.46 393.06 L494.58 393.08 L494.7 393.1 L494.82 393.12 L494.94 393.13 L495.06 393.13 L495.18 393.14 L495.3 393.16 L495.42 393.18 L495.54 393.2 L495.66 393.23 L495.78 393.27 L495.9 393.32 L496.02 393.39 L496.14 393.49 L496.26 393.64 L496.38 393.85 L496.5 394.12 L496.62 394.45 L496.74 394.79 L496.86 395.1 L496.98 395.32 L497.1 395.4 L497.22 395.32 L497.34 395.11 L497.46 394.8 L497.58 394.46 L497.7 394.15 L497.82 393.89 L497.94 393.71 L498.06 393.59 L498.18 393.53 L498.3 393.51 L498.42 393.52 L498.54 393.55 L498.66 393.62 L498.78 393.72 L498.9 393.87 L499.02 394.09 L499.14 394.39 L499.26 394.79 L499.38 395.29 L499.5 395.89 L499.62 396.57 L499.74 397.29 L499.86 398.02 L499.98 398.7 L500.1 399.27 L500.22 399.67 L500.34 399.87 L500.46 399.85 L500.58 399.6 L500.7 399.16 L500.82 398.56 L500.94 397.87 L501.06 397.14 L501.18 396.43 L501.3 395.79 L501.42 395.24 L501.54 394.8 L501.66 394.47 L501.78 394.23 L501.9 394.07 L502.02 393.98 L502.14 393.92 L502.26 393.9 L502.38 393.88 L502.5 393.87 L502.62 393.85 L502.74 393.83 L502.86 393.8 L502.98 393.77 L503.1 393.73 L503.22 393.69 L503.34 393.64 L503.46 393.6 L503.58 393.55 L503.7 393.51 L503.82 393.48 L503.94 393.45 L504.06 393.44 L504.18 393.43 L504.3 393.43 L504.42 393.44 L504.54 393.45 L504.66 393.46 L504.78 393.47 L504.9 393.48 L505.02 393.49 L505.14 393.5 L505.26 393.5 L505.38 393.49 L505.5 393.47 L505.62 393.43 L505.74 393.39 L505.86 393.33 L505.98 393.27 L506.1 393.2 L506.22 393.13 L506.34 393.06 L506.46 392.99 L506.58 392.92 L506.7 392.87 L506.82 392.82 L506.94 392.78 L507.06 392.76 L507.18 392.75 L507.3 392.73 L507.42 392.72 L507.54 392.72 L507.66 392.71 L507.78 392.71 L507.9 392.7 L508.02 392.7 L508.14 392.7 L508.26 392.7 L508.38 392.7 L508.5 392.7 L508.62 392.71 L508.74 392.72 L508.86 392.75 L508.98 392.79 L509.1 392.83 L509.22 392.88 L509.34 392.93 L509.46 392.98 L509.58 393.03 L509.7 393.07 L509.82 393.11 L509.94 393.14 L510.06 393.15 L510.18 393.17 L510.3 393.18 L510.42 393.19 L510.54 393.19 L510.66 393.2 L510.78 393.2 L510.9 393.2 L511.02 393.2 L511.14 393.21 L511.26 393.21 L511.38 393.21 L511.5 393.22 L511.62 393.22 L511.74 393.2 L511.86 393.18 L511.98 393.15 L512.1 393.11 L512.22 393.07 L512.34 393.03 L512.46 392.98 L512.58 392.93 L512.7 392.89 L512.82 392.85 L512.94 392.81 L513.06 392.79 L513.18 392.76 L513.3 392.74 L513.42 392.72 L513.54 392.7 L513.66 392.68 L513.78 392.66 L513.9 392.64 L514.02 392.62 L514.14 392.6 L514.26 392.57 L514.38 392.53 L514.5 392.5 L514.62 392.46 L514.74 392.42 L514.86 392.38 L514.98 392.35 L515.1 392.31 L515.22 392.28 L515.34 392.24 L515.46 392.21 L515.58 392.18 L515.7 392.14 L515.82 392.11 L515.94 392.08 L516.06 392.05 L516.18 392.01 L516.3 391.97 L516.42 391.93 L516.54 391.89 L516.66 391.85 L516.78 391.81 L516.9 391.78 L517.02 391.75 L517.14 391.72 L517.26 391.7 L517.38 391.68 L517.5 391.68" fill="none" stroke="#a052a6" stroke-width="1.05" stroke-linejoin="round" />
<text x="308.4" y="389.2" font-size="7.6" fill="#333" text-anchor="start" font-weight="normal" stroke="#333" stroke-width="0.12" >MP</text>
<text x="308.4" y="399.5" font-size="7.6" fill="#333" text-anchor="start" font-weight="normal" stroke="#333" stroke-width="0.12" >754K</text>
<text x="0" y="0" font-size="7.73" fill="#444" text-anchor="middle" font-weight="normal" stroke="#444" stroke-width="0.12"  transform="translate(351.3 476.3) scale(0.88 1)">2958</text>
<line x1="359.6" y1="472.6" x2="371.6" y2="469.6" stroke="#555" stroke-width="0.6"/>
<text x="0" y="0" font-size="7.73" fill="#444" text-anchor="middle" font-weight="normal" stroke="#444" stroke-width="0.12"  transform="translate(393.2 476.3) scale(0.88 1)">2918</text>
<line x1="374.4" y1="469.6" x2="385.4" y2="473.2" stroke="#555" stroke-width="0.6"/>
<text x="0" y="0" font-size="7.73" fill="#444" text-anchor="middle" font-weight="normal" stroke="#444" stroke-width="0.12"  transform="translate(445.8 407.8) scale(0.88 1)">1760</text>
<text x="0" y="0" font-size="7.73" fill="#444" text-anchor="middle" font-weight="normal" stroke="#444" stroke-width="0.12"  transform="translate(450.8 419.3) scale(0.88 1)">1460</text>
<line x1="464.6" y1="409.2" x2="456.4" y2="414.8" stroke="#555" stroke-width="0.6"/>
<text x="0" y="0" font-size="7.73" fill="#444" text-anchor="middle" font-weight="normal" stroke="#444" stroke-width="0.12"  transform="translate(477.4 420.5) scale(0.88 1)">1380</text>
<line x1="469.8" y1="408.5" x2="474.6" y2="415.6" stroke="#555" stroke-width="0.6"/>
<text x="0" y="0" font-size="7.73" fill="#444" text-anchor="middle" font-weight="normal" stroke="#444" stroke-width="0.12"  transform="translate(499.6 406.8) scale(0.88 1)">890</text>

</svg>
</body></html>
